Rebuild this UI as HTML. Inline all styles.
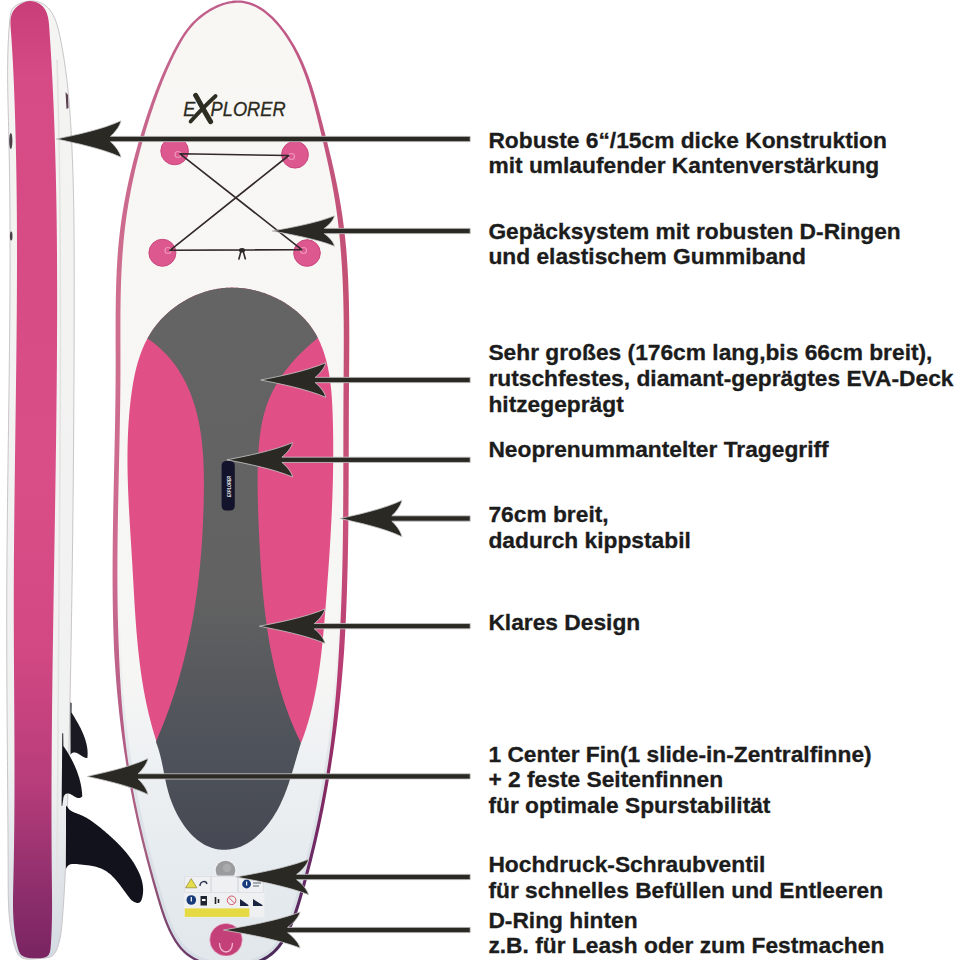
<!DOCTYPE html>
<html><head><meta charset="utf-8"><style>
html,body{margin:0;padding:0;background:#fff;}
svg{display:block;}
text{font-family:"Liberation Sans",sans-serif;}
</style></head><body>
<svg width="960" height="960" viewBox="0 0 960 960">
<defs>
 <linearGradient id="sidePink" x1="0" y1="0" x2="0" y2="1">
  <stop offset="0" stop-color="#c83e78"/>
  <stop offset="0.08" stop-color="#d64a85"/>
  <stop offset="0.5" stop-color="#da4e87"/>
  <stop offset="0.68" stop-color="#d24883"/>
  <stop offset="0.82" stop-color="#b63c7a"/>
  <stop offset="0.93" stop-color="#8e2e6c"/>
  <stop offset="1" stop-color="#7a2462"/>
 </linearGradient>
 <linearGradient id="sideBody" gradientUnits="userSpaceOnUse" x1="0" y1="0" x2="0" y2="960">
  <stop offset="0" stop-color="#f4f4f2"/>
  <stop offset="0.8" stop-color="#f0f1f1"/>
  <stop offset="0.9" stop-color="#e2e6ea"/>
  <stop offset="1" stop-color="#d4dae2"/>
 </linearGradient>
 <linearGradient id="greyG" gradientUnits="userSpaceOnUse" x1="0" y1="288" x2="0" y2="851">
  <stop offset="0" stop-color="#646464"/>
  <stop offset="0.55" stop-color="#626262"/>
  <stop offset="0.66" stop-color="#595b5e"/>
  <stop offset="0.82" stop-color="#4e525a"/>
  <stop offset="1" stop-color="#464953"/>
 </linearGradient>
 <linearGradient id="rimL" gradientUnits="userSpaceOnUse" x1="0" y1="0" x2="0" y2="960">
  <stop offset="0" stop-color="#c0608a"/>
  <stop offset="0.3" stop-color="#d06e8f"/>
  <stop offset="0.6" stop-color="#cc6a90"/>
  <stop offset="0.76" stop-color="#b45c86"/>
  <stop offset="0.88" stop-color="#a65e80"/>
  <stop offset="1" stop-color="#6a3a68"/>
 </linearGradient>
 <linearGradient id="rimR" gradientUnits="userSpaceOnUse" x1="0" y1="0" x2="0" y2="960">
  <stop offset="0" stop-color="#c05a88"/>
  <stop offset="0.3" stop-color="#c45074"/>
  <stop offset="0.55" stop-color="#c8507a"/>
  <stop offset="0.72" stop-color="#b63a72"/>
  <stop offset="0.8" stop-color="#8a2a62"/>
  <stop offset="0.9" stop-color="#6a2a66"/>
  <stop offset="1" stop-color="#4a2a58"/>
 </linearGradient>
 <linearGradient id="railG" gradientUnits="userSpaceOnUse" x1="0" y1="0" x2="0" y2="960">
  <stop offset="0" stop-color="#f8f7f4" stop-opacity="0"/>
  <stop offset="0.6" stop-color="#eef0f0" stop-opacity="0"/>
  <stop offset="0.8" stop-color="#dde3e8" stop-opacity="0.9"/>
  <stop offset="1" stop-color="#d6dde4" stop-opacity="1"/>
 </linearGradient>
 <clipPath id="clipL"><rect x="0" y="0" width="232" height="960"/></clipPath>
 <clipPath id="clipR"><rect x="232" y="0" width="300" height="960"/></clipPath>
 <clipPath id="clipBoard"><path d="M238.71,1.61 L236.49,1.62 L234.25,1.77 L232.00,2.03 L229.73,2.41 L227.45,2.91 L225.17,3.51 L222.90,4.21 L220.63,5.02 L218.38,5.91 L216.14,6.90 L213.93,7.98 L211.75,9.13 L209.59,10.36 L207.48,11.67 L205.41,13.04 L203.39,14.47 L201.42,15.97 L199.51,17.51 L197.66,19.11 L195.88,20.75 L194.17,22.44 L192.53,24.16 L190.96,25.92 L189.45,27.71 L188.00,29.53 L186.60,31.39 L185.26,33.27 L183.96,35.18 L182.71,37.11 L181.49,39.07 L180.31,41.04 L179.16,43.03 L178.04,45.04 L176.95,47.07 L175.87,49.10 L174.81,51.14 L173.77,53.19 L172.73,55.25 L171.72,57.32 L170.71,59.40 L169.72,61.48 L168.75,63.57 L167.78,65.67 L166.83,67.77 L165.89,69.88 L164.96,72.00 L164.05,74.13 L163.14,76.26 L162.25,78.40 L161.37,80.54 L160.50,82.70 L159.64,84.85 L158.79,87.01 L157.96,89.18 L157.13,91.35 L156.31,93.53 L155.50,95.72 L154.70,97.90 L153.91,100.10 L153.13,102.29 L152.36,104.49 L151.60,106.70 L150.84,108.91 L150.10,111.12 L149.36,113.34 L148.62,115.56 L147.90,117.78 L147.18,120.01 L146.47,122.24 L145.77,124.47 L145.07,126.70 L144.38,128.94 L143.70,131.18 L143.02,133.43 L142.36,135.67 L141.70,137.92 L141.04,140.17 L140.40,142.42 L139.76,144.68 L139.13,146.93 L138.51,149.19 L137.89,151.46 L137.29,153.72 L136.69,155.99 L136.10,158.25 L135.52,160.52 L134.94,162.80 L134.38,165.07 L133.82,167.35 L133.28,169.62 L132.74,171.90 L132.21,174.18 L131.69,176.47 L131.18,178.75 L130.68,181.04 L130.19,183.33 L129.71,185.61 L129.23,187.90 L128.77,190.20 L128.32,192.49 L127.88,194.78 L127.44,197.08 L127.02,199.37 L126.61,201.67 L126.21,203.97 L125.81,206.27 L125.43,208.57 L125.06,210.87 L124.70,213.18 L124.36,215.48 L124.02,217.78 L123.69,220.09 L123.38,222.39 L123.07,224.70 L122.78,227.00 L122.50,229.31 L122.23,231.62 L121.97,233.93 L121.72,236.24 L121.48,238.54 L121.25,240.85 L121.03,243.16 L120.83,245.47 L120.63,247.78 L120.44,250.10 L120.26,252.41 L120.09,254.72 L119.92,257.03 L119.77,259.35 L119.62,261.66 L119.49,263.97 L119.36,266.29 L119.23,268.60 L119.12,270.92 L119.01,273.24 L118.91,275.55 L118.82,277.87 L118.73,280.19 L118.65,282.51 L118.57,284.82 L118.50,287.14 L118.44,289.46 L118.38,291.78 L118.33,294.10 L118.28,296.42 L118.23,298.74 L118.20,301.07 L118.16,303.39 L118.13,305.71 L118.10,308.03 L118.08,310.35 L118.06,312.68 L118.04,315.00 L118.03,317.33 L118.02,319.65 L118.01,321.98 L118.01,324.30 L118.00,326.63 L118.00,328.95 L118.00,331.28 L118.00,333.61 L118.00,335.93 L118.01,338.26 L118.01,340.59 L118.02,342.92 L118.02,345.25 L118.03,347.58 L118.03,349.91 L118.04,352.24 L118.04,354.57 L118.05,356.90 L118.05,359.23 L118.05,361.56 L118.05,363.89 L118.05,366.22 L118.05,368.56 L118.04,370.89 L118.03,373.22 L118.02,375.55 L118.01,377.89 L118.00,380.22 L117.98,382.56 L117.97,384.89 L117.95,387.22 L117.92,389.56 L117.90,391.90 L117.88,394.23 L117.85,396.57 L117.82,398.90 L117.79,401.24 L117.76,403.58 L117.73,405.91 L117.70,408.25 L117.66,410.59 L117.63,412.92 L117.59,415.26 L117.55,417.60 L117.51,419.94 L117.47,422.28 L117.43,424.61 L117.39,426.95 L117.34,429.29 L117.30,431.63 L117.25,433.97 L117.21,436.31 L117.16,438.65 L117.11,440.99 L117.07,443.33 L117.02,445.67 L116.97,448.01 L116.92,450.35 L116.87,452.69 L116.82,455.03 L116.77,457.37 L116.72,459.71 L116.67,462.05 L116.62,464.39 L116.56,466.73 L116.51,469.07 L116.46,471.41 L116.41,473.75 L116.36,476.09 L116.31,478.43 L116.26,480.77 L116.21,483.11 L116.16,485.45 L116.11,487.80 L116.06,490.14 L116.01,492.48 L115.96,494.82 L115.91,497.16 L115.87,499.50 L115.82,501.84 L115.77,504.18 L115.73,506.52 L115.68,508.86 L115.64,511.20 L115.60,513.54 L115.56,515.88 L115.52,518.22 L115.48,520.56 L115.44,522.91 L115.40,525.25 L115.36,527.59 L115.33,529.93 L115.30,532.26 L115.26,534.60 L115.23,536.94 L115.21,539.28 L115.18,541.62 L115.15,543.96 L115.13,546.30 L115.11,548.64 L115.08,550.98 L115.07,553.32 L115.05,555.65 L115.03,557.99 L115.02,560.33 L115.01,562.67 L115.00,565.01 L114.99,567.34 L114.99,569.68 L114.98,572.02 L114.98,574.35 L114.98,576.69 L114.99,579.03 L115.00,581.36 L115.00,583.70 L115.02,586.03 L115.03,588.37 L115.05,590.70 L115.07,593.04 L115.09,595.37 L115.11,597.71 L115.14,600.04 L115.17,602.37 L115.20,604.70 L115.24,607.04 L115.28,609.37 L115.32,611.70 L115.37,614.03 L115.41,616.36 L115.47,618.70 L115.52,621.03 L115.58,623.36 L115.64,625.69 L115.71,628.02 L115.78,630.34 L115.85,632.67 L115.92,635.00 L116.00,637.33 L116.09,639.66 L116.17,641.98 L116.26,644.31 L116.36,646.64 L116.46,648.96 L116.56,651.29 L116.66,653.61 L116.77,655.94 L116.89,658.26 L117.01,660.58 L117.13,662.91 L117.26,665.23 L117.39,667.55 L117.52,669.87 L117.66,672.20 L117.81,674.52 L117.96,676.84 L118.11,679.16 L118.27,681.47 L118.43,683.79 L118.60,686.11 L118.77,688.43 L118.95,690.74 L119.13,693.06 L119.31,695.38 L119.51,697.69 L119.70,700.01 L119.90,702.32 L120.11,704.63 L120.32,706.95 L120.54,709.26 L120.76,711.57 L120.99,713.88 L121.22,716.19 L121.46,718.50 L121.71,720.81 L121.96,723.12 L122.21,725.42 L122.47,727.73 L122.74,730.04 L123.01,732.34 L123.29,734.65 L123.57,736.95 L123.86,739.26 L124.16,741.56 L124.46,743.86 L124.76,746.16 L125.08,748.46 L125.40,750.76 L125.72,753.06 L126.05,755.36 L126.39,757.66 L126.74,759.96 L127.09,762.25 L127.45,764.55 L127.81,766.84 L128.18,769.14 L128.56,771.43 L128.94,773.72 L129.33,776.02 L129.73,778.31 L130.13,780.60 L130.54,782.89 L130.96,785.18 L131.38,787.46 L131.81,789.75 L132.24,792.04 L132.68,794.32 L133.13,796.61 L133.58,798.89 L134.04,801.18 L134.50,803.46 L134.97,805.75 L135.45,808.03 L135.93,810.31 L136.41,812.59 L136.91,814.87 L137.41,817.15 L137.91,819.43 L138.42,821.71 L138.93,823.99 L139.45,826.27 L139.98,828.54 L140.51,830.82 L141.04,833.10 L141.59,835.37 L142.13,837.65 L142.68,839.93 L143.24,842.20 L143.80,844.47 L144.37,846.75 L144.94,849.02 L145.51,851.30 L146.09,853.57 L146.68,855.84 L147.27,858.11 L147.86,860.39 L148.46,862.66 L149.06,864.93 L149.67,867.20 L150.28,869.47 L150.90,871.74 L151.52,874.01 L152.14,876.28 L152.77,878.55 L153.40,880.82 L154.04,883.09 L154.68,885.36 L155.33,887.63 L155.97,889.90 L156.63,892.17 L157.28,894.43 L157.94,896.70 L158.61,898.97 L159.28,901.24 L159.96,903.50 L160.65,905.75 L161.35,908.00 L162.07,910.24 L162.81,912.46 L163.56,914.68 L164.34,916.88 L165.14,919.06 L165.96,921.23 L166.81,923.38 L167.69,925.50 L168.60,927.61 L169.54,929.69 L170.52,931.74 L171.54,933.77 L172.60,935.76 L173.69,937.73 L174.83,939.66 L176.02,941.56 L177.26,943.42 L178.56,945.23 L179.92,946.98 L181.35,948.67 L182.86,950.30 L184.45,951.85 L186.13,953.33 L187.89,954.73 L189.72,956.05 L191.63,957.30 L193.62,958.47 L195.67,959.57 L197.79,960.60 L199.97,961.55 L202.21,962.43 L204.50,963.23 L206.83,963.95 L209.21,964.61 L211.63,965.18 L214.08,965.68 L216.55,966.10 L219.06,966.45 L221.58,966.72 L224.11,966.92 L226.66,967.04 L229.21,967.08 L231.76,967.04 L234.31,966.93 L236.85,966.74 L239.38,966.48 L241.89,966.13 L244.37,965.71 L246.83,965.21 L249.26,964.63 L251.65,963.97 L254.01,963.24 L256.31,962.42 L258.57,961.53 L260.77,960.55 L262.91,959.50 L264.99,958.37 L267.00,957.16 L268.94,955.87 L270.80,954.49 L272.58,953.04 L274.27,951.51 L275.87,949.90 L277.38,948.21 L278.82,946.46 L280.18,944.65 L281.48,942.79 L282.73,940.89 L283.92,938.95 L285.06,936.98 L286.16,934.99 L287.22,932.96 L288.24,930.91 L289.22,928.84 L290.16,926.74 L291.07,924.62 L291.95,922.49 L292.80,920.33 L293.62,918.16 L294.41,915.97 L295.18,913.76 L295.93,911.55 L296.66,909.32 L297.37,907.08 L298.07,904.84 L298.75,902.59 L299.42,900.33 L300.08,898.07 L300.73,895.81 L301.38,893.54 L302.02,891.28 L302.66,889.01 L303.29,886.75 L303.92,884.48 L304.54,882.21 L305.16,879.94 L305.77,877.68 L306.38,875.41 L306.98,873.14 L307.57,870.87 L308.16,868.59 L308.75,866.32 L309.33,864.05 L309.91,861.78 L310.48,859.50 L311.04,857.23 L311.60,854.95 L312.16,852.68 L312.71,850.40 L313.25,848.12 L313.79,845.85 L314.32,843.57 L314.85,841.29 L315.38,839.01 L315.90,836.73 L316.41,834.45 L316.92,832.16 L317.42,829.88 L317.92,827.60 L318.41,825.32 L318.90,823.03 L319.38,820.75 L319.86,818.46 L320.33,816.18 L320.80,813.89 L321.26,811.60 L321.72,809.31 L322.17,807.02 L322.61,804.74 L323.05,802.45 L323.49,800.15 L323.92,797.86 L324.35,795.57 L324.77,793.28 L325.18,790.99 L325.59,788.69 L326.00,786.40 L326.40,784.10 L326.79,781.81 L327.18,779.51 L327.56,777.22 L327.94,774.92 L328.32,772.62 L328.68,770.32 L329.05,768.02 L329.40,765.72 L329.76,763.42 L330.11,761.12 L330.45,758.82 L330.79,756.52 L331.12,754.22 L331.45,751.91 L331.77,749.61 L332.09,747.31 L332.40,745.00 L332.71,742.70 L333.01,740.39 L333.31,738.08 L333.61,735.78 L333.90,733.47 L334.18,731.16 L334.46,728.85 L334.74,726.54 L335.01,724.23 L335.28,721.92 L335.54,719.61 L335.80,717.30 L336.05,714.99 L336.30,712.68 L336.55,710.36 L336.79,708.05 L337.03,705.74 L337.26,703.42 L337.49,701.11 L337.71,698.79 L337.93,696.48 L338.15,694.16 L338.36,691.85 L338.57,689.53 L338.78,687.21 L338.98,684.89 L339.18,682.58 L339.37,680.26 L339.56,677.94 L339.74,675.62 L339.93,673.30 L340.11,670.98 L340.28,668.66 L340.45,666.34 L340.62,664.02 L340.79,661.69 L340.95,659.37 L341.10,657.05 L341.26,654.73 L341.41,652.40 L341.56,650.08 L341.70,647.75 L341.84,645.43 L341.98,643.11 L342.12,640.78 L342.25,638.45 L342.38,636.13 L342.50,633.80 L342.63,631.48 L342.75,629.15 L342.86,626.82 L342.98,624.49 L343.09,622.17 L343.20,619.84 L343.30,617.51 L343.41,615.18 L343.51,612.85 L343.60,610.52 L343.70,608.19 L343.79,605.86 L343.88,603.53 L343.97,601.20 L344.05,598.87 L344.13,596.54 L344.21,594.21 L344.29,591.88 L344.37,589.55 L344.44,587.22 L344.51,584.88 L344.58,582.55 L344.65,580.22 L344.71,577.89 L344.77,575.55 L344.83,573.22 L344.89,570.89 L344.95,568.55 L345.00,566.22 L345.05,563.88 L345.10,561.55 L345.15,559.22 L345.20,556.88 L345.24,554.55 L345.29,552.21 L345.33,549.88 L345.37,547.54 L345.41,545.21 L345.44,542.87 L345.48,540.53 L345.51,538.20 L345.55,535.86 L345.58,533.53 L345.61,531.19 L345.63,528.85 L345.66,526.52 L345.69,524.18 L345.71,521.84 L345.73,519.51 L345.76,517.17 L345.78,514.83 L345.80,512.50 L345.81,510.16 L345.83,507.82 L345.85,505.48 L345.86,503.15 L345.88,500.81 L345.89,498.47 L345.91,496.13 L345.92,493.80 L345.93,491.46 L345.94,489.12 L345.95,486.78 L345.96,484.45 L345.97,482.11 L345.98,479.77 L345.99,477.43 L345.99,475.09 L346.00,472.76 L346.01,470.42 L346.01,468.08 L346.02,465.74 L346.02,463.40 L346.03,461.07 L346.03,458.73 L346.04,456.39 L346.04,454.05 L346.05,451.71 L346.05,449.38 L346.06,447.04 L346.06,444.70 L346.07,442.36 L346.07,440.02 L346.08,437.69 L346.08,435.35 L346.08,433.01 L346.09,430.67 L346.10,428.34 L346.10,426.00 L346.11,423.66 L346.11,421.33 L346.12,418.99 L346.13,416.65 L346.13,414.32 L346.14,411.98 L346.15,409.64 L346.16,407.31 L346.17,404.97 L346.18,402.63 L346.19,400.30 L346.21,397.96 L346.22,395.62 L346.23,393.29 L346.25,390.95 L346.26,388.62 L346.28,386.28 L346.29,383.95 L346.31,381.61 L346.33,379.28 L346.35,376.94 L346.36,374.61 L346.38,372.28 L346.40,369.94 L346.41,367.61 L346.43,365.28 L346.45,362.94 L346.46,360.61 L346.47,358.28 L346.49,355.94 L346.50,353.61 L346.51,351.28 L346.51,348.95 L346.52,346.62 L346.53,344.29 L346.53,341.95 L346.53,339.62 L346.53,337.29 L346.52,334.96 L346.52,332.63 L346.51,330.30 L346.49,327.98 L346.48,325.65 L346.46,323.32 L346.44,320.99 L346.42,318.66 L346.39,316.34 L346.36,314.01 L346.32,311.68 L346.28,309.36 L346.24,307.03 L346.19,304.70 L346.14,302.38 L346.08,300.05 L346.02,297.73 L345.95,295.41 L345.88,293.08 L345.81,290.76 L345.73,288.44 L345.64,286.12 L345.55,283.79 L345.45,281.47 L345.35,279.15 L345.24,276.83 L345.13,274.51 L345.00,272.19 L344.88,269.87 L344.74,267.55 L344.60,265.24 L344.46,262.92 L344.30,260.60 L344.14,258.29 L343.97,255.97 L343.80,253.66 L343.62,251.34 L343.43,249.03 L343.23,246.71 L343.02,244.40 L342.81,242.09 L342.59,239.77 L342.36,237.46 L342.12,235.15 L341.87,232.84 L341.62,230.53 L341.35,228.22 L341.08,225.91 L340.80,223.61 L340.51,221.30 L340.21,218.99 L339.90,216.69 L339.58,214.38 L339.25,212.08 L338.91,209.77 L338.56,207.47 L338.20,205.17 L337.83,202.86 L337.45,200.56 L337.06,198.26 L336.66,195.96 L336.25,193.66 L335.83,191.36 L335.41,189.07 L334.97,186.77 L334.53,184.47 L334.08,182.18 L333.62,179.89 L333.15,177.59 L332.68,175.30 L332.20,173.01 L331.71,170.72 L331.21,168.43 L330.71,166.14 L330.21,163.85 L329.70,161.57 L329.18,159.28 L328.66,157.00 L328.13,154.72 L327.59,152.44 L327.06,150.16 L326.52,147.88 L325.97,145.60 L325.42,143.32 L324.87,141.05 L324.32,138.77 L323.76,136.50 L323.20,134.23 L322.63,131.96 L322.07,129.69 L321.50,127.43 L320.93,125.16 L320.36,122.90 L319.79,120.64 L319.22,118.38 L318.64,116.12 L318.06,113.86 L317.48,111.61 L316.89,109.36 L316.30,107.11 L315.70,104.86 L315.09,102.62 L314.47,100.38 L313.84,98.15 L313.20,95.92 L312.55,93.69 L311.89,91.47 L311.21,89.26 L310.52,87.05 L309.82,84.84 L309.09,82.65 L308.35,80.45 L307.60,78.27 L306.82,76.09 L306.02,73.91 L305.20,71.75 L304.36,69.59 L303.50,67.44 L302.61,65.30 L301.70,63.16 L300.76,61.04 L299.80,58.92 L298.80,56.81 L297.78,54.71 L296.73,52.62 L295.65,50.54 L294.54,48.47 L293.40,46.41 L292.22,44.36 L291.01,42.32 L289.76,40.29 L288.48,38.28 L287.16,36.27 L285.80,34.28 L284.41,32.31 L282.98,30.36 L281.51,28.44 L280.01,26.55 L278.47,24.69 L276.90,22.88 L275.29,21.11 L273.65,19.39 L271.98,17.72 L270.27,16.11 L268.53,14.56 L266.76,13.07 L264.95,11.66 L263.11,10.32 L261.24,9.06 L259.34,7.88 L257.41,6.79 L255.45,5.79 L253.46,4.88 L251.44,4.08 L249.39,3.38 L247.31,2.79 L245.20,2.32 L243.06,1.96 L240.90,1.72 L238.71,1.61 Z"/></clipPath>
 <linearGradient id="boardG" gradientUnits="userSpaceOnUse" x1="0" y1="0" x2="0" y2="960">
  <stop offset="0" stop-color="#f8f7f4"/>
  <stop offset="0.7" stop-color="#f6f6f4"/>
  <stop offset="0.79" stop-color="#eef1f3"/>
  <stop offset="0.9" stop-color="#e6ebef"/>
  <stop offset="1" stop-color="#e2e7ec"/>
 </linearGradient>
</defs>
<rect width="960" height="960" fill="#fff"/>

<!-- side board -->
<path d="M24.26,1.88 L20.58,3.09 L17.12,4.77 L14.20,6.90 L12.14,9.46 L10.93,12.36 L10.30,15.50 L9.94,18.74 L9.63,22.00 L9.35,25.26 L9.10,28.53 L8.87,31.79 L8.66,35.06 L8.47,38.33 L8.31,41.61 L8.16,44.88 L8.04,48.16 L7.93,51.44 L7.84,54.72 L7.77,58.01 L7.71,61.29 L7.67,64.58 L7.65,67.87 L7.63,71.16 L7.63,74.45 L7.64,77.75 L7.66,81.04 L7.70,84.34 L7.74,87.64 L7.79,90.94 L7.84,94.24 L7.91,97.54 L7.97,100.84 L8.05,104.14 L8.13,107.44 L8.21,110.74 L8.29,114.05 L8.37,117.35 L8.46,120.65 L8.54,123.96 L8.63,127.26 L8.71,130.57 L8.79,133.87 L8.86,137.17 L8.94,140.48 L9.01,143.78 L9.07,147.08 L9.14,150.38 L9.20,153.69 L9.26,156.99 L9.32,160.29 L9.38,163.59 L9.43,166.90 L9.48,170.20 L9.53,173.50 L9.58,176.80 L9.62,180.10 L9.66,183.40 L9.70,186.70 L9.74,190.01 L9.77,193.31 L9.81,196.61 L9.84,199.91 L9.87,203.21 L9.89,206.51 L9.92,209.81 L9.94,213.11 L9.96,216.41 L9.98,219.71 L10.00,223.01 L10.01,226.31 L10.02,229.61 L10.04,232.91 L10.05,236.21 L10.05,239.51 L10.06,242.81 L10.06,246.10 L10.07,249.40 L10.07,252.70 L10.07,256.00 L10.06,259.30 L10.06,262.60 L10.05,265.90 L10.05,269.20 L10.04,272.49 L10.03,275.79 L10.02,279.09 L10.00,282.39 L9.99,285.69 L9.97,288.98 L9.96,292.28 L9.94,295.58 L9.92,298.88 L9.90,302.18 L9.88,305.47 L9.86,308.77 L9.83,312.07 L9.81,315.37 L9.78,318.66 L9.75,321.96 L9.72,325.26 L9.70,328.56 L9.67,331.85 L9.63,335.15 L9.60,338.45 L9.57,341.74 L9.54,345.04 L9.50,348.34 L9.47,351.63 L9.43,354.93 L9.39,358.23 L9.36,361.53 L9.32,364.82 L9.28,368.12 L9.24,371.42 L9.20,374.71 L9.16,378.01 L9.12,381.31 L9.08,384.60 L9.04,387.90 L8.99,391.20 L8.95,394.49 L8.91,397.79 L8.86,401.09 L8.82,404.38 L8.78,407.68 L8.73,410.97 L8.69,414.27 L8.64,417.57 L8.60,420.86 L8.55,424.16 L8.51,427.46 L8.46,430.75 L8.42,434.05 L8.37,437.35 L8.33,440.64 L8.28,443.94 L8.24,447.24 L8.19,450.53 L8.15,453.83 L8.10,457.13 L8.06,460.42 L8.01,463.72 L7.97,467.02 L7.93,470.31 L7.88,473.61 L7.84,476.91 L7.80,480.20 L7.75,483.50 L7.71,486.80 L7.67,490.10 L7.63,493.39 L7.59,496.69 L7.55,499.99 L7.51,503.28 L7.47,506.58 L7.43,509.88 L7.39,513.18 L7.36,516.47 L7.32,519.77 L7.29,523.07 L7.25,526.37 L7.22,529.66 L7.18,532.96 L7.15,536.26 L7.12,539.56 L7.09,542.85 L7.06,546.15 L7.03,549.45 L7.01,552.75 L6.98,556.05 L6.95,559.34 L6.93,562.64 L6.91,565.94 L6.88,569.24 L6.86,572.54 L6.84,575.84 L6.82,579.14 L6.81,582.44 L6.79,585.73 L6.78,589.03 L6.76,592.33 L6.75,595.63 L6.74,598.93 L6.73,602.23 L6.72,605.53 L6.72,608.83 L6.71,612.13 L6.71,615.43 L6.71,618.73 L6.71,622.03 L6.71,625.33 L6.71,628.63 L6.71,631.93 L6.72,635.23 L6.72,638.53 L6.73,641.83 L6.74,645.13 L6.74,648.43 L6.75,651.73 L6.76,655.03 L6.77,658.33 L6.79,661.63 L6.80,664.94 L6.81,668.24 L6.83,671.54 L6.84,674.84 L6.86,678.14 L6.88,681.44 L6.90,684.74 L6.91,688.04 L6.93,691.34 L6.95,694.64 L6.97,697.94 L7.00,701.24 L7.02,704.54 L7.04,707.84 L7.06,711.14 L7.09,714.44 L7.11,717.74 L7.13,721.04 L7.16,724.34 L7.18,727.64 L7.21,730.94 L7.23,734.24 L7.26,737.54 L7.28,740.84 L7.31,744.14 L7.34,747.44 L7.36,750.74 L7.39,754.04 L7.42,757.34 L7.44,760.64 L7.47,763.94 L7.49,767.24 L7.52,770.53 L7.55,773.83 L7.57,777.13 L7.60,780.43 L7.63,783.73 L7.65,787.03 L7.68,790.32 L7.70,793.62 L7.73,796.92 L7.75,800.22 L7.78,803.51 L7.80,806.81 L7.83,810.11 L7.85,813.40 L7.87,816.70 L7.90,820.00 L7.92,823.29 L7.94,826.59 L7.96,829.88 L7.98,833.18 L8.00,836.47 L8.02,839.77 L8.04,843.06 L8.05,846.36 L8.07,849.65 L8.09,852.94 L8.10,856.24 L8.12,859.53 L8.13,862.82 L8.14,866.12 L8.15,869.41 L8.17,872.70 L8.18,875.99 L8.18,879.28 L8.19,882.57 L8.20,885.87 L8.22,889.16 L8.25,892.45 L8.30,895.74 L8.37,899.03 L8.47,902.32 L8.60,905.61 L8.76,908.91 L8.97,912.20 L9.22,915.49 L9.53,918.79 L9.88,922.09 L10.30,925.38 L10.79,928.68 L11.34,931.98 L11.97,935.29 L12.68,938.59 L13.48,941.89 L14.36,945.20 L15.35,948.48 L16.54,951.59 L18.05,954.33 L19.96,956.53 L22.39,958.03 L25.31,958.83 L28.61,959.12 L32.17,959.04 L35.87,958.75 L39.61,958.43 L43.26,958.19 L46.70,957.85 L49.80,957.12 L52.42,955.73 L54.51,953.55 L56.16,950.77 L57.46,947.63 L58.51,944.38 L59.39,941.11 L60.11,937.85 L60.70,934.58 L61.18,931.31 L61.57,928.03 L61.89,924.76 L62.18,921.48 L62.44,918.20 L62.69,914.92 L62.94,911.64 L63.18,908.36 L63.40,905.07 L63.62,901.78 L63.84,898.50 L64.04,895.21 L64.24,891.92 L64.43,888.63 L64.61,885.33 L64.79,882.04 L64.96,878.75 L65.13,875.45 L65.28,872.16 L65.44,868.86 L65.58,865.56 L65.73,862.26 L65.86,858.97 L65.99,855.67 L66.12,852.37 L66.25,849.07 L66.36,845.77 L66.48,842.46 L66.59,839.16 L66.70,835.86 L66.80,832.56 L66.91,829.26 L67.00,825.95 L67.10,822.65 L67.20,819.35 L67.29,816.05 L67.38,812.74 L67.47,809.44 L67.56,806.14 L67.64,802.84 L67.73,799.53 L67.81,796.23 L67.90,792.93 L67.98,789.63 L68.07,786.33 L68.15,783.03 L68.23,779.73 L68.31,776.43 L68.39,773.13 L68.47,769.83 L68.55,766.53 L68.63,763.23 L68.71,759.93 L68.79,756.63 L68.87,753.34 L68.94,750.04 L69.02,746.74 L69.09,743.44 L69.17,740.15 L69.24,736.85 L69.32,733.55 L69.39,730.25 L69.46,726.96 L69.53,723.66 L69.61,720.36 L69.68,717.07 L69.75,713.77 L69.82,710.48 L69.89,707.18 L69.95,703.89 L70.02,700.59 L70.09,697.30 L70.15,694.00 L70.22,690.71 L70.29,687.41 L70.35,684.12 L70.41,680.82 L70.48,677.53 L70.54,674.23 L70.60,670.94 L70.67,667.65 L70.73,664.35 L70.79,661.06 L70.85,657.76 L70.91,654.47 L70.97,651.18 L71.02,647.88 L71.08,644.59 L71.14,641.30 L71.20,638.00 L71.25,634.71 L71.31,631.42 L71.36,628.13 L71.42,624.83 L71.47,621.54 L71.52,618.25 L71.58,614.95 L71.63,611.66 L71.68,608.37 L71.73,605.07 L71.78,601.78 L71.83,598.49 L71.88,595.20 L71.93,591.90 L71.98,588.61 L72.03,585.32 L72.07,582.02 L72.12,578.73 L72.17,575.44 L72.21,572.14 L72.26,568.85 L72.30,565.56 L72.35,562.27 L72.39,558.97 L72.43,555.68 L72.47,552.39 L72.52,549.09 L72.56,545.80 L72.60,542.50 L72.64,539.21 L72.68,535.92 L72.72,532.62 L72.76,529.33 L72.79,526.04 L72.83,522.74 L72.87,519.45 L72.90,516.15 L72.94,512.86 L72.98,509.56 L73.01,506.27 L73.05,502.97 L73.08,499.68 L73.11,496.38 L73.15,493.09 L73.18,489.79 L73.21,486.50 L73.24,483.20 L73.27,479.90 L73.30,476.61 L73.33,473.31 L73.36,470.02 L73.39,466.72 L73.42,463.42 L73.45,460.12 L73.47,456.83 L73.50,453.53 L73.53,450.23 L73.55,446.93 L73.58,443.63 L73.60,440.34 L73.63,437.04 L73.65,433.74 L73.67,430.44 L73.70,427.14 L73.72,423.84 L73.74,420.54 L73.76,417.24 L73.78,413.94 L73.80,410.64 L73.82,407.34 L73.84,404.04 L73.86,400.73 L73.88,397.43 L73.90,394.13 L73.92,390.83 L73.93,387.52 L73.95,384.22 L73.97,380.92 L73.98,377.61 L74.00,374.31 L74.01,371.00 L74.03,367.70 L74.04,364.39 L74.05,361.09 L74.07,357.78 L74.08,354.48 L74.09,351.17 L74.10,347.86 L74.11,344.56 L74.12,341.25 L74.13,337.94 L74.14,334.63 L74.15,331.32 L74.16,328.01 L74.17,324.70 L74.18,321.39 L74.18,318.08 L74.19,314.77 L74.20,311.46 L74.20,308.15 L74.21,304.84 L74.22,301.52 L74.22,298.21 L74.22,294.90 L74.23,291.58 L74.23,288.27 L74.23,284.96 L74.23,281.64 L74.23,278.33 L74.23,275.01 L74.23,271.70 L74.22,268.38 L74.22,265.07 L74.21,261.76 L74.20,258.44 L74.19,255.13 L74.18,251.82 L74.16,248.50 L74.14,245.19 L74.12,241.88 L74.10,238.57 L74.07,235.26 L74.04,231.96 L74.01,228.65 L73.98,225.34 L73.94,222.04 L73.90,218.74 L73.85,215.43 L73.80,212.13 L73.75,208.83 L73.69,205.53 L73.63,202.24 L73.57,198.94 L73.50,195.65 L73.43,192.36 L73.35,189.07 L73.27,185.78 L73.18,182.50 L73.09,179.21 L72.99,175.93 L72.89,172.65 L72.79,169.37 L72.67,166.10 L72.56,162.83 L72.43,159.56 L72.30,156.29 L72.17,153.02 L72.03,149.76 L71.88,146.50 L71.73,143.24 L71.57,139.99 L71.40,136.74 L71.23,133.49 L71.05,130.25 L70.87,127.01 L70.67,123.77 L70.47,120.53 L70.26,117.29 L70.04,114.06 L69.81,110.82 L69.56,107.58 L69.31,104.34 L69.04,101.10 L68.75,97.85 L68.45,94.60 L68.14,91.34 L67.80,88.08 L67.45,84.81 L67.09,81.54 L66.70,78.25 L66.29,74.96 L65.86,71.66 L65.41,68.34 L64.94,65.02 L64.44,61.69 L63.92,58.34 L63.38,54.98 L62.80,51.60 L62.21,48.21 L61.58,44.81 L60.93,41.38 L60.24,37.95 L59.52,34.50 L58.74,31.08 L57.88,27.71 L56.93,24.42 L55.86,21.23 L54.65,18.17 L53.29,15.27 L51.76,12.56 L50.03,10.07 L48.09,7.81 L45.91,5.83 L43.48,4.14 L40.79,2.78 L37.86,1.77 L34.72,1.15 L31.38,0.94 L27.89,1.18 L24.26,1.88 Z" fill="url(#sideBody)" stroke="#c8c4c8" stroke-width="1"/>
<path d="M27.07,1.35 L23.73,2.38 L20.59,4.01 L17.75,6.06 L15.33,8.33 L13.39,10.81 L11.94,13.50 L11.02,16.39 L10.55,19.45 L10.43,22.65 L10.54,25.94 L10.77,29.27 L11.01,32.61 L11.25,35.94 L11.48,39.26 L11.70,42.57 L11.92,45.88 L12.12,49.18 L12.32,52.48 L12.51,55.77 L12.69,59.06 L12.87,62.34 L13.03,65.62 L13.20,68.90 L13.36,72.17 L13.51,75.44 L13.65,78.71 L13.79,81.97 L13.93,85.24 L14.06,88.50 L14.19,91.76 L14.31,95.02 L14.43,98.28 L14.55,101.54 L14.66,104.80 L14.77,108.07 L14.88,111.33 L14.99,114.59 L15.09,117.85 L15.18,121.11 L15.28,124.38 L15.37,127.64 L15.46,130.90 L15.55,134.17 L15.63,137.43 L15.71,140.70 L15.79,143.96 L15.86,147.22 L15.94,150.49 L16.01,153.75 L16.07,157.02 L16.14,160.29 L16.20,163.55 L16.26,166.82 L16.31,170.09 L16.37,173.35 L16.42,176.62 L16.47,179.89 L16.51,183.15 L16.56,186.42 L16.60,189.69 L16.64,192.96 L16.68,196.23 L16.71,199.50 L16.74,202.77 L16.77,206.04 L16.80,209.30 L16.83,212.57 L16.85,215.84 L16.88,219.11 L16.90,222.38 L16.91,225.65 L16.93,228.93 L16.94,232.20 L16.96,235.47 L16.97,238.74 L16.97,242.01 L16.98,245.28 L16.98,248.55 L16.99,251.82 L16.99,255.10 L16.99,258.37 L16.99,261.64 L16.98,264.91 L16.98,268.19 L16.97,271.46 L16.96,274.73 L16.95,278.01 L16.94,281.28 L16.93,284.55 L16.91,287.83 L16.90,291.10 L16.88,294.37 L16.86,297.65 L16.84,300.92 L16.82,304.19 L16.80,307.47 L16.78,310.74 L16.75,314.02 L16.73,317.29 L16.70,320.57 L16.67,323.84 L16.64,327.12 L16.61,330.39 L16.58,333.67 L16.55,336.94 L16.52,340.21 L16.48,343.49 L16.45,346.77 L16.42,350.04 L16.38,353.32 L16.34,356.59 L16.31,359.87 L16.27,363.14 L16.23,366.42 L16.19,369.69 L16.15,372.97 L16.11,376.24 L16.07,379.52 L16.03,382.79 L15.98,386.07 L15.94,389.35 L15.90,392.62 L15.86,395.90 L15.81,399.17 L15.77,402.45 L15.73,405.72 L15.68,409.00 L15.64,412.28 L15.59,415.55 L15.55,418.83 L15.50,422.10 L15.46,425.38 L15.41,428.65 L15.37,431.93 L15.32,435.20 L15.28,438.48 L15.23,441.75 L15.19,445.03 L15.14,448.31 L15.10,451.58 L15.05,454.86 L15.01,458.13 L14.97,461.41 L14.92,464.68 L14.88,467.96 L14.84,471.23 L14.79,474.51 L14.75,477.78 L14.71,481.06 L14.67,484.33 L14.63,487.60 L14.59,490.88 L14.55,494.15 L14.51,497.43 L14.47,500.70 L14.44,503.97 L14.40,507.25 L14.36,510.52 L14.33,513.80 L14.29,517.07 L14.26,520.34 L14.23,523.62 L14.19,526.89 L14.16,530.16 L14.13,533.43 L14.11,536.71 L14.08,539.98 L14.05,543.25 L14.02,546.52 L14.00,549.80 L13.98,553.07 L13.95,556.34 L13.93,559.61 L13.91,562.88 L13.89,566.15 L13.88,569.43 L13.86,572.70 L13.85,575.97 L13.83,579.24 L13.82,582.51 L13.81,585.78 L13.80,589.05 L13.80,592.32 L13.79,595.59 L13.79,598.86 L13.78,602.13 L13.78,605.39 L13.78,608.66 L13.79,611.93 L13.79,615.20 L13.80,618.47 L13.80,621.74 L13.81,625.00 L13.82,628.27 L13.83,631.54 L13.84,634.81 L13.85,638.07 L13.86,641.34 L13.88,644.61 L13.89,647.88 L13.91,651.14 L13.92,654.41 L13.94,657.68 L13.96,660.94 L13.98,664.21 L13.99,667.48 L14.01,670.74 L14.03,674.01 L14.05,677.28 L14.07,680.55 L14.09,683.81 L14.11,687.08 L14.13,690.35 L14.15,693.62 L14.17,696.88 L14.19,700.15 L14.21,703.42 L14.23,706.69 L14.25,709.95 L14.27,713.22 L14.29,716.49 L14.31,719.76 L14.32,723.03 L14.34,726.30 L14.36,729.57 L14.37,732.84 L14.39,736.11 L14.40,739.38 L14.41,742.65 L14.42,745.92 L14.44,749.19 L14.45,752.46 L14.45,755.73 L14.46,759.00 L14.47,762.27 L14.47,765.54 L14.48,768.82 L14.48,772.09 L14.48,775.36 L14.48,778.64 L14.48,781.91 L14.47,785.19 L14.47,788.46 L14.46,791.74 L14.45,795.01 L14.44,798.29 L14.43,801.57 L14.41,804.84 L14.39,808.12 L14.38,811.40 L14.35,814.68 L14.33,817.96 L14.30,821.24 L14.28,824.52 L14.24,827.80 L14.21,831.08 L14.17,834.36 L14.14,837.64 L14.09,840.93 L14.05,844.21 L14.00,847.50 L13.95,850.78 L13.90,854.07 L13.85,857.35 L13.79,860.64 L13.73,863.93 L13.66,867.21 L13.59,870.50 L13.52,873.79 L13.45,877.08 L13.37,880.38 L13.29,883.67 L13.21,886.96 L13.14,890.25 L13.08,893.54 L13.03,896.83 L13.00,900.11 L12.99,903.39 L13.02,906.66 L13.07,909.93 L13.17,913.20 L13.30,916.45 L13.49,919.70 L13.72,922.94 L14.01,926.17 L14.35,929.39 L14.77,932.60 L15.25,935.80 L15.80,938.99 L16.44,942.16 L17.15,945.32 L17.95,948.47 L18.94,951.50 L20.37,954.13 L22.54,956.08 L25.47,957.27 L28.87,957.93 L32.52,958.22 L36.31,958.26 L40.11,958.16 L43.69,957.80 L46.63,956.86 L48.62,955.07 L49.80,952.54 L50.41,949.53 L50.73,946.27 L50.97,942.97 L51.18,939.67 L51.36,936.37 L51.52,933.08 L51.65,929.79 L51.76,926.51 L51.85,923.22 L51.92,919.94 L51.98,916.67 L52.02,913.39 L52.04,910.11 L52.05,906.84 L52.05,903.57 L52.04,900.30 L52.02,897.03 L52.00,893.76 L51.97,890.49 L51.93,887.23 L51.90,883.96 L51.87,880.69 L51.83,877.43 L51.80,874.16 L51.77,870.89 L51.74,867.62 L51.72,864.35 L51.69,861.09 L51.67,857.82 L51.65,854.55 L51.63,851.28 L51.61,848.01 L51.59,844.74 L51.58,841.47 L51.56,838.21 L51.55,834.94 L51.54,831.67 L51.53,828.40 L51.52,825.13 L51.52,821.86 L51.51,818.59 L51.51,815.32 L51.51,812.05 L51.51,808.77 L51.51,805.50 L51.51,802.23 L51.51,798.96 L51.52,795.69 L51.53,792.42 L51.53,789.15 L51.54,785.88 L51.55,782.61 L51.56,779.33 L51.58,776.06 L51.59,772.79 L51.61,769.52 L51.62,766.25 L51.64,762.97 L51.66,759.70 L51.68,756.43 L51.70,753.16 L51.72,749.88 L51.74,746.61 L51.77,743.34 L51.79,740.06 L51.82,736.79 L51.84,733.52 L51.87,730.24 L51.90,726.97 L51.93,723.70 L51.96,720.42 L51.99,717.15 L52.03,713.88 L52.06,710.60 L52.09,707.33 L52.13,704.05 L52.16,700.78 L52.20,697.51 L52.24,694.23 L52.28,690.96 L52.32,687.68 L52.35,684.41 L52.40,681.13 L52.44,677.86 L52.48,674.59 L52.52,671.31 L52.56,668.04 L52.61,664.76 L52.65,661.49 L52.70,658.21 L52.74,654.94 L52.79,651.66 L52.83,648.39 L52.88,645.11 L52.93,641.84 L52.98,638.56 L53.02,635.29 L53.07,632.01 L53.12,628.74 L53.17,625.46 L53.22,622.19 L53.27,618.91 L53.32,615.64 L53.37,612.36 L53.43,609.09 L53.48,605.81 L53.53,602.54 L53.58,599.26 L53.63,595.99 L53.69,592.71 L53.74,589.44 L53.79,586.16 L53.85,582.89 L53.90,579.61 L53.95,576.34 L54.01,573.06 L54.06,569.79 L54.11,566.51 L54.17,563.24 L54.22,559.96 L54.28,556.69 L54.33,553.41 L54.38,550.14 L54.44,546.86 L54.49,543.59 L54.55,540.31 L54.60,537.04 L54.65,533.77 L54.71,530.49 L54.76,527.22 L54.81,523.94 L54.87,520.67 L54.92,517.39 L54.97,514.12 L55.03,510.84 L55.08,507.57 L55.13,504.30 L55.18,501.02 L55.23,497.75 L55.28,494.47 L55.34,491.20 L55.39,487.93 L55.44,484.65 L55.49,481.38 L55.54,478.10 L55.58,474.83 L55.63,471.56 L55.68,468.28 L55.73,465.01 L55.78,461.74 L55.82,458.47 L55.87,455.19 L55.91,451.92 L55.96,448.65 L56.00,445.37 L56.05,442.10 L56.09,438.83 L56.13,435.56 L56.18,432.28 L56.22,429.01 L56.26,425.74 L56.30,422.47 L56.34,419.20 L56.38,415.92 L56.41,412.65 L56.45,409.38 L56.49,406.11 L56.52,402.84 L56.56,399.57 L56.59,396.30 L56.63,393.03 L56.66,389.76 L56.69,386.49 L56.72,383.22 L56.75,379.95 L56.78,376.68 L56.80,373.41 L56.83,370.14 L56.86,366.87 L56.88,363.60 L56.90,360.33 L56.93,357.06 L56.95,353.79 L56.97,350.52 L56.99,347.25 L57.01,343.98 L57.02,340.72 L57.04,337.45 L57.05,334.18 L57.07,330.91 L57.08,327.64 L57.09,324.38 L57.10,321.11 L57.11,317.84 L57.11,314.58 L57.12,311.31 L57.13,308.04 L57.13,304.78 L57.13,301.51 L57.13,298.24 L57.13,294.98 L57.13,291.71 L57.12,288.45 L57.12,285.18 L57.11,281.92 L57.10,278.65 L57.09,275.39 L57.08,272.12 L57.07,268.86 L57.05,265.59 L57.04,262.33 L57.02,259.06 L57.00,255.80 L56.98,252.53 L56.95,249.27 L56.93,246.00 L56.90,242.74 L56.87,239.47 L56.84,236.21 L56.80,232.94 L56.77,229.68 L56.73,226.41 L56.69,223.14 L56.65,219.88 L56.60,216.61 L56.56,213.34 L56.51,210.08 L56.46,206.81 L56.40,203.54 L56.35,200.27 L56.29,197.00 L56.23,193.73 L56.17,190.46 L56.10,187.19 L56.03,183.92 L55.96,180.65 L55.89,177.38 L55.81,174.11 L55.73,170.83 L55.65,167.56 L55.57,164.29 L55.48,161.01 L55.39,157.74 L55.30,154.46 L55.21,151.19 L55.11,147.91 L55.01,144.63 L54.90,141.35 L54.80,138.07 L54.69,134.79 L54.57,131.51 L54.46,128.23 L54.34,124.95 L54.22,121.67 L54.09,118.38 L53.96,115.10 L53.83,111.81 L53.70,108.53 L53.56,105.24 L53.42,101.95 L53.27,98.66 L53.12,95.37 L52.97,92.08 L52.81,88.79 L52.65,85.49 L52.49,82.20 L52.33,78.90 L52.16,75.61 L51.98,72.31 L51.81,69.01 L51.62,65.71 L51.44,62.41 L51.25,59.11 L51.06,55.80 L50.86,52.50 L50.66,49.19 L50.46,45.89 L50.25,42.58 L50.04,39.27 L49.82,35.96 L49.60,32.64 L49.38,29.33 L49.14,26.02 L48.84,22.75 L48.42,19.55 L47.81,16.46 L46.95,13.53 L45.78,10.79 L44.25,8.27 L42.28,6.03 L39.84,4.10 L36.97,2.56 L33.81,1.52 L30.47,1.08 L27.07,1.35 Z" fill="url(#sidePink)"/>
<path d="M57,60 C60,150 61,300 60,450 C59.5,600 58,750 57,880" stroke="#e2e2e0" stroke-width="1.5" fill="none"/>
<ellipse cx="10.8" cy="141" rx="1.6" ry="8" fill="#4a4048"/>
<ellipse cx="11.2" cy="236" rx="1.3" ry="4.5" fill="#4a4048"/>
<path d="M65.5,92 L68,95 L68.5,108 L66.5,109 Z" fill="#5a4050"/>
<path d="M70.4,702.5 L71.6,703 L71.51,712.53 L71.82,713.03 L72.14,713.54 L72.45,714.04 L72.76,714.55 L73.08,715.06 L73.39,715.57 L73.70,716.07 L74.01,716.58 L74.32,717.10 L74.63,717.61 L74.94,718.12 L75.25,718.63 L75.55,719.15 L75.86,719.66 L76.16,720.18 L76.46,720.70 L76.76,721.22 L77.06,721.74 L77.36,722.26 L77.66,722.78 L77.95,723.31 L78.24,723.83 L78.53,724.36 L78.82,724.89 L79.10,725.42 L79.38,725.95 L79.66,726.48 L79.94,727.01 L80.21,727.55 L80.48,728.08 L80.75,728.62 L81.01,729.16 L81.28,729.70 L81.53,730.25 L81.79,730.79 L82.04,731.34 L82.29,731.89 L82.53,732.44 L82.77,732.99 L83.01,733.54 L83.24,734.10 L83.47,734.66 L83.69,735.22 L83.91,735.78 L84.13,736.34 L84.34,736.91 L84.55,737.47 L84.75,738.04 L84.94,738.61 L85.13,739.18 L85.31,739.75 L85.49,740.33 L85.66,740.90 L85.83,741.48 L85.99,742.06 L86.14,742.64 L86.29,743.22 L86.43,743.80 L86.56,744.38 L86.69,744.97 L86.81,745.55 L86.92,746.14 L87.03,746.73 L87.12,747.32 L87.21,747.90 L87.29,748.49 L87.36,749.09 L87.43,749.68 L87.48,750.27 L87.53,750.86 L87.57,751.46 L87.59,752.05 L87.61,752.65 L87.62,753.24 L87.62,753.84 L87.61,754.44 L87.60,755.03 L87.57,755.63 L87.53,756.23 L87.48,756.83 L87.42,757.42 L87.35,758.02 L86.86,757.99 L86.55,757.97 L86.24,757.94 L85.94,757.89 L85.63,757.82 L85.33,757.74 L85.03,757.65 L84.73,757.54 L84.44,757.43 L84.14,757.30 L83.85,757.17 L83.56,757.02 L83.27,756.87 L82.98,756.71 L82.69,756.54 L82.40,756.37 L82.12,756.19 L81.83,756.01 L81.55,755.82 L81.26,755.64 L80.98,755.45 L80.69,755.26 L80.41,755.07 L80.12,754.88 L79.84,754.69 L79.55,754.50 L79.27,754.32 L78.98,754.14 L78.69,753.96 L78.41,753.79 L78.12,753.63 L77.83,753.47 L77.54,753.32 L77.25,753.18 L76.95,753.05 L76.66,752.92 L76.36,752.81 L76.06,752.71 L75.76,752.63 L75.46,752.55 L75.16,752.50 L74.86,752.45 L74.56,752.42 L74.26,752.41 L73.97,752.42 L73.68,752.45 L73.39,752.50 L73.11,752.57 L72.83,752.66 L72.56,752.77 L72.30,752.91 L72.04,753.07 L71.79,753.26 L71.55,753.47 L71.32,753.72 L71.10,753.99 L70.89,754.29 L70.69,754.62 L70.51,754.98 Z" fill="#1a1a22"/>
<path d="M62.3,733 L63.2,733.4 L63.4,746 L63.85,746.63 L64.28,747.26 L64.71,747.89 L65.13,748.53 L65.55,749.17 L65.97,749.81 L66.38,750.46 L66.79,751.10 L67.20,751.75 L67.60,752.41 L68.00,753.07 L68.40,753.73 L68.79,754.39 L69.18,755.05 L69.56,755.72 L69.94,756.39 L70.32,757.06 L70.69,757.74 L71.06,758.42 L71.42,759.10 L71.78,759.78 L72.14,760.47 L72.49,761.16 L72.83,761.85 L73.17,762.54 L73.51,763.24 L73.84,763.93 L74.16,764.63 L74.49,765.34 L74.80,766.04 L75.11,766.75 L75.42,767.46 L75.71,768.17 L76.01,768.88 L76.30,769.60 L76.58,770.31 L76.86,771.03 L77.13,771.76 L77.39,772.48 L77.65,773.20 L77.90,773.93 L78.15,774.66 L78.39,775.39 L78.62,776.13 L78.85,776.86 L79.07,777.60 L79.29,778.34 L79.50,779.08 L79.70,779.82 L79.89,780.56 L80.08,781.30 L80.26,782.05 L80.43,782.80 L80.60,783.55 L80.76,784.30 L80.91,785.05 L81.06,785.81 L81.19,786.56 L81.32,787.32 L81.44,788.08 L81.56,788.84 L81.66,789.60 L81.76,790.36 L81.85,791.12 L81.94,791.89 L82.01,792.65 L82.08,793.42 L82.13,794.19 L82.18,794.96 L82.22,795.73 L82.26,796.50 L81.83,796.82 L81.49,797.10 L81.16,797.34 L80.83,797.54 L80.49,797.71 L80.16,797.84 L79.83,797.95 L79.50,798.02 L79.16,798.07 L78.83,798.08 L78.50,798.08 L78.17,798.05 L77.84,797.99 L77.50,797.92 L77.17,797.82 L76.84,797.71 L76.51,797.58 L76.17,797.44 L75.84,797.28 L75.51,797.12 L75.18,796.94 L74.84,796.75 L74.51,796.56 L74.18,796.35 L73.85,796.15 L73.51,795.94 L73.18,795.73 L72.84,795.52 L72.51,795.32 L72.18,795.11 L71.84,794.91 L71.51,794.72 L71.17,794.53 L70.84,794.36 L70.50,794.19 L70.17,794.04 L69.84,793.90 L69.51,793.77 L69.18,793.66 L68.85,793.57 L68.52,793.49 L68.20,793.44 L67.88,793.41 L67.57,793.40 L67.26,793.42 L66.95,793.46 L66.65,793.53 L66.36,793.63 L66.07,793.76 L65.78,793.92 L65.50,794.11 L65.23,794.34 L64.97,794.60 L64.71,794.90 L64.46,795.24 L64.22,795.62 L63.99,796.04 L63.76,796.50 L63.55,797.01 L62.2,806 L61.6,806 Z" fill="#16161f"/>
<path d="M66,805.8 L67.35,806.67 L67.75,807.46 L68.21,808.18 L68.72,808.84 L69.27,809.44 L69.87,809.99 L70.51,810.49 L71.18,810.95 L71.88,811.36 L72.60,811.75 L73.35,812.11 L74.12,812.44 L74.90,812.76 L75.70,813.06 L76.50,813.35 L77.31,813.65 L78.11,813.94 L78.92,814.24 L79.71,814.55 L80.50,814.88 L81.28,815.21 L82.05,815.56 L82.81,815.92 L83.57,816.29 L84.32,816.67 L85.06,817.06 L85.79,817.46 L86.52,817.86 L87.25,818.28 L87.97,818.71 L88.68,819.14 L89.39,819.59 L90.09,820.04 L90.78,820.50 L91.48,820.96 L92.16,821.44 L92.85,821.92 L93.53,822.40 L94.20,822.89 L94.87,823.39 L95.54,823.89 L96.20,824.40 L96.86,824.91 L97.52,825.43 L98.18,825.95 L98.83,826.48 L99.48,827.00 L100.13,827.54 L100.78,828.07 L101.43,828.61 L102.07,829.14 L102.71,829.68 L103.36,830.22 L104.00,830.77 L104.64,831.31 L105.28,831.86 L105.91,832.41 L106.55,832.95 L107.18,833.51 L107.82,834.06 L108.45,834.61 L109.08,835.17 L109.71,835.73 L110.33,836.29 L110.96,836.85 L111.58,837.42 L112.20,837.99 L112.82,838.56 L113.43,839.13 L114.04,839.70 L114.65,840.28 L115.26,840.86 L115.86,841.44 L116.46,842.03 L117.06,842.62 L117.66,843.21 L118.25,843.80 L118.83,844.40 L119.42,845.00 L120.00,845.60 L120.58,846.21 L121.15,846.81 L121.72,847.43 L122.29,848.04 L122.85,848.66 L123.40,849.28 L123.96,849.91 L124.51,850.54 L125.05,851.17 L125.59,851.81 L126.13,852.45 L126.66,853.10 L127.18,853.75 L127.70,854.40 L128.22,855.06 L128.73,855.72 L129.23,856.38 L129.73,857.05 L130.23,857.72 L130.72,858.40 L131.20,859.08 L131.68,859.77 L132.15,860.46 L132.61,861.16 L133.07,861.86 L133.53,862.56 L133.97,863.27 L134.41,863.99 L134.85,864.71 L135.28,865.43 L135.70,866.16 L136.11,866.90 L136.52,867.64 L136.92,868.38 L137.31,869.13 L137.70,869.89 L138.07,870.65 L138.44,871.41 L138.79,872.18 L139.14,872.95 L139.48,873.73 L139.80,874.51 L140.11,875.29 L140.41,876.08 L140.70,876.88 L140.97,877.67 L141.23,878.47 L141.48,879.27 L141.71,880.08 L141.92,880.89 L142.12,881.70 L142.30,882.52 L142.47,883.34 L142.62,884.16 L142.75,884.98 L142.86,885.80 L142.96,886.63 L143.03,887.46 L143.09,888.29 L143.12,889.13 L143.13,889.96 L143.12,890.80 L143.09,891.64 L143.04,892.47 L142.97,893.32 L142.87,894.16 L142.75,895.00 L142.60,895.84 L142.43,896.69 L142.23,897.53 L142.01,898.38 L141.75,899.21 L141.45,900.02 L141.10,900.77 L140.69,901.45 L140.19,902.02 L139.61,902.48 L138.93,902.80 L138.13,902.96 L137.21,902.93 L136.16,902.70 L134.98,902.25 L133.78,901.67 L132.70,901.08 L131.88,900.59 L131.46,900.32 L131.59,900.39 L131.10,899.78 L130.62,899.22 L130.14,898.64 L129.67,898.06 L129.20,897.47 L128.73,896.88 L128.27,896.28 L127.80,895.67 L127.34,895.06 L126.88,894.45 L126.42,893.83 L125.96,893.20 L125.50,892.58 L125.04,891.95 L124.58,891.32 L124.12,890.68 L123.66,890.05 L123.19,889.42 L122.73,888.78 L122.27,888.14 L121.80,887.51 L121.33,886.88 L120.86,886.24 L120.39,885.61 L119.91,884.98 L119.43,884.36 L118.95,883.74 L118.47,883.12 L117.98,882.50 L117.49,881.89 L116.99,881.29 L116.49,880.69 L115.98,880.10 L115.47,879.51 L114.95,878.93 L114.43,878.36 L113.90,877.79 L113.37,877.24 L112.83,876.69 L112.28,876.15 L111.73,875.62 L111.17,875.10 L110.60,874.59 L110.02,874.09 L109.44,873.61 L108.85,873.13 L108.25,872.67 L107.64,872.22 L107.02,871.78 L106.40,871.36 L105.76,870.95 L105.12,870.56 L104.46,870.18 L103.80,869.81 L103.12,869.46 L102.44,869.13 L101.74,868.82 L101.04,868.52 L100.32,868.23 L99.60,867.96 L98.87,867.71 L98.13,867.47 L97.39,867.24 L96.64,867.02 L95.89,866.82 L95.13,866.62 L94.37,866.44 L93.61,866.27 L92.84,866.12 L92.07,865.97 L91.31,865.83 L90.54,865.69 L89.77,865.57 L89.00,865.46 L88.23,865.35 L87.46,865.25 L86.69,865.15 L85.91,865.06 L85.14,864.97 L84.36,864.88 L83.58,864.80 L82.80,864.71 L82.01,864.63 L81.22,864.55 L80.43,864.47 L79.63,864.38 L78.83,864.30 L78.02,864.21 L77.22,864.12 L76.42,864.04 L75.62,863.98 L74.82,863.93 L74.04,863.91 L73.28,863.92 L72.53,863.96 L71.80,864.04 L71.09,864.17 L70.41,864.36 L69.76,864.60 L69.14,864.90 L68.55,865.27 L68.01,865.71 L67.50,866.23 L67.04,866.84 L66.63,867.53 L66.26,868.33 L65.95,869.22 Z" fill="#12121c"/>

<!-- main board -->
<path d="M238.71,1.61 L236.49,1.62 L234.25,1.77 L232.00,2.03 L229.73,2.41 L227.45,2.91 L225.17,3.51 L222.90,4.21 L220.63,5.02 L218.38,5.91 L216.14,6.90 L213.93,7.98 L211.75,9.13 L209.59,10.36 L207.48,11.67 L205.41,13.04 L203.39,14.47 L201.42,15.97 L199.51,17.51 L197.66,19.11 L195.88,20.75 L194.17,22.44 L192.53,24.16 L190.96,25.92 L189.45,27.71 L188.00,29.53 L186.60,31.39 L185.26,33.27 L183.96,35.18 L182.71,37.11 L181.49,39.07 L180.31,41.04 L179.16,43.03 L178.04,45.04 L176.95,47.07 L175.87,49.10 L174.81,51.14 L173.77,53.19 L172.73,55.25 L171.72,57.32 L170.71,59.40 L169.72,61.48 L168.75,63.57 L167.78,65.67 L166.83,67.77 L165.89,69.88 L164.96,72.00 L164.05,74.13 L163.14,76.26 L162.25,78.40 L161.37,80.54 L160.50,82.70 L159.64,84.85 L158.79,87.01 L157.96,89.18 L157.13,91.35 L156.31,93.53 L155.50,95.72 L154.70,97.90 L153.91,100.10 L153.13,102.29 L152.36,104.49 L151.60,106.70 L150.84,108.91 L150.10,111.12 L149.36,113.34 L148.62,115.56 L147.90,117.78 L147.18,120.01 L146.47,122.24 L145.77,124.47 L145.07,126.70 L144.38,128.94 L143.70,131.18 L143.02,133.43 L142.36,135.67 L141.70,137.92 L141.04,140.17 L140.40,142.42 L139.76,144.68 L139.13,146.93 L138.51,149.19 L137.89,151.46 L137.29,153.72 L136.69,155.99 L136.10,158.25 L135.52,160.52 L134.94,162.80 L134.38,165.07 L133.82,167.35 L133.28,169.62 L132.74,171.90 L132.21,174.18 L131.69,176.47 L131.18,178.75 L130.68,181.04 L130.19,183.33 L129.71,185.61 L129.23,187.90 L128.77,190.20 L128.32,192.49 L127.88,194.78 L127.44,197.08 L127.02,199.37 L126.61,201.67 L126.21,203.97 L125.81,206.27 L125.43,208.57 L125.06,210.87 L124.70,213.18 L124.36,215.48 L124.02,217.78 L123.69,220.09 L123.38,222.39 L123.07,224.70 L122.78,227.00 L122.50,229.31 L122.23,231.62 L121.97,233.93 L121.72,236.24 L121.48,238.54 L121.25,240.85 L121.03,243.16 L120.83,245.47 L120.63,247.78 L120.44,250.10 L120.26,252.41 L120.09,254.72 L119.92,257.03 L119.77,259.35 L119.62,261.66 L119.49,263.97 L119.36,266.29 L119.23,268.60 L119.12,270.92 L119.01,273.24 L118.91,275.55 L118.82,277.87 L118.73,280.19 L118.65,282.51 L118.57,284.82 L118.50,287.14 L118.44,289.46 L118.38,291.78 L118.33,294.10 L118.28,296.42 L118.23,298.74 L118.20,301.07 L118.16,303.39 L118.13,305.71 L118.10,308.03 L118.08,310.35 L118.06,312.68 L118.04,315.00 L118.03,317.33 L118.02,319.65 L118.01,321.98 L118.01,324.30 L118.00,326.63 L118.00,328.95 L118.00,331.28 L118.00,333.61 L118.00,335.93 L118.01,338.26 L118.01,340.59 L118.02,342.92 L118.02,345.25 L118.03,347.58 L118.03,349.91 L118.04,352.24 L118.04,354.57 L118.05,356.90 L118.05,359.23 L118.05,361.56 L118.05,363.89 L118.05,366.22 L118.05,368.56 L118.04,370.89 L118.03,373.22 L118.02,375.55 L118.01,377.89 L118.00,380.22 L117.98,382.56 L117.97,384.89 L117.95,387.22 L117.92,389.56 L117.90,391.90 L117.88,394.23 L117.85,396.57 L117.82,398.90 L117.79,401.24 L117.76,403.58 L117.73,405.91 L117.70,408.25 L117.66,410.59 L117.63,412.92 L117.59,415.26 L117.55,417.60 L117.51,419.94 L117.47,422.28 L117.43,424.61 L117.39,426.95 L117.34,429.29 L117.30,431.63 L117.25,433.97 L117.21,436.31 L117.16,438.65 L117.11,440.99 L117.07,443.33 L117.02,445.67 L116.97,448.01 L116.92,450.35 L116.87,452.69 L116.82,455.03 L116.77,457.37 L116.72,459.71 L116.67,462.05 L116.62,464.39 L116.56,466.73 L116.51,469.07 L116.46,471.41 L116.41,473.75 L116.36,476.09 L116.31,478.43 L116.26,480.77 L116.21,483.11 L116.16,485.45 L116.11,487.80 L116.06,490.14 L116.01,492.48 L115.96,494.82 L115.91,497.16 L115.87,499.50 L115.82,501.84 L115.77,504.18 L115.73,506.52 L115.68,508.86 L115.64,511.20 L115.60,513.54 L115.56,515.88 L115.52,518.22 L115.48,520.56 L115.44,522.91 L115.40,525.25 L115.36,527.59 L115.33,529.93 L115.30,532.26 L115.26,534.60 L115.23,536.94 L115.21,539.28 L115.18,541.62 L115.15,543.96 L115.13,546.30 L115.11,548.64 L115.08,550.98 L115.07,553.32 L115.05,555.65 L115.03,557.99 L115.02,560.33 L115.01,562.67 L115.00,565.01 L114.99,567.34 L114.99,569.68 L114.98,572.02 L114.98,574.35 L114.98,576.69 L114.99,579.03 L115.00,581.36 L115.00,583.70 L115.02,586.03 L115.03,588.37 L115.05,590.70 L115.07,593.04 L115.09,595.37 L115.11,597.71 L115.14,600.04 L115.17,602.37 L115.20,604.70 L115.24,607.04 L115.28,609.37 L115.32,611.70 L115.37,614.03 L115.41,616.36 L115.47,618.70 L115.52,621.03 L115.58,623.36 L115.64,625.69 L115.71,628.02 L115.78,630.34 L115.85,632.67 L115.92,635.00 L116.00,637.33 L116.09,639.66 L116.17,641.98 L116.26,644.31 L116.36,646.64 L116.46,648.96 L116.56,651.29 L116.66,653.61 L116.77,655.94 L116.89,658.26 L117.01,660.58 L117.13,662.91 L117.26,665.23 L117.39,667.55 L117.52,669.87 L117.66,672.20 L117.81,674.52 L117.96,676.84 L118.11,679.16 L118.27,681.47 L118.43,683.79 L118.60,686.11 L118.77,688.43 L118.95,690.74 L119.13,693.06 L119.31,695.38 L119.51,697.69 L119.70,700.01 L119.90,702.32 L120.11,704.63 L120.32,706.95 L120.54,709.26 L120.76,711.57 L120.99,713.88 L121.22,716.19 L121.46,718.50 L121.71,720.81 L121.96,723.12 L122.21,725.42 L122.47,727.73 L122.74,730.04 L123.01,732.34 L123.29,734.65 L123.57,736.95 L123.86,739.26 L124.16,741.56 L124.46,743.86 L124.76,746.16 L125.08,748.46 L125.40,750.76 L125.72,753.06 L126.05,755.36 L126.39,757.66 L126.74,759.96 L127.09,762.25 L127.45,764.55 L127.81,766.84 L128.18,769.14 L128.56,771.43 L128.94,773.72 L129.33,776.02 L129.73,778.31 L130.13,780.60 L130.54,782.89 L130.96,785.18 L131.38,787.46 L131.81,789.75 L132.24,792.04 L132.68,794.32 L133.13,796.61 L133.58,798.89 L134.04,801.18 L134.50,803.46 L134.97,805.75 L135.45,808.03 L135.93,810.31 L136.41,812.59 L136.91,814.87 L137.41,817.15 L137.91,819.43 L138.42,821.71 L138.93,823.99 L139.45,826.27 L139.98,828.54 L140.51,830.82 L141.04,833.10 L141.59,835.37 L142.13,837.65 L142.68,839.93 L143.24,842.20 L143.80,844.47 L144.37,846.75 L144.94,849.02 L145.51,851.30 L146.09,853.57 L146.68,855.84 L147.27,858.11 L147.86,860.39 L148.46,862.66 L149.06,864.93 L149.67,867.20 L150.28,869.47 L150.90,871.74 L151.52,874.01 L152.14,876.28 L152.77,878.55 L153.40,880.82 L154.04,883.09 L154.68,885.36 L155.33,887.63 L155.97,889.90 L156.63,892.17 L157.28,894.43 L157.94,896.70 L158.61,898.97 L159.28,901.24 L159.96,903.50 L160.65,905.75 L161.35,908.00 L162.07,910.24 L162.81,912.46 L163.56,914.68 L164.34,916.88 L165.14,919.06 L165.96,921.23 L166.81,923.38 L167.69,925.50 L168.60,927.61 L169.54,929.69 L170.52,931.74 L171.54,933.77 L172.60,935.76 L173.69,937.73 L174.83,939.66 L176.02,941.56 L177.26,943.42 L178.56,945.23 L179.92,946.98 L181.35,948.67 L182.86,950.30 L184.45,951.85 L186.13,953.33 L187.89,954.73 L189.72,956.05 L191.63,957.30 L193.62,958.47 L195.67,959.57 L197.79,960.60 L199.97,961.55 L202.21,962.43 L204.50,963.23 L206.83,963.95 L209.21,964.61 L211.63,965.18 L214.08,965.68 L216.55,966.10 L219.06,966.45 L221.58,966.72 L224.11,966.92 L226.66,967.04 L229.21,967.08 L231.76,967.04 L234.31,966.93 L236.85,966.74 L239.38,966.48 L241.89,966.13 L244.37,965.71 L246.83,965.21 L249.26,964.63 L251.65,963.97 L254.01,963.24 L256.31,962.42 L258.57,961.53 L260.77,960.55 L262.91,959.50 L264.99,958.37 L267.00,957.16 L268.94,955.87 L270.80,954.49 L272.58,953.04 L274.27,951.51 L275.87,949.90 L277.38,948.21 L278.82,946.46 L280.18,944.65 L281.48,942.79 L282.73,940.89 L283.92,938.95 L285.06,936.98 L286.16,934.99 L287.22,932.96 L288.24,930.91 L289.22,928.84 L290.16,926.74 L291.07,924.62 L291.95,922.49 L292.80,920.33 L293.62,918.16 L294.41,915.97 L295.18,913.76 L295.93,911.55 L296.66,909.32 L297.37,907.08 L298.07,904.84 L298.75,902.59 L299.42,900.33 L300.08,898.07 L300.73,895.81 L301.38,893.54 L302.02,891.28 L302.66,889.01 L303.29,886.75 L303.92,884.48 L304.54,882.21 L305.16,879.94 L305.77,877.68 L306.38,875.41 L306.98,873.14 L307.57,870.87 L308.16,868.59 L308.75,866.32 L309.33,864.05 L309.91,861.78 L310.48,859.50 L311.04,857.23 L311.60,854.95 L312.16,852.68 L312.71,850.40 L313.25,848.12 L313.79,845.85 L314.32,843.57 L314.85,841.29 L315.38,839.01 L315.90,836.73 L316.41,834.45 L316.92,832.16 L317.42,829.88 L317.92,827.60 L318.41,825.32 L318.90,823.03 L319.38,820.75 L319.86,818.46 L320.33,816.18 L320.80,813.89 L321.26,811.60 L321.72,809.31 L322.17,807.02 L322.61,804.74 L323.05,802.45 L323.49,800.15 L323.92,797.86 L324.35,795.57 L324.77,793.28 L325.18,790.99 L325.59,788.69 L326.00,786.40 L326.40,784.10 L326.79,781.81 L327.18,779.51 L327.56,777.22 L327.94,774.92 L328.32,772.62 L328.68,770.32 L329.05,768.02 L329.40,765.72 L329.76,763.42 L330.11,761.12 L330.45,758.82 L330.79,756.52 L331.12,754.22 L331.45,751.91 L331.77,749.61 L332.09,747.31 L332.40,745.00 L332.71,742.70 L333.01,740.39 L333.31,738.08 L333.61,735.78 L333.90,733.47 L334.18,731.16 L334.46,728.85 L334.74,726.54 L335.01,724.23 L335.28,721.92 L335.54,719.61 L335.80,717.30 L336.05,714.99 L336.30,712.68 L336.55,710.36 L336.79,708.05 L337.03,705.74 L337.26,703.42 L337.49,701.11 L337.71,698.79 L337.93,696.48 L338.15,694.16 L338.36,691.85 L338.57,689.53 L338.78,687.21 L338.98,684.89 L339.18,682.58 L339.37,680.26 L339.56,677.94 L339.74,675.62 L339.93,673.30 L340.11,670.98 L340.28,668.66 L340.45,666.34 L340.62,664.02 L340.79,661.69 L340.95,659.37 L341.10,657.05 L341.26,654.73 L341.41,652.40 L341.56,650.08 L341.70,647.75 L341.84,645.43 L341.98,643.11 L342.12,640.78 L342.25,638.45 L342.38,636.13 L342.50,633.80 L342.63,631.48 L342.75,629.15 L342.86,626.82 L342.98,624.49 L343.09,622.17 L343.20,619.84 L343.30,617.51 L343.41,615.18 L343.51,612.85 L343.60,610.52 L343.70,608.19 L343.79,605.86 L343.88,603.53 L343.97,601.20 L344.05,598.87 L344.13,596.54 L344.21,594.21 L344.29,591.88 L344.37,589.55 L344.44,587.22 L344.51,584.88 L344.58,582.55 L344.65,580.22 L344.71,577.89 L344.77,575.55 L344.83,573.22 L344.89,570.89 L344.95,568.55 L345.00,566.22 L345.05,563.88 L345.10,561.55 L345.15,559.22 L345.20,556.88 L345.24,554.55 L345.29,552.21 L345.33,549.88 L345.37,547.54 L345.41,545.21 L345.44,542.87 L345.48,540.53 L345.51,538.20 L345.55,535.86 L345.58,533.53 L345.61,531.19 L345.63,528.85 L345.66,526.52 L345.69,524.18 L345.71,521.84 L345.73,519.51 L345.76,517.17 L345.78,514.83 L345.80,512.50 L345.81,510.16 L345.83,507.82 L345.85,505.48 L345.86,503.15 L345.88,500.81 L345.89,498.47 L345.91,496.13 L345.92,493.80 L345.93,491.46 L345.94,489.12 L345.95,486.78 L345.96,484.45 L345.97,482.11 L345.98,479.77 L345.99,477.43 L345.99,475.09 L346.00,472.76 L346.01,470.42 L346.01,468.08 L346.02,465.74 L346.02,463.40 L346.03,461.07 L346.03,458.73 L346.04,456.39 L346.04,454.05 L346.05,451.71 L346.05,449.38 L346.06,447.04 L346.06,444.70 L346.07,442.36 L346.07,440.02 L346.08,437.69 L346.08,435.35 L346.08,433.01 L346.09,430.67 L346.10,428.34 L346.10,426.00 L346.11,423.66 L346.11,421.33 L346.12,418.99 L346.13,416.65 L346.13,414.32 L346.14,411.98 L346.15,409.64 L346.16,407.31 L346.17,404.97 L346.18,402.63 L346.19,400.30 L346.21,397.96 L346.22,395.62 L346.23,393.29 L346.25,390.95 L346.26,388.62 L346.28,386.28 L346.29,383.95 L346.31,381.61 L346.33,379.28 L346.35,376.94 L346.36,374.61 L346.38,372.28 L346.40,369.94 L346.41,367.61 L346.43,365.28 L346.45,362.94 L346.46,360.61 L346.47,358.28 L346.49,355.94 L346.50,353.61 L346.51,351.28 L346.51,348.95 L346.52,346.62 L346.53,344.29 L346.53,341.95 L346.53,339.62 L346.53,337.29 L346.52,334.96 L346.52,332.63 L346.51,330.30 L346.49,327.98 L346.48,325.65 L346.46,323.32 L346.44,320.99 L346.42,318.66 L346.39,316.34 L346.36,314.01 L346.32,311.68 L346.28,309.36 L346.24,307.03 L346.19,304.70 L346.14,302.38 L346.08,300.05 L346.02,297.73 L345.95,295.41 L345.88,293.08 L345.81,290.76 L345.73,288.44 L345.64,286.12 L345.55,283.79 L345.45,281.47 L345.35,279.15 L345.24,276.83 L345.13,274.51 L345.00,272.19 L344.88,269.87 L344.74,267.55 L344.60,265.24 L344.46,262.92 L344.30,260.60 L344.14,258.29 L343.97,255.97 L343.80,253.66 L343.62,251.34 L343.43,249.03 L343.23,246.71 L343.02,244.40 L342.81,242.09 L342.59,239.77 L342.36,237.46 L342.12,235.15 L341.87,232.84 L341.62,230.53 L341.35,228.22 L341.08,225.91 L340.80,223.61 L340.51,221.30 L340.21,218.99 L339.90,216.69 L339.58,214.38 L339.25,212.08 L338.91,209.77 L338.56,207.47 L338.20,205.17 L337.83,202.86 L337.45,200.56 L337.06,198.26 L336.66,195.96 L336.25,193.66 L335.83,191.36 L335.41,189.07 L334.97,186.77 L334.53,184.47 L334.08,182.18 L333.62,179.89 L333.15,177.59 L332.68,175.30 L332.20,173.01 L331.71,170.72 L331.21,168.43 L330.71,166.14 L330.21,163.85 L329.70,161.57 L329.18,159.28 L328.66,157.00 L328.13,154.72 L327.59,152.44 L327.06,150.16 L326.52,147.88 L325.97,145.60 L325.42,143.32 L324.87,141.05 L324.32,138.77 L323.76,136.50 L323.20,134.23 L322.63,131.96 L322.07,129.69 L321.50,127.43 L320.93,125.16 L320.36,122.90 L319.79,120.64 L319.22,118.38 L318.64,116.12 L318.06,113.86 L317.48,111.61 L316.89,109.36 L316.30,107.11 L315.70,104.86 L315.09,102.62 L314.47,100.38 L313.84,98.15 L313.20,95.92 L312.55,93.69 L311.89,91.47 L311.21,89.26 L310.52,87.05 L309.82,84.84 L309.09,82.65 L308.35,80.45 L307.60,78.27 L306.82,76.09 L306.02,73.91 L305.20,71.75 L304.36,69.59 L303.50,67.44 L302.61,65.30 L301.70,63.16 L300.76,61.04 L299.80,58.92 L298.80,56.81 L297.78,54.71 L296.73,52.62 L295.65,50.54 L294.54,48.47 L293.40,46.41 L292.22,44.36 L291.01,42.32 L289.76,40.29 L288.48,38.28 L287.16,36.27 L285.80,34.28 L284.41,32.31 L282.98,30.36 L281.51,28.44 L280.01,26.55 L278.47,24.69 L276.90,22.88 L275.29,21.11 L273.65,19.39 L271.98,17.72 L270.27,16.11 L268.53,14.56 L266.76,13.07 L264.95,11.66 L263.11,10.32 L261.24,9.06 L259.34,7.88 L257.41,6.79 L255.45,5.79 L253.46,4.88 L251.44,4.08 L249.39,3.38 L247.31,2.79 L245.20,2.32 L243.06,1.96 L240.90,1.72 L238.71,1.61 Z" fill="url(#boardG)"/>
<g clip-path="url(#clipBoard)"><path d="M238.71,1.61 L236.49,1.62 L234.25,1.77 L232.00,2.03 L229.73,2.41 L227.45,2.91 L225.17,3.51 L222.90,4.21 L220.63,5.02 L218.38,5.91 L216.14,6.90 L213.93,7.98 L211.75,9.13 L209.59,10.36 L207.48,11.67 L205.41,13.04 L203.39,14.47 L201.42,15.97 L199.51,17.51 L197.66,19.11 L195.88,20.75 L194.17,22.44 L192.53,24.16 L190.96,25.92 L189.45,27.71 L188.00,29.53 L186.60,31.39 L185.26,33.27 L183.96,35.18 L182.71,37.11 L181.49,39.07 L180.31,41.04 L179.16,43.03 L178.04,45.04 L176.95,47.07 L175.87,49.10 L174.81,51.14 L173.77,53.19 L172.73,55.25 L171.72,57.32 L170.71,59.40 L169.72,61.48 L168.75,63.57 L167.78,65.67 L166.83,67.77 L165.89,69.88 L164.96,72.00 L164.05,74.13 L163.14,76.26 L162.25,78.40 L161.37,80.54 L160.50,82.70 L159.64,84.85 L158.79,87.01 L157.96,89.18 L157.13,91.35 L156.31,93.53 L155.50,95.72 L154.70,97.90 L153.91,100.10 L153.13,102.29 L152.36,104.49 L151.60,106.70 L150.84,108.91 L150.10,111.12 L149.36,113.34 L148.62,115.56 L147.90,117.78 L147.18,120.01 L146.47,122.24 L145.77,124.47 L145.07,126.70 L144.38,128.94 L143.70,131.18 L143.02,133.43 L142.36,135.67 L141.70,137.92 L141.04,140.17 L140.40,142.42 L139.76,144.68 L139.13,146.93 L138.51,149.19 L137.89,151.46 L137.29,153.72 L136.69,155.99 L136.10,158.25 L135.52,160.52 L134.94,162.80 L134.38,165.07 L133.82,167.35 L133.28,169.62 L132.74,171.90 L132.21,174.18 L131.69,176.47 L131.18,178.75 L130.68,181.04 L130.19,183.33 L129.71,185.61 L129.23,187.90 L128.77,190.20 L128.32,192.49 L127.88,194.78 L127.44,197.08 L127.02,199.37 L126.61,201.67 L126.21,203.97 L125.81,206.27 L125.43,208.57 L125.06,210.87 L124.70,213.18 L124.36,215.48 L124.02,217.78 L123.69,220.09 L123.38,222.39 L123.07,224.70 L122.78,227.00 L122.50,229.31 L122.23,231.62 L121.97,233.93 L121.72,236.24 L121.48,238.54 L121.25,240.85 L121.03,243.16 L120.83,245.47 L120.63,247.78 L120.44,250.10 L120.26,252.41 L120.09,254.72 L119.92,257.03 L119.77,259.35 L119.62,261.66 L119.49,263.97 L119.36,266.29 L119.23,268.60 L119.12,270.92 L119.01,273.24 L118.91,275.55 L118.82,277.87 L118.73,280.19 L118.65,282.51 L118.57,284.82 L118.50,287.14 L118.44,289.46 L118.38,291.78 L118.33,294.10 L118.28,296.42 L118.23,298.74 L118.20,301.07 L118.16,303.39 L118.13,305.71 L118.10,308.03 L118.08,310.35 L118.06,312.68 L118.04,315.00 L118.03,317.33 L118.02,319.65 L118.01,321.98 L118.01,324.30 L118.00,326.63 L118.00,328.95 L118.00,331.28 L118.00,333.61 L118.00,335.93 L118.01,338.26 L118.01,340.59 L118.02,342.92 L118.02,345.25 L118.03,347.58 L118.03,349.91 L118.04,352.24 L118.04,354.57 L118.05,356.90 L118.05,359.23 L118.05,361.56 L118.05,363.89 L118.05,366.22 L118.05,368.56 L118.04,370.89 L118.03,373.22 L118.02,375.55 L118.01,377.89 L118.00,380.22 L117.98,382.56 L117.97,384.89 L117.95,387.22 L117.92,389.56 L117.90,391.90 L117.88,394.23 L117.85,396.57 L117.82,398.90 L117.79,401.24 L117.76,403.58 L117.73,405.91 L117.70,408.25 L117.66,410.59 L117.63,412.92 L117.59,415.26 L117.55,417.60 L117.51,419.94 L117.47,422.28 L117.43,424.61 L117.39,426.95 L117.34,429.29 L117.30,431.63 L117.25,433.97 L117.21,436.31 L117.16,438.65 L117.11,440.99 L117.07,443.33 L117.02,445.67 L116.97,448.01 L116.92,450.35 L116.87,452.69 L116.82,455.03 L116.77,457.37 L116.72,459.71 L116.67,462.05 L116.62,464.39 L116.56,466.73 L116.51,469.07 L116.46,471.41 L116.41,473.75 L116.36,476.09 L116.31,478.43 L116.26,480.77 L116.21,483.11 L116.16,485.45 L116.11,487.80 L116.06,490.14 L116.01,492.48 L115.96,494.82 L115.91,497.16 L115.87,499.50 L115.82,501.84 L115.77,504.18 L115.73,506.52 L115.68,508.86 L115.64,511.20 L115.60,513.54 L115.56,515.88 L115.52,518.22 L115.48,520.56 L115.44,522.91 L115.40,525.25 L115.36,527.59 L115.33,529.93 L115.30,532.26 L115.26,534.60 L115.23,536.94 L115.21,539.28 L115.18,541.62 L115.15,543.96 L115.13,546.30 L115.11,548.64 L115.08,550.98 L115.07,553.32 L115.05,555.65 L115.03,557.99 L115.02,560.33 L115.01,562.67 L115.00,565.01 L114.99,567.34 L114.99,569.68 L114.98,572.02 L114.98,574.35 L114.98,576.69 L114.99,579.03 L115.00,581.36 L115.00,583.70 L115.02,586.03 L115.03,588.37 L115.05,590.70 L115.07,593.04 L115.09,595.37 L115.11,597.71 L115.14,600.04 L115.17,602.37 L115.20,604.70 L115.24,607.04 L115.28,609.37 L115.32,611.70 L115.37,614.03 L115.41,616.36 L115.47,618.70 L115.52,621.03 L115.58,623.36 L115.64,625.69 L115.71,628.02 L115.78,630.34 L115.85,632.67 L115.92,635.00 L116.00,637.33 L116.09,639.66 L116.17,641.98 L116.26,644.31 L116.36,646.64 L116.46,648.96 L116.56,651.29 L116.66,653.61 L116.77,655.94 L116.89,658.26 L117.01,660.58 L117.13,662.91 L117.26,665.23 L117.39,667.55 L117.52,669.87 L117.66,672.20 L117.81,674.52 L117.96,676.84 L118.11,679.16 L118.27,681.47 L118.43,683.79 L118.60,686.11 L118.77,688.43 L118.95,690.74 L119.13,693.06 L119.31,695.38 L119.51,697.69 L119.70,700.01 L119.90,702.32 L120.11,704.63 L120.32,706.95 L120.54,709.26 L120.76,711.57 L120.99,713.88 L121.22,716.19 L121.46,718.50 L121.71,720.81 L121.96,723.12 L122.21,725.42 L122.47,727.73 L122.74,730.04 L123.01,732.34 L123.29,734.65 L123.57,736.95 L123.86,739.26 L124.16,741.56 L124.46,743.86 L124.76,746.16 L125.08,748.46 L125.40,750.76 L125.72,753.06 L126.05,755.36 L126.39,757.66 L126.74,759.96 L127.09,762.25 L127.45,764.55 L127.81,766.84 L128.18,769.14 L128.56,771.43 L128.94,773.72 L129.33,776.02 L129.73,778.31 L130.13,780.60 L130.54,782.89 L130.96,785.18 L131.38,787.46 L131.81,789.75 L132.24,792.04 L132.68,794.32 L133.13,796.61 L133.58,798.89 L134.04,801.18 L134.50,803.46 L134.97,805.75 L135.45,808.03 L135.93,810.31 L136.41,812.59 L136.91,814.87 L137.41,817.15 L137.91,819.43 L138.42,821.71 L138.93,823.99 L139.45,826.27 L139.98,828.54 L140.51,830.82 L141.04,833.10 L141.59,835.37 L142.13,837.65 L142.68,839.93 L143.24,842.20 L143.80,844.47 L144.37,846.75 L144.94,849.02 L145.51,851.30 L146.09,853.57 L146.68,855.84 L147.27,858.11 L147.86,860.39 L148.46,862.66 L149.06,864.93 L149.67,867.20 L150.28,869.47 L150.90,871.74 L151.52,874.01 L152.14,876.28 L152.77,878.55 L153.40,880.82 L154.04,883.09 L154.68,885.36 L155.33,887.63 L155.97,889.90 L156.63,892.17 L157.28,894.43 L157.94,896.70 L158.61,898.97 L159.28,901.24 L159.96,903.50 L160.65,905.75 L161.35,908.00 L162.07,910.24 L162.81,912.46 L163.56,914.68 L164.34,916.88 L165.14,919.06 L165.96,921.23 L166.81,923.38 L167.69,925.50 L168.60,927.61 L169.54,929.69 L170.52,931.74 L171.54,933.77 L172.60,935.76 L173.69,937.73 L174.83,939.66 L176.02,941.56 L177.26,943.42 L178.56,945.23 L179.92,946.98 L181.35,948.67 L182.86,950.30 L184.45,951.85 L186.13,953.33 L187.89,954.73 L189.72,956.05 L191.63,957.30 L193.62,958.47 L195.67,959.57 L197.79,960.60 L199.97,961.55 L202.21,962.43 L204.50,963.23 L206.83,963.95 L209.21,964.61 L211.63,965.18 L214.08,965.68 L216.55,966.10 L219.06,966.45 L221.58,966.72 L224.11,966.92 L226.66,967.04 L229.21,967.08 L231.76,967.04 L234.31,966.93 L236.85,966.74 L239.38,966.48 L241.89,966.13 L244.37,965.71 L246.83,965.21 L249.26,964.63 L251.65,963.97 L254.01,963.24 L256.31,962.42 L258.57,961.53 L260.77,960.55 L262.91,959.50 L264.99,958.37 L267.00,957.16 L268.94,955.87 L270.80,954.49 L272.58,953.04 L274.27,951.51 L275.87,949.90 L277.38,948.21 L278.82,946.46 L280.18,944.65 L281.48,942.79 L282.73,940.89 L283.92,938.95 L285.06,936.98 L286.16,934.99 L287.22,932.96 L288.24,930.91 L289.22,928.84 L290.16,926.74 L291.07,924.62 L291.95,922.49 L292.80,920.33 L293.62,918.16 L294.41,915.97 L295.18,913.76 L295.93,911.55 L296.66,909.32 L297.37,907.08 L298.07,904.84 L298.75,902.59 L299.42,900.33 L300.08,898.07 L300.73,895.81 L301.38,893.54 L302.02,891.28 L302.66,889.01 L303.29,886.75 L303.92,884.48 L304.54,882.21 L305.16,879.94 L305.77,877.68 L306.38,875.41 L306.98,873.14 L307.57,870.87 L308.16,868.59 L308.75,866.32 L309.33,864.05 L309.91,861.78 L310.48,859.50 L311.04,857.23 L311.60,854.95 L312.16,852.68 L312.71,850.40 L313.25,848.12 L313.79,845.85 L314.32,843.57 L314.85,841.29 L315.38,839.01 L315.90,836.73 L316.41,834.45 L316.92,832.16 L317.42,829.88 L317.92,827.60 L318.41,825.32 L318.90,823.03 L319.38,820.75 L319.86,818.46 L320.33,816.18 L320.80,813.89 L321.26,811.60 L321.72,809.31 L322.17,807.02 L322.61,804.74 L323.05,802.45 L323.49,800.15 L323.92,797.86 L324.35,795.57 L324.77,793.28 L325.18,790.99 L325.59,788.69 L326.00,786.40 L326.40,784.10 L326.79,781.81 L327.18,779.51 L327.56,777.22 L327.94,774.92 L328.32,772.62 L328.68,770.32 L329.05,768.02 L329.40,765.72 L329.76,763.42 L330.11,761.12 L330.45,758.82 L330.79,756.52 L331.12,754.22 L331.45,751.91 L331.77,749.61 L332.09,747.31 L332.40,745.00 L332.71,742.70 L333.01,740.39 L333.31,738.08 L333.61,735.78 L333.90,733.47 L334.18,731.16 L334.46,728.85 L334.74,726.54 L335.01,724.23 L335.28,721.92 L335.54,719.61 L335.80,717.30 L336.05,714.99 L336.30,712.68 L336.55,710.36 L336.79,708.05 L337.03,705.74 L337.26,703.42 L337.49,701.11 L337.71,698.79 L337.93,696.48 L338.15,694.16 L338.36,691.85 L338.57,689.53 L338.78,687.21 L338.98,684.89 L339.18,682.58 L339.37,680.26 L339.56,677.94 L339.74,675.62 L339.93,673.30 L340.11,670.98 L340.28,668.66 L340.45,666.34 L340.62,664.02 L340.79,661.69 L340.95,659.37 L341.10,657.05 L341.26,654.73 L341.41,652.40 L341.56,650.08 L341.70,647.75 L341.84,645.43 L341.98,643.11 L342.12,640.78 L342.25,638.45 L342.38,636.13 L342.50,633.80 L342.63,631.48 L342.75,629.15 L342.86,626.82 L342.98,624.49 L343.09,622.17 L343.20,619.84 L343.30,617.51 L343.41,615.18 L343.51,612.85 L343.60,610.52 L343.70,608.19 L343.79,605.86 L343.88,603.53 L343.97,601.20 L344.05,598.87 L344.13,596.54 L344.21,594.21 L344.29,591.88 L344.37,589.55 L344.44,587.22 L344.51,584.88 L344.58,582.55 L344.65,580.22 L344.71,577.89 L344.77,575.55 L344.83,573.22 L344.89,570.89 L344.95,568.55 L345.00,566.22 L345.05,563.88 L345.10,561.55 L345.15,559.22 L345.20,556.88 L345.24,554.55 L345.29,552.21 L345.33,549.88 L345.37,547.54 L345.41,545.21 L345.44,542.87 L345.48,540.53 L345.51,538.20 L345.55,535.86 L345.58,533.53 L345.61,531.19 L345.63,528.85 L345.66,526.52 L345.69,524.18 L345.71,521.84 L345.73,519.51 L345.76,517.17 L345.78,514.83 L345.80,512.50 L345.81,510.16 L345.83,507.82 L345.85,505.48 L345.86,503.15 L345.88,500.81 L345.89,498.47 L345.91,496.13 L345.92,493.80 L345.93,491.46 L345.94,489.12 L345.95,486.78 L345.96,484.45 L345.97,482.11 L345.98,479.77 L345.99,477.43 L345.99,475.09 L346.00,472.76 L346.01,470.42 L346.01,468.08 L346.02,465.74 L346.02,463.40 L346.03,461.07 L346.03,458.73 L346.04,456.39 L346.04,454.05 L346.05,451.71 L346.05,449.38 L346.06,447.04 L346.06,444.70 L346.07,442.36 L346.07,440.02 L346.08,437.69 L346.08,435.35 L346.08,433.01 L346.09,430.67 L346.10,428.34 L346.10,426.00 L346.11,423.66 L346.11,421.33 L346.12,418.99 L346.13,416.65 L346.13,414.32 L346.14,411.98 L346.15,409.64 L346.16,407.31 L346.17,404.97 L346.18,402.63 L346.19,400.30 L346.21,397.96 L346.22,395.62 L346.23,393.29 L346.25,390.95 L346.26,388.62 L346.28,386.28 L346.29,383.95 L346.31,381.61 L346.33,379.28 L346.35,376.94 L346.36,374.61 L346.38,372.28 L346.40,369.94 L346.41,367.61 L346.43,365.28 L346.45,362.94 L346.46,360.61 L346.47,358.28 L346.49,355.94 L346.50,353.61 L346.51,351.28 L346.51,348.95 L346.52,346.62 L346.53,344.29 L346.53,341.95 L346.53,339.62 L346.53,337.29 L346.52,334.96 L346.52,332.63 L346.51,330.30 L346.49,327.98 L346.48,325.65 L346.46,323.32 L346.44,320.99 L346.42,318.66 L346.39,316.34 L346.36,314.01 L346.32,311.68 L346.28,309.36 L346.24,307.03 L346.19,304.70 L346.14,302.38 L346.08,300.05 L346.02,297.73 L345.95,295.41 L345.88,293.08 L345.81,290.76 L345.73,288.44 L345.64,286.12 L345.55,283.79 L345.45,281.47 L345.35,279.15 L345.24,276.83 L345.13,274.51 L345.00,272.19 L344.88,269.87 L344.74,267.55 L344.60,265.24 L344.46,262.92 L344.30,260.60 L344.14,258.29 L343.97,255.97 L343.80,253.66 L343.62,251.34 L343.43,249.03 L343.23,246.71 L343.02,244.40 L342.81,242.09 L342.59,239.77 L342.36,237.46 L342.12,235.15 L341.87,232.84 L341.62,230.53 L341.35,228.22 L341.08,225.91 L340.80,223.61 L340.51,221.30 L340.21,218.99 L339.90,216.69 L339.58,214.38 L339.25,212.08 L338.91,209.77 L338.56,207.47 L338.20,205.17 L337.83,202.86 L337.45,200.56 L337.06,198.26 L336.66,195.96 L336.25,193.66 L335.83,191.36 L335.41,189.07 L334.97,186.77 L334.53,184.47 L334.08,182.18 L333.62,179.89 L333.15,177.59 L332.68,175.30 L332.20,173.01 L331.71,170.72 L331.21,168.43 L330.71,166.14 L330.21,163.85 L329.70,161.57 L329.18,159.28 L328.66,157.00 L328.13,154.72 L327.59,152.44 L327.06,150.16 L326.52,147.88 L325.97,145.60 L325.42,143.32 L324.87,141.05 L324.32,138.77 L323.76,136.50 L323.20,134.23 L322.63,131.96 L322.07,129.69 L321.50,127.43 L320.93,125.16 L320.36,122.90 L319.79,120.64 L319.22,118.38 L318.64,116.12 L318.06,113.86 L317.48,111.61 L316.89,109.36 L316.30,107.11 L315.70,104.86 L315.09,102.62 L314.47,100.38 L313.84,98.15 L313.20,95.92 L312.55,93.69 L311.89,91.47 L311.21,89.26 L310.52,87.05 L309.82,84.84 L309.09,82.65 L308.35,80.45 L307.60,78.27 L306.82,76.09 L306.02,73.91 L305.20,71.75 L304.36,69.59 L303.50,67.44 L302.61,65.30 L301.70,63.16 L300.76,61.04 L299.80,58.92 L298.80,56.81 L297.78,54.71 L296.73,52.62 L295.65,50.54 L294.54,48.47 L293.40,46.41 L292.22,44.36 L291.01,42.32 L289.76,40.29 L288.48,38.28 L287.16,36.27 L285.80,34.28 L284.41,32.31 L282.98,30.36 L281.51,28.44 L280.01,26.55 L278.47,24.69 L276.90,22.88 L275.29,21.11 L273.65,19.39 L271.98,17.72 L270.27,16.11 L268.53,14.56 L266.76,13.07 L264.95,11.66 L263.11,10.32 L261.24,9.06 L259.34,7.88 L257.41,6.79 L255.45,5.79 L253.46,4.88 L251.44,4.08 L249.39,3.38 L247.31,2.79 L245.20,2.32 L243.06,1.96 L240.90,1.72 L238.71,1.61 Z" fill="none" stroke="url(#railG)" stroke-width="9"/></g>
<path d="M238.70,0.45 L236.45,0.47 L234.15,0.62 L231.83,0.89 L229.51,1.28 L227.18,1.78 L224.85,2.39 L222.53,3.11 L220.22,3.93 L217.93,4.84 L215.65,5.84 L213.40,6.93 L211.18,8.10 L208.99,9.35 L206.85,10.67 L204.74,12.06 L202.69,13.52 L200.68,15.03 L198.74,16.60 L196.86,18.22 L195.05,19.88 L193.31,21.59 L191.64,23.34 L190.04,25.12 L188.51,26.94 L187.03,28.78 L185.61,30.66 L184.25,32.57 L182.93,34.49 L181.66,36.45 L180.42,38.42 L179.23,40.41 L178.06,42.41 L176.92,44.43 L175.81,46.46 L174.72,48.50 L173.64,50.54 L172.58,52.60 L171.54,54.66 L170.51,56.73 L169.49,58.81 L168.49,60.90 L167.49,62.99 L166.52,65.09 L165.55,67.20 L164.60,69.31 L163.65,71.44 L162.73,73.56 L161.81,75.70 L160.90,77.84 L160.01,79.99 L159.12,82.14 L158.25,84.30 L157.39,86.47 L156.54,88.64 L155.70,90.81 L154.86,92.99 L154.04,95.18 L153.23,97.37 L152.43,99.56 L151.63,101.76 L150.85,103.97 L150.07,106.17 L149.30,108.38 L148.54,110.60 L147.79,112.82 L147.04,115.04 L146.31,117.26 L145.58,119.49 L144.85,121.72 L144.13,123.96 L143.42,126.19 L142.72,128.43 L142.03,130.68 L141.34,132.92 L140.66,135.17 L139.98,137.42 L139.31,139.67 L138.66,141.93 L138.00,144.18 L137.36,146.44 L136.72,148.71 L136.10,150.97 L135.48,153.24 L134.86,155.51 L134.26,157.78 L133.67,160.05 L133.08,162.33 L132.50,164.61 L131.93,166.89 L131.37,169.17 L130.82,171.45 L130.28,173.74 L129.74,176.03 L129.22,178.32 L128.70,180.61 L128.20,182.90 L127.70,185.20 L127.22,187.49 L126.74,189.79 L126.27,192.09 L125.82,194.39 L125.37,196.69 L124.93,199.00 L124.51,201.30 L124.09,203.61 L123.68,205.91 L123.29,208.22 L122.90,210.53 L122.53,212.84 L122.17,215.15 L121.82,217.47 L121.48,219.78 L121.15,222.09 L120.83,224.41 L120.52,226.72 L120.23,229.04 L119.94,231.36 L119.67,233.67 L119.41,235.99 L119.15,238.31 L118.91,240.63 L118.68,242.95 L118.46,245.27 L118.25,247.59 L118.04,249.90 L117.86,252.23 L117.69,254.55 L117.53,256.87 L117.37,259.19 L117.23,261.51 L117.09,263.84 L116.96,266.16 L116.84,268.48 L116.72,270.81 L116.61,273.13 L116.51,275.45 L116.42,277.78 L116.33,280.10 L116.25,282.42 L116.17,284.75 L116.10,287.07 L116.04,289.40 L115.98,291.72 L115.93,294.05 L115.88,296.38 L115.83,298.70 L115.80,301.03 L115.76,303.35 L115.73,305.68 L115.70,308.01 L115.68,310.33 L115.66,312.66 L115.64,314.99 L115.63,317.31 L115.62,319.64 L115.61,321.97 L115.61,324.30 L115.60,326.62 L115.60,328.95 L115.60,331.28 L115.60,333.61 L115.60,335.94 L115.61,338.27 L115.61,340.60 L115.62,342.92 L115.62,345.25 L115.63,347.58 L115.63,349.91 L115.64,352.24 L115.64,354.57 L115.65,356.90 L115.65,359.23 L115.65,361.56 L115.65,363.89 L115.65,366.22 L115.65,368.55 L115.64,370.88 L115.63,373.21 L115.62,375.54 L115.61,377.87 L115.60,380.21 L115.58,382.54 L115.57,384.87 L115.55,387.20 L115.53,389.54 L115.50,391.87 L115.48,394.20 L115.45,396.54 L115.42,398.87 L115.39,401.21 L115.36,403.54 L115.33,405.88 L115.30,408.21 L115.26,410.55 L115.23,412.89 L115.19,415.22 L115.15,417.56 L115.11,419.90 L115.07,422.23 L115.03,424.57 L114.99,426.91 L114.94,429.25 L114.90,431.58 L114.85,433.92 L114.81,436.26 L114.76,438.60 L114.71,440.94 L114.67,443.28 L114.62,445.62 L114.57,447.96 L114.52,450.30 L114.47,452.64 L114.42,454.98 L114.37,457.32 L114.32,459.66 L114.27,462.00 L114.22,464.34 L114.16,466.68 L114.11,469.02 L114.06,471.36 L114.01,473.70 L113.96,476.04 L113.91,478.38 L113.86,480.72 L113.81,483.06 L113.76,485.40 L113.71,487.74 L113.66,490.09 L113.61,492.43 L113.56,494.77 L113.51,497.11 L113.47,499.45 L113.42,501.79 L113.37,504.13 L113.33,506.48 L113.28,508.82 L113.24,511.16 L113.20,513.50 L113.16,515.84 L113.12,518.18 L113.08,520.53 L113.04,522.87 L113.00,525.21 L112.96,527.55 L112.93,529.89 L112.90,532.23 L112.86,534.57 L112.83,536.91 L112.81,539.25 L112.78,541.60 L112.75,543.94 L112.73,546.28 L112.71,548.62 L112.68,550.96 L112.67,553.30 L112.65,555.64 L112.63,557.98 L112.62,560.32 L112.61,562.66 L112.60,565.00 L112.59,567.34 L112.59,569.68 L112.58,572.02 L112.58,574.35 L112.58,576.69 L112.59,579.03 L112.60,581.37 L112.60,583.71 L112.62,586.05 L112.63,588.38 L112.65,590.72 L112.67,593.06 L112.69,595.40 L112.71,597.73 L112.74,600.07 L112.77,602.40 L112.80,604.74 L112.84,607.08 L112.88,609.41 L112.92,611.75 L112.97,614.08 L113.01,616.42 L113.07,618.75 L113.12,621.08 L113.18,623.42 L113.24,625.75 L113.31,628.08 L113.38,630.42 L113.45,632.75 L113.52,635.08 L113.60,637.41 L113.69,639.74 L113.77,642.08 L113.86,644.41 L113.96,646.74 L114.06,649.07 L114.17,651.40 L114.31,653.72 L114.44,656.05 L114.59,658.38 L114.73,660.70 L114.88,663.03 L115.03,665.35 L115.19,667.68 L115.35,670.00 L115.52,672.33 L115.69,674.65 L115.87,676.97 L116.05,679.29 L116.23,681.61 L116.42,683.94 L116.61,686.26 L116.81,688.57 L117.02,690.89 L117.22,693.21 L117.44,695.53 L117.65,697.85 L117.88,700.16 L118.11,702.48 L118.34,704.79 L118.58,707.11 L118.82,709.42 L119.07,711.73 L119.32,714.05 L119.58,716.36 L119.85,718.67 L120.12,720.98 L120.40,723.29 L120.68,725.60 L120.96,727.90 L121.26,730.21 L121.56,732.52 L121.86,734.82 L122.17,737.13 L122.49,739.43 L122.81,741.73 L123.13,744.04 L123.47,746.34 L123.81,748.64 L124.15,750.94 L124.51,753.24 L124.86,755.54 L125.23,757.83 L125.60,760.13 L125.95,762.43 L126.31,764.73 L126.67,767.03 L127.05,769.32 L127.42,771.62 L127.81,773.92 L128.20,776.21 L128.59,778.50 L129.00,780.80 L129.41,783.09 L129.82,785.38 L130.25,787.67 L130.68,789.96 L131.11,792.25 L131.55,794.54 L132.00,796.83 L132.45,799.12 L132.91,801.41 L133.37,803.69 L133.84,805.98 L134.32,808.26 L134.80,810.55 L135.29,812.83 L135.78,815.12 L136.28,817.40 L136.79,819.68 L137.30,821.96 L137.81,824.24 L138.33,826.52 L138.86,828.80 L139.39,831.08 L139.93,833.36 L140.47,835.64 L141.01,837.92 L141.57,840.20 L142.12,842.47 L142.68,844.75 L143.25,847.03 L143.82,849.30 L144.40,851.58 L144.98,853.85 L145.56,856.13 L146.15,858.40 L146.75,860.68 L147.35,862.95 L147.95,865.22 L148.56,867.50 L149.17,869.77 L149.79,872.04 L150.41,874.32 L151.03,876.59 L151.66,878.86 L152.30,881.13 L152.93,883.40 L153.57,885.67 L154.22,887.94 L154.87,890.21 L155.52,892.48 L156.18,894.75 L156.84,897.03 L157.51,899.30 L158.18,901.56 L158.86,903.83 L159.55,906.09 L160.26,908.35 L160.98,910.59 L161.72,912.83 L162.48,915.05 L163.26,917.27 L164.06,919.46 L164.89,921.64 L165.74,923.81 L166.63,925.95 L167.55,928.07 L168.50,930.17 L169.49,932.25 L170.52,934.29 L171.59,936.31 L172.70,938.30 L173.85,940.26 L175.06,942.18 L176.31,944.07 L177.64,945.91 L179.03,947.70 L180.49,949.44 L182.04,951.10 L183.67,952.70 L185.39,954.21 L187.19,955.64 L189.07,957.00 L191.03,958.28 L193.05,959.48 L195.15,960.60 L197.31,961.64 L199.53,962.61 L201.81,963.51 L204.14,964.32 L206.51,965.06 L208.93,965.72 L211.38,966.30 L213.86,966.81 L216.38,967.24 L218.91,967.59 L221.47,967.87 L224.04,968.07 L226.62,968.19 L229.21,968.23 L231.79,968.19 L234.40,968.43 L236.98,968.24 L239.56,967.97 L242.11,967.61 L244.65,967.18 L247.16,966.67 L249.63,966.08 L252.08,965.41 L254.48,964.66 L256.84,963.83 L259.15,962.91 L261.40,961.91 L263.60,960.83 L265.74,959.67 L267.81,958.43 L269.80,957.10 L271.72,955.68 L273.56,954.18 L275.31,952.60 L276.96,950.93 L278.53,949.20 L280.00,947.40 L281.41,945.54 L282.74,943.64 L284.00,941.70 L285.22,939.73 L286.38,937.73 L287.50,935.71 L288.57,933.65 L289.61,931.58 L290.60,929.48 L291.56,927.36 L292.48,925.22 L293.37,923.06 L294.23,920.88 L295.05,918.69 L295.86,916.48 L296.63,914.26 L297.39,912.03 L298.12,909.79 L298.84,907.54 L299.54,905.29 L300.23,903.03 L300.90,900.77 L301.56,898.50 L302.22,896.23 L302.87,893.97 L303.52,891.70 L304.16,889.43 L304.79,887.16 L305.42,884.89 L306.05,882.62 L306.66,880.35 L307.28,878.08 L307.89,875.81 L308.49,873.54 L309.09,871.26 L309.68,868.99 L310.27,866.71 L310.85,864.44 L311.43,862.16 L312.01,859.88 L312.57,857.61 L313.14,855.33 L313.69,853.05 L314.24,850.77 L314.79,848.49 L315.33,846.21 L315.87,843.93 L316.40,841.65 L316.93,839.36 L317.45,837.08 L317.96,834.79 L318.48,832.51 L318.98,830.22 L319.48,827.94 L319.98,825.65 L320.47,823.36 L320.95,821.08 L321.43,818.79 L321.91,816.50 L322.37,814.21 L322.84,811.92 L323.30,809.63 L323.75,807.34 L324.20,805.04 L324.64,802.75 L325.08,800.46 L325.51,798.16 L325.94,795.87 L326.36,793.57 L326.78,791.27 L327.19,788.98 L327.60,786.68 L328.00,784.38 L328.40,782.08 L328.79,779.78 L329.18,777.48 L329.56,775.18 L329.93,772.88 L330.31,770.58 L330.67,768.28 L331.03,765.98 L331.39,763.67 L331.74,761.37 L332.09,759.06 L332.45,756.76 L332.80,754.46 L333.15,752.15 L333.49,749.85 L333.83,747.54 L334.17,745.24 L334.49,742.93 L334.82,740.63 L335.14,738.32 L335.45,736.01 L335.76,733.70 L336.07,731.39 L336.37,729.08 L336.66,726.77 L336.96,724.46 L337.24,722.15 L337.53,719.84 L337.81,717.52 L338.08,715.21 L338.35,712.90 L338.62,710.58 L338.88,708.27 L339.13,705.95 L339.39,703.64 L339.64,701.32 L339.88,699.00 L340.12,696.68 L340.36,694.37 L340.59,692.05 L340.82,689.73 L341.05,687.41 L341.27,685.09 L341.49,682.77 L341.70,680.45 L341.91,678.13 L342.12,675.81 L342.32,673.48 L342.52,671.16 L342.71,668.84 L342.91,666.52 L343.09,664.19 L343.28,661.87 L343.46,659.54 L343.64,657.22 L343.81,654.89 L343.98,652.57 L344.15,650.24 L344.30,647.91 L344.44,645.59 L344.58,643.26 L344.72,640.93 L344.85,638.60 L344.98,636.27 L345.11,633.94 L345.23,631.61 L345.35,629.28 L345.47,626.95 L345.59,624.62 L345.70,622.29 L345.81,619.96 L345.92,617.63 L346.02,615.30 L346.12,612.96 L346.22,610.63 L346.32,608.30 L346.41,605.97 L346.50,603.63 L346.59,601.30 L346.68,598.97 L346.76,596.63 L346.84,594.30 L346.92,591.97 L347.00,589.63 L347.07,587.30 L347.14,584.96 L347.21,582.63 L347.28,580.29 L347.35,577.96 L347.41,575.62 L347.47,573.29 L347.53,570.95 L347.59,568.62 L347.64,566.28 L347.70,563.94 L347.75,561.61 L347.80,559.27 L347.85,556.93 L347.89,554.60 L347.94,552.26 L347.98,549.92 L348.02,547.59 L348.06,545.25 L348.10,542.91 L348.13,540.57 L348.17,538.24 L348.20,535.90 L348.23,533.56 L348.27,531.22 L348.29,528.89 L348.32,526.55 L348.35,524.21 L348.37,521.87 L348.40,519.53 L348.42,517.19 L348.44,514.86 L348.46,512.52 L348.48,510.18 L348.50,507.84 L348.52,505.50 L348.54,503.16 L348.55,500.83 L348.57,498.49 L348.58,496.15 L348.60,493.81 L348.61,491.47 L348.62,489.13 L348.63,486.79 L348.64,484.46 L348.65,482.12 L348.66,479.78 L348.67,477.44 L348.68,475.10 L348.69,472.76 L348.70,470.42 L348.70,468.09 L348.71,465.75 L348.72,463.41 L348.72,461.07 L348.73,458.73 L348.74,456.39 L348.74,454.06 L348.75,451.72 L348.75,449.38 L348.76,447.04 L348.76,444.71 L348.77,442.37 L348.78,440.03 L348.78,437.69 L348.79,435.36 L348.79,433.02 L348.80,430.68 L348.81,428.34 L348.81,426.01 L348.82,423.67 L348.83,421.33 L348.84,419.00 L348.84,416.66 L348.85,414.32 L348.86,411.99 L348.87,409.65 L348.88,407.32 L348.89,404.98 L348.91,402.65 L348.92,400.31 L348.93,397.98 L348.95,395.64 L348.96,393.31 L348.98,390.97 L348.99,388.64 L349.01,386.30 L349.03,383.97 L349.05,381.63 L349.06,379.30 L349.08,376.96 L349.10,374.63 L349.12,372.30 L349.14,369.96 L349.16,367.63 L349.17,365.29 L349.19,362.96 L349.20,360.63 L349.22,358.29 L349.23,355.96 L349.24,353.62 L349.26,351.29 L349.26,348.96 L349.27,346.62 L349.28,344.29 L349.28,341.96 L349.28,339.62 L349.28,337.29 L349.28,334.96 L349.27,332.62 L349.27,330.29 L349.26,327.96 L349.24,325.63 L349.22,323.30 L349.20,320.96 L349.18,318.63 L349.15,316.30 L349.12,313.97 L349.09,311.64 L349.05,309.31 L349.01,306.98 L348.96,304.64 L348.91,302.31 L348.86,299.98 L348.80,297.65 L348.73,295.32 L348.66,293.00 L348.59,290.67 L348.51,288.34 L348.42,286.01 L348.33,283.68 L348.23,281.35 L348.13,279.02 L348.02,276.70 L347.91,274.37 L347.79,272.04 L347.66,269.72 L347.53,267.39 L347.39,265.06 L347.24,262.74 L347.09,260.41 L346.93,258.09 L346.76,255.76 L346.59,253.44 L346.41,251.12 L346.21,248.79 L345.99,246.47 L345.77,244.15 L345.54,241.83 L345.30,239.51 L345.05,237.19 L344.80,234.87 L344.53,232.55 L344.26,230.24 L343.98,227.92 L343.68,225.60 L343.38,223.29 L343.08,220.97 L342.76,218.66 L342.43,216.34 L342.09,214.03 L341.74,211.71 L341.38,209.40 L341.02,207.09 L340.64,204.78 L340.25,202.47 L339.85,200.16 L339.44,197.85 L339.03,195.55 L338.60,193.24 L338.16,190.94 L337.72,188.63 L337.26,186.33 L336.80,184.03 L336.33,181.73 L335.86,179.43 L335.37,177.14 L334.88,174.84 L334.38,172.55 L333.87,170.25 L333.36,167.96 L332.84,165.67 L332.32,163.38 L331.79,161.10 L331.26,158.81 L330.71,156.53 L330.17,154.24 L329.62,151.96 L329.07,149.68 L328.51,147.40 L327.94,145.13 L327.38,142.85 L326.81,140.58 L326.24,138.30 L325.66,136.03 L325.08,133.76 L324.50,131.50 L323.92,129.23 L323.34,126.97 L322.75,124.70 L322.16,122.44 L321.58,120.18 L320.99,117.93 L320.40,115.67 L319.80,113.41 L319.20,111.16 L318.59,108.91 L317.98,106.66 L317.36,104.41 L316.74,102.17 L316.10,99.93 L315.46,97.69 L314.80,95.46 L314.13,93.23 L313.45,91.00 L312.76,88.78 L312.05,86.57 L311.32,84.36 L310.58,82.15 L309.82,79.95 L309.04,77.76 L308.24,75.57 L307.43,73.39 L306.59,71.22 L305.73,69.05 L304.84,66.89 L303.94,64.74 L303.00,62.60 L302.04,60.46 L301.06,58.34 L300.04,56.22 L299.00,54.11 L297.93,52.01 L296.83,49.92 L295.69,47.84 L294.53,45.77 L293.33,43.71 L292.09,41.67 L290.82,39.63 L289.52,37.60 L288.19,35.58 L286.82,33.58 L285.41,31.59 L283.96,29.63 L282.47,27.69 L280.95,25.78 L279.40,23.91 L277.80,22.08 L276.17,20.29 L274.51,18.55 L272.81,16.86 L271.07,15.23 L269.30,13.66 L267.50,12.15 L265.66,10.72 L263.79,9.35 L261.88,8.07 L259.94,6.87 L257.96,5.76 L255.96,4.74 L253.91,3.81 L251.84,2.99 L249.73,2.28 L247.59,1.67 L245.42,1.18 L243.22,0.81 L240.99,0.57 L238.77,0.45 Z M238.65,2.76 L240.81,2.87 L242.90,3.10 L244.98,3.45 L247.02,3.91 L249.04,4.49 L251.04,5.17 L253.00,5.95 L254.94,6.84 L256.86,7.81 L258.75,8.88 L260.61,10.04 L262.44,11.28 L264.24,12.60 L266.01,13.99 L267.75,15.45 L269.47,16.98 L271.15,18.57 L272.79,20.22 L274.41,21.93 L276.00,23.68 L277.55,25.48 L279.06,27.32 L280.55,29.19 L281.99,31.10 L283.41,33.03 L284.79,34.99 L286.13,36.96 L287.43,38.95 L288.70,40.96 L289.92,42.98 L291.11,45.01 L292.27,47.05 L293.39,49.10 L294.48,51.16 L295.54,53.23 L296.57,55.31 L297.56,57.40 L298.54,59.50 L299.48,61.61 L300.40,63.73 L301.29,65.85 L302.15,67.99 L303.00,70.13 L303.82,72.28 L304.62,74.44 L305.39,76.60 L306.15,78.78 L306.89,80.95 L307.61,83.14 L308.31,85.33 L309.00,87.53 L309.67,89.74 L310.33,91.95 L310.97,94.16 L311.61,96.38 L312.23,98.61 L312.84,100.84 L313.44,103.07 L314.03,105.31 L314.61,107.56 L315.19,109.80 L315.76,112.05 L316.32,114.31 L316.88,116.57 L317.44,118.83 L318.00,121.09 L318.55,123.35 L319.11,125.62 L319.66,127.89 L320.21,130.16 L320.76,132.43 L321.31,134.70 L321.85,136.97 L322.39,139.25 L322.93,141.52 L323.47,143.80 L324.00,146.07 L324.53,148.35 L325.05,150.63 L325.57,152.91 L326.08,155.19 L326.60,157.47 L327.10,159.76 L327.60,162.04 L328.10,164.33 L328.58,166.61 L329.07,168.90 L329.54,171.18 L330.01,173.47 L330.48,175.76 L330.93,178.05 L331.38,180.34 L331.82,182.63 L332.26,184.92 L332.68,187.21 L333.10,189.50 L333.51,191.79 L333.91,194.09 L334.30,196.38 L334.68,198.67 L335.05,200.96 L335.41,203.26 L335.76,205.55 L336.10,207.85 L336.43,210.14 L336.75,212.44 L337.07,214.74 L337.37,217.03 L337.66,219.33 L337.94,221.63 L338.21,223.93 L338.48,226.23 L338.73,228.53 L338.98,230.83 L339.22,233.13 L339.44,235.43 L339.67,237.74 L339.88,240.04 L340.08,242.34 L340.28,244.65 L340.46,246.95 L340.64,249.26 L340.83,251.56 L341.01,253.87 L341.18,256.18 L341.35,258.48 L341.51,260.79 L341.67,263.10 L341.82,265.41 L341.96,267.72 L342.09,270.03 L342.22,272.34 L342.34,274.65 L342.46,276.97 L342.57,279.28 L342.67,281.59 L342.77,283.91 L342.86,286.22 L342.95,288.54 L343.03,290.85 L343.11,293.17 L343.18,295.49 L343.25,297.81 L343.31,300.12 L343.36,302.44 L343.42,304.76 L343.47,307.08 L343.51,309.40 L343.55,311.73 L343.59,314.05 L343.62,316.37 L343.65,318.69 L343.68,321.02 L343.70,323.34 L343.72,325.67 L343.73,327.99 L343.75,330.32 L343.76,332.64 L343.77,334.97 L343.77,337.30 L343.77,339.62 L343.77,341.95 L343.77,344.28 L343.77,346.61 L343.76,348.94 L343.76,351.27 L343.75,353.60 L343.74,355.93 L343.73,358.26 L343.71,360.59 L343.70,362.92 L343.69,365.26 L343.67,367.59 L343.66,369.92 L343.64,372.26 L343.63,374.59 L343.61,376.92 L343.59,379.26 L343.58,381.59 L343.56,383.93 L343.55,386.26 L343.53,388.60 L343.52,390.94 L343.50,393.27 L343.49,395.61 L343.48,397.95 L343.47,400.28 L343.46,402.62 L343.45,404.96 L343.44,407.29 L343.43,409.63 L343.42,411.97 L343.42,414.31 L343.41,416.64 L343.40,418.98 L343.40,421.32 L343.39,423.66 L343.39,425.99 L343.38,428.33 L343.38,430.67 L343.38,433.01 L343.37,435.34 L343.37,437.68 L343.37,440.02 L343.36,442.36 L343.36,444.70 L343.36,447.03 L343.35,449.37 L343.35,451.71 L343.35,454.05 L343.34,456.38 L343.34,458.72 L343.34,461.06 L343.33,463.40 L343.33,465.73 L343.32,468.07 L343.32,470.41 L343.31,472.75 L343.31,475.09 L343.30,477.42 L343.29,479.76 L343.29,482.10 L343.28,484.43 L343.27,486.77 L343.26,489.11 L343.25,491.45 L343.24,493.78 L343.23,496.12 L343.22,498.46 L343.21,500.79 L343.19,503.13 L343.18,505.47 L343.16,507.80 L343.15,510.14 L343.13,512.47 L343.11,514.81 L343.09,517.15 L343.07,519.48 L343.05,521.82 L343.02,524.15 L343.00,526.49 L342.97,528.82 L342.95,531.16 L342.92,533.49 L342.89,535.83 L342.86,538.16 L342.83,540.50 L342.79,542.83 L342.76,545.16 L342.72,547.50 L342.68,549.83 L342.64,552.16 L342.60,554.50 L342.55,556.83 L342.51,559.16 L342.46,561.49 L342.41,563.83 L342.36,566.16 L342.31,568.49 L342.25,570.82 L342.20,573.15 L342.14,575.48 L342.08,577.81 L342.01,580.15 L341.95,582.48 L341.88,584.81 L341.81,587.13 L341.74,589.46 L341.66,591.79 L341.59,594.12 L341.51,596.45 L341.43,598.78 L341.34,601.11 L341.26,603.43 L341.17,605.76 L341.08,608.09 L340.99,610.42 L340.89,612.74 L340.79,615.07 L340.69,617.39 L340.58,619.72 L340.48,622.04 L340.37,624.37 L340.25,626.69 L340.14,629.02 L340.02,631.34 L339.90,633.66 L339.77,635.99 L339.65,638.31 L339.52,640.63 L339.38,642.95 L339.25,645.27 L339.11,647.59 L338.96,649.92 L338.84,652.24 L338.71,654.56 L338.57,656.88 L338.43,659.20 L338.29,661.52 L338.15,663.84 L338.00,666.16 L337.85,668.48 L337.69,670.79 L337.54,673.11 L337.37,675.43 L337.21,677.75 L337.04,680.06 L336.87,682.38 L336.69,684.70 L336.51,687.01 L336.32,689.33 L336.13,691.64 L335.94,693.96 L335.75,696.27 L335.54,698.58 L335.34,700.90 L335.13,703.21 L334.92,705.52 L334.70,707.84 L334.48,710.15 L334.26,712.46 L334.03,714.77 L333.79,717.08 L333.55,719.39 L333.31,721.70 L333.07,724.01 L332.81,726.31 L332.56,728.62 L332.30,730.93 L332.03,733.24 L331.76,735.54 L331.49,737.85 L331.21,740.15 L330.93,742.46 L330.64,744.76 L330.34,747.07 L330.05,749.37 L329.74,751.67 L329.44,753.98 L329.12,756.28 L328.81,758.58 L328.47,760.88 L328.13,763.18 L327.78,765.47 L327.42,767.77 L327.06,770.06 L326.70,772.36 L326.32,774.65 L325.95,776.95 L325.57,779.24 L325.18,781.53 L324.79,783.83 L324.39,786.12 L323.99,788.41 L323.58,790.70 L323.17,792.99 L322.75,795.28 L322.33,797.57 L321.90,799.85 L321.46,802.14 L321.03,804.43 L320.58,806.71 L320.13,809.00 L319.68,811.28 L319.22,813.57 L318.76,815.85 L318.29,818.13 L317.81,820.42 L317.33,822.70 L316.85,824.98 L316.36,827.26 L315.86,829.54 L315.36,831.82 L314.85,834.10 L314.34,836.38 L313.83,838.65 L313.30,840.93 L312.78,843.21 L312.25,845.48 L311.71,847.76 L311.17,850.03 L310.62,852.30 L310.07,854.58 L309.51,856.85 L308.95,859.12 L308.38,861.39 L307.81,863.66 L307.23,865.93 L306.65,868.20 L306.06,870.47 L305.46,872.74 L304.87,875.00 L304.26,877.27 L303.65,879.54 L303.04,881.80 L302.42,884.07 L301.79,886.33 L301.16,888.59 L300.53,890.86 L299.89,893.12 L299.25,895.38 L298.59,897.64 L297.94,899.89 L297.27,902.14 L296.59,904.39 L295.90,906.62 L295.20,908.85 L294.47,911.06 L293.73,913.26 L292.97,915.45 L292.18,917.62 L291.37,919.78 L290.53,921.92 L289.66,924.03 L288.77,926.13 L287.84,928.20 L286.87,930.25 L285.87,932.27 L284.82,934.27 L283.74,936.24 L282.62,938.17 L281.45,940.08 L280.23,941.95 L278.96,943.76 L277.63,945.53 L276.24,947.23 L274.77,948.86 L273.22,950.42 L271.59,951.90 L269.88,953.31 L268.08,954.64 L266.20,955.89 L264.25,957.07 L262.22,958.17 L260.14,959.19 L257.99,960.14 L255.79,961.02 L253.53,961.81 L251.23,962.53 L248.89,963.18 L246.51,963.74 L244.10,964.23 L241.66,964.65 L239.20,964.99 L236.71,965.25 L234.22,965.44 L231.73,965.90 L229.21,965.93 L226.69,965.89 L224.18,965.77 L221.68,965.58 L219.20,965.31 L216.73,964.97 L214.29,964.55 L211.88,964.06 L209.50,963.49 L207.16,962.85 L204.86,962.14 L202.61,961.35 L200.41,960.49 L198.27,959.55 L196.19,958.55 L194.18,957.47 L192.24,956.32 L190.37,955.10 L188.58,953.81 L186.87,952.45 L185.24,951.01 L183.68,949.50 L182.21,947.91 L180.81,946.26 L179.48,944.54 L178.21,942.76 L176.99,940.94 L175.82,939.07 L174.69,937.16 L173.61,935.21 L172.56,933.24 L171.56,931.24 L170.59,929.20 L169.65,927.14 L168.75,925.05 L167.88,922.95 L167.03,920.81 L166.21,918.66 L165.42,916.49 L164.65,914.30 L163.90,912.10 L163.17,909.88 L162.45,907.65 L161.75,905.41 L161.06,903.16 L160.38,900.91 L159.71,898.65 L159.05,896.38 L158.39,894.11 L157.73,891.85 L157.08,889.58 L156.43,887.31 L155.79,885.05 L155.15,882.78 L154.51,880.51 L153.88,878.24 L153.25,875.98 L152.63,873.71 L152.01,871.44 L151.39,869.17 L150.78,866.90 L150.17,864.63 L149.57,862.36 L148.97,860.09 L148.38,857.82 L147.79,855.55 L147.21,853.28 L146.63,851.01 L146.05,848.74 L145.48,846.47 L144.92,844.20 L144.36,841.93 L143.80,839.65 L143.25,837.38 L142.70,835.11 L142.16,832.83 L141.63,830.56 L141.10,828.28 L140.57,826.01 L140.05,823.73 L139.54,821.46 L139.03,819.18 L138.53,816.90 L138.03,814.63 L137.54,812.35 L137.05,810.07 L136.57,807.79 L136.10,805.51 L135.63,803.23 L135.16,800.95 L134.71,798.67 L134.25,796.39 L133.81,794.11 L133.37,791.82 L132.94,789.54 L132.51,787.25 L132.09,784.97 L131.67,782.68 L131.26,780.40 L130.86,778.11 L130.46,775.82 L130.08,773.53 L129.69,771.24 L129.32,768.95 L128.95,766.66 L128.58,764.37 L128.23,762.08 L127.88,759.79 L127.56,757.49 L127.25,755.19 L126.94,752.89 L126.64,750.59 L126.35,748.29 L126.06,745.99 L125.78,743.69 L125.50,741.39 L125.23,739.08 L124.97,736.78 L124.71,734.48 L124.46,732.17 L124.22,729.87 L123.98,727.56 L123.74,725.25 L123.52,722.95 L123.29,720.64 L123.07,718.33 L122.86,716.02 L122.66,713.71 L122.46,711.40 L122.26,709.09 L122.07,706.78 L121.88,704.47 L121.70,702.16 L121.53,699.85 L121.36,697.54 L121.19,695.22 L121.03,692.91 L120.88,690.59 L120.73,688.28 L120.58,685.96 L120.44,683.65 L120.31,681.33 L120.17,679.02 L120.05,676.70 L119.92,674.38 L119.81,672.06 L119.69,669.75 L119.58,667.43 L119.48,665.11 L119.38,662.79 L119.28,660.47 L119.19,658.15 L119.10,655.83 L119.02,653.50 L118.94,651.18 L118.85,648.86 L118.76,646.54 L118.66,644.22 L118.57,641.89 L118.48,639.57 L118.40,637.25 L118.32,634.92 L118.25,632.60 L118.17,630.27 L118.11,627.95 L118.04,625.62 L117.98,623.29 L117.92,620.97 L117.87,618.64 L117.81,616.31 L117.77,613.99 L117.72,611.66 L117.68,609.33 L117.64,607.00 L117.60,604.67 L117.57,602.34 L117.54,600.01 L117.51,597.68 L117.49,595.35 L117.46,593.02 L117.45,590.68 L117.43,588.35 L117.42,586.02 L117.40,583.69 L117.40,581.35 L117.39,579.02 L117.38,576.69 L117.38,574.35 L117.38,572.02 L117.39,569.68 L117.39,567.35 L117.40,565.01 L117.41,562.68 L117.42,560.34 L117.43,558.01 L117.45,555.67 L117.47,553.33 L117.48,551.00 L117.50,548.66 L117.53,546.32 L117.55,543.99 L117.58,541.65 L117.61,539.31 L117.63,536.97 L117.66,534.64 L117.70,532.30 L117.73,529.96 L117.76,527.62 L117.80,525.28 L117.84,522.94 L117.88,520.60 L117.91,518.27 L117.96,515.93 L118.00,513.59 L118.04,511.25 L118.08,508.91 L118.13,506.57 L118.17,504.23 L118.22,501.89 L118.26,499.55 L118.31,497.21 L118.36,494.87 L118.41,492.53 L118.46,490.19 L118.51,487.85 L118.56,485.51 L118.61,483.17 L118.66,480.83 L118.71,478.48 L118.76,476.14 L118.81,473.80 L118.86,471.46 L118.91,469.12 L118.96,466.78 L119.02,464.44 L119.07,462.10 L119.12,459.76 L119.17,457.42 L119.22,455.08 L119.27,452.74 L119.32,450.40 L119.37,448.06 L119.42,445.72 L119.47,443.38 L119.51,441.04 L119.56,438.70 L119.61,436.36 L119.65,434.02 L119.70,431.68 L119.74,429.34 L119.79,427.00 L119.83,424.66 L119.87,422.32 L119.91,419.98 L119.95,417.64 L119.99,415.30 L120.03,412.96 L120.06,410.62 L120.10,408.28 L120.13,405.95 L120.16,403.61 L120.19,401.27 L120.22,398.93 L120.25,396.59 L120.28,394.26 L120.30,391.92 L120.32,389.58 L120.35,387.25 L120.37,384.91 L120.38,382.57 L120.40,380.24 L120.41,377.90 L120.42,375.57 L120.43,373.23 L120.44,370.89 L120.45,368.56 L120.45,366.23 L120.45,363.89 L120.45,361.56 L120.45,359.23 L120.45,356.89 L120.44,354.56 L120.44,352.23 L120.43,349.90 L120.43,347.57 L120.42,345.24 L120.42,342.91 L120.41,340.59 L120.41,338.26 L120.40,335.93 L120.40,333.61 L120.40,331.28 L120.40,328.95 L120.40,326.63 L120.41,324.31 L120.41,321.98 L120.42,319.66 L120.43,317.34 L120.44,315.02 L120.46,312.70 L120.48,310.38 L120.50,308.06 L120.53,305.74 L120.56,303.42 L120.59,301.10 L120.63,298.79 L120.68,296.47 L120.73,294.15 L120.78,291.84 L120.84,289.53 L120.90,287.21 L120.97,284.90 L121.04,282.59 L121.13,280.28 L121.21,277.96 L121.31,275.65 L121.41,273.34 L121.52,271.04 L121.63,268.73 L121.75,266.42 L121.88,264.11 L122.02,261.81 L122.16,259.50 L122.32,257.20 L122.48,254.89 L122.65,252.59 L122.83,250.29 L123.01,247.98 L123.19,245.68 L123.39,243.38 L123.59,241.08 L123.81,238.78 L124.03,236.48 L124.27,234.18 L124.51,231.88 L124.77,229.58 L125.04,227.29 L125.31,224.99 L125.60,222.69 L125.91,220.40 L126.22,218.10 L126.54,215.80 L126.88,213.51 L127.22,211.22 L127.58,208.92 L127.95,206.63 L128.32,204.34 L128.71,202.05 L129.11,199.75 L129.52,197.46 L129.94,195.18 L130.37,192.89 L130.80,190.60 L131.25,188.32 L131.71,186.03 L132.18,183.75 L132.66,181.47 L133.14,179.19 L133.64,176.91 L134.15,174.63 L134.66,172.35 L135.18,170.08 L135.72,167.80 L136.26,165.53 L136.81,163.26 L137.37,160.99 L137.94,158.73 L138.51,156.46 L139.10,154.20 L139.69,151.94 L140.29,149.68 L140.90,147.42 L141.51,145.17 L142.14,142.92 L142.77,140.67 L143.41,138.42 L144.06,136.17 L144.71,133.93 L145.37,131.69 L146.04,129.45 L146.72,127.22 L147.40,124.98 L148.09,122.75 L148.79,120.52 L149.49,118.30 L150.21,116.08 L150.92,113.86 L151.65,111.64 L152.38,109.43 L153.13,107.22 L153.88,105.02 L154.63,102.82 L155.40,100.63 L156.18,98.44 L156.96,96.25 L157.76,94.07 L158.56,91.90 L159.37,89.73 L160.20,87.56 L161.03,85.40 L161.88,83.25 L162.73,81.10 L163.60,78.96 L164.48,76.82 L165.37,74.69 L166.27,72.57 L167.18,70.46 L168.11,68.35 L169.05,66.24 L170.00,64.15 L170.96,62.06 L171.94,59.98 L172.93,57.91 L173.93,55.85 L174.95,53.79 L175.98,51.74 L177.02,49.70 L178.08,47.67 L179.16,45.66 L180.26,43.66 L181.39,41.68 L182.56,39.72 L183.75,37.78 L184.99,35.86 L186.27,33.98 L187.59,32.11 L188.97,30.28 L190.39,28.48 L191.88,26.71 L193.42,24.98 L195.03,23.28 L196.71,21.62 L198.46,20.00 L200.27,18.43 L202.15,16.90 L204.09,15.43 L206.08,14.01 L208.12,12.66 L210.20,11.37 L212.31,10.16 L214.46,9.02 L216.63,7.96 L218.83,6.99 L221.04,6.10 L223.26,5.31 L225.49,4.62 L227.72,4.03 L229.95,3.55 L232.16,3.17 L234.36,2.92 L236.53,2.78 L238.72,2.76 Z" fill="url(#rimL)" fill-rule="evenodd" clip-path="url(#clipL)"/>
<path d="M238.70,0.45 L236.45,0.47 L234.15,0.62 L231.83,0.89 L229.51,1.28 L227.18,1.78 L224.85,2.39 L222.53,3.11 L220.22,3.93 L217.93,4.84 L215.65,5.84 L213.40,6.93 L211.18,8.10 L208.99,9.35 L206.85,10.67 L204.74,12.06 L202.69,13.52 L200.68,15.03 L198.74,16.60 L196.86,18.22 L195.05,19.88 L193.31,21.59 L191.64,23.34 L190.04,25.12 L188.51,26.94 L187.03,28.78 L185.61,30.66 L184.25,32.57 L182.93,34.49 L181.66,36.45 L180.42,38.42 L179.23,40.41 L178.06,42.41 L176.92,44.43 L175.81,46.46 L174.72,48.50 L173.64,50.54 L172.58,52.60 L171.54,54.66 L170.51,56.73 L169.49,58.81 L168.49,60.90 L167.49,62.99 L166.52,65.09 L165.55,67.20 L164.60,69.31 L163.65,71.44 L162.73,73.56 L161.81,75.70 L160.90,77.84 L160.01,79.99 L159.12,82.14 L158.25,84.30 L157.39,86.47 L156.54,88.64 L155.70,90.81 L154.86,92.99 L154.04,95.18 L153.23,97.37 L152.43,99.56 L151.63,101.76 L150.85,103.97 L150.07,106.17 L149.30,108.38 L148.54,110.60 L147.79,112.82 L147.04,115.04 L146.31,117.26 L145.58,119.49 L144.85,121.72 L144.13,123.96 L143.42,126.19 L142.72,128.43 L142.03,130.68 L141.34,132.92 L140.66,135.17 L139.98,137.42 L139.31,139.67 L138.66,141.93 L138.00,144.18 L137.36,146.44 L136.72,148.71 L136.10,150.97 L135.48,153.24 L134.86,155.51 L134.26,157.78 L133.67,160.05 L133.08,162.33 L132.50,164.61 L131.93,166.89 L131.37,169.17 L130.82,171.45 L130.28,173.74 L129.74,176.03 L129.22,178.32 L128.70,180.61 L128.20,182.90 L127.70,185.20 L127.22,187.49 L126.74,189.79 L126.27,192.09 L125.82,194.39 L125.37,196.69 L124.93,199.00 L124.51,201.30 L124.09,203.61 L123.68,205.91 L123.29,208.22 L122.90,210.53 L122.53,212.84 L122.17,215.15 L121.82,217.47 L121.48,219.78 L121.15,222.09 L120.83,224.41 L120.52,226.72 L120.23,229.04 L119.94,231.36 L119.67,233.67 L119.41,235.99 L119.15,238.31 L118.91,240.63 L118.68,242.95 L118.46,245.27 L118.25,247.59 L118.04,249.90 L117.86,252.23 L117.69,254.55 L117.53,256.87 L117.37,259.19 L117.23,261.51 L117.09,263.84 L116.96,266.16 L116.84,268.48 L116.72,270.81 L116.61,273.13 L116.51,275.45 L116.42,277.78 L116.33,280.10 L116.25,282.42 L116.17,284.75 L116.10,287.07 L116.04,289.40 L115.98,291.72 L115.93,294.05 L115.88,296.38 L115.83,298.70 L115.80,301.03 L115.76,303.35 L115.73,305.68 L115.70,308.01 L115.68,310.33 L115.66,312.66 L115.64,314.99 L115.63,317.31 L115.62,319.64 L115.61,321.97 L115.61,324.30 L115.60,326.62 L115.60,328.95 L115.60,331.28 L115.60,333.61 L115.60,335.94 L115.61,338.27 L115.61,340.60 L115.62,342.92 L115.62,345.25 L115.63,347.58 L115.63,349.91 L115.64,352.24 L115.64,354.57 L115.65,356.90 L115.65,359.23 L115.65,361.56 L115.65,363.89 L115.65,366.22 L115.65,368.55 L115.64,370.88 L115.63,373.21 L115.62,375.54 L115.61,377.87 L115.60,380.21 L115.58,382.54 L115.57,384.87 L115.55,387.20 L115.53,389.54 L115.50,391.87 L115.48,394.20 L115.45,396.54 L115.42,398.87 L115.39,401.21 L115.36,403.54 L115.33,405.88 L115.30,408.21 L115.26,410.55 L115.23,412.89 L115.19,415.22 L115.15,417.56 L115.11,419.90 L115.07,422.23 L115.03,424.57 L114.99,426.91 L114.94,429.25 L114.90,431.58 L114.85,433.92 L114.81,436.26 L114.76,438.60 L114.71,440.94 L114.67,443.28 L114.62,445.62 L114.57,447.96 L114.52,450.30 L114.47,452.64 L114.42,454.98 L114.37,457.32 L114.32,459.66 L114.27,462.00 L114.22,464.34 L114.16,466.68 L114.11,469.02 L114.06,471.36 L114.01,473.70 L113.96,476.04 L113.91,478.38 L113.86,480.72 L113.81,483.06 L113.76,485.40 L113.71,487.74 L113.66,490.09 L113.61,492.43 L113.56,494.77 L113.51,497.11 L113.47,499.45 L113.42,501.79 L113.37,504.13 L113.33,506.48 L113.28,508.82 L113.24,511.16 L113.20,513.50 L113.16,515.84 L113.12,518.18 L113.08,520.53 L113.04,522.87 L113.00,525.21 L112.96,527.55 L112.93,529.89 L112.90,532.23 L112.86,534.57 L112.83,536.91 L112.81,539.25 L112.78,541.60 L112.75,543.94 L112.73,546.28 L112.71,548.62 L112.68,550.96 L112.67,553.30 L112.65,555.64 L112.63,557.98 L112.62,560.32 L112.61,562.66 L112.60,565.00 L112.59,567.34 L112.59,569.68 L112.58,572.02 L112.58,574.35 L112.58,576.69 L112.59,579.03 L112.60,581.37 L112.60,583.71 L112.62,586.05 L112.63,588.38 L112.65,590.72 L112.67,593.06 L112.69,595.40 L112.71,597.73 L112.74,600.07 L112.77,602.40 L112.80,604.74 L112.84,607.08 L112.88,609.41 L112.92,611.75 L112.97,614.08 L113.01,616.42 L113.07,618.75 L113.12,621.08 L113.18,623.42 L113.24,625.75 L113.31,628.08 L113.38,630.42 L113.45,632.75 L113.52,635.08 L113.60,637.41 L113.69,639.74 L113.77,642.08 L113.86,644.41 L113.96,646.74 L114.06,649.07 L114.17,651.40 L114.31,653.72 L114.44,656.05 L114.59,658.38 L114.73,660.70 L114.88,663.03 L115.03,665.35 L115.19,667.68 L115.35,670.00 L115.52,672.33 L115.69,674.65 L115.87,676.97 L116.05,679.29 L116.23,681.61 L116.42,683.94 L116.61,686.26 L116.81,688.57 L117.02,690.89 L117.22,693.21 L117.44,695.53 L117.65,697.85 L117.88,700.16 L118.11,702.48 L118.34,704.79 L118.58,707.11 L118.82,709.42 L119.07,711.73 L119.32,714.05 L119.58,716.36 L119.85,718.67 L120.12,720.98 L120.40,723.29 L120.68,725.60 L120.96,727.90 L121.26,730.21 L121.56,732.52 L121.86,734.82 L122.17,737.13 L122.49,739.43 L122.81,741.73 L123.13,744.04 L123.47,746.34 L123.81,748.64 L124.15,750.94 L124.51,753.24 L124.86,755.54 L125.23,757.83 L125.60,760.13 L125.95,762.43 L126.31,764.73 L126.67,767.03 L127.05,769.32 L127.42,771.62 L127.81,773.92 L128.20,776.21 L128.59,778.50 L129.00,780.80 L129.41,783.09 L129.82,785.38 L130.25,787.67 L130.68,789.96 L131.11,792.25 L131.55,794.54 L132.00,796.83 L132.45,799.12 L132.91,801.41 L133.37,803.69 L133.84,805.98 L134.32,808.26 L134.80,810.55 L135.29,812.83 L135.78,815.12 L136.28,817.40 L136.79,819.68 L137.30,821.96 L137.81,824.24 L138.33,826.52 L138.86,828.80 L139.39,831.08 L139.93,833.36 L140.47,835.64 L141.01,837.92 L141.57,840.20 L142.12,842.47 L142.68,844.75 L143.25,847.03 L143.82,849.30 L144.40,851.58 L144.98,853.85 L145.56,856.13 L146.15,858.40 L146.75,860.68 L147.35,862.95 L147.95,865.22 L148.56,867.50 L149.17,869.77 L149.79,872.04 L150.41,874.32 L151.03,876.59 L151.66,878.86 L152.30,881.13 L152.93,883.40 L153.57,885.67 L154.22,887.94 L154.87,890.21 L155.52,892.48 L156.18,894.75 L156.84,897.03 L157.51,899.30 L158.18,901.56 L158.86,903.83 L159.55,906.09 L160.26,908.35 L160.98,910.59 L161.72,912.83 L162.48,915.05 L163.26,917.27 L164.06,919.46 L164.89,921.64 L165.74,923.81 L166.63,925.95 L167.55,928.07 L168.50,930.17 L169.49,932.25 L170.52,934.29 L171.59,936.31 L172.70,938.30 L173.85,940.26 L175.06,942.18 L176.31,944.07 L177.64,945.91 L179.03,947.70 L180.49,949.44 L182.04,951.10 L183.67,952.70 L185.39,954.21 L187.19,955.64 L189.07,957.00 L191.03,958.28 L193.05,959.48 L195.15,960.60 L197.31,961.64 L199.53,962.61 L201.81,963.51 L204.14,964.32 L206.51,965.06 L208.93,965.72 L211.38,966.30 L213.86,966.81 L216.38,967.24 L218.91,967.59 L221.47,967.87 L224.04,968.07 L226.62,968.19 L229.21,968.23 L231.79,968.19 L234.40,968.43 L236.98,968.24 L239.56,967.97 L242.11,967.61 L244.65,967.18 L247.16,966.67 L249.63,966.08 L252.08,965.41 L254.48,964.66 L256.84,963.83 L259.15,962.91 L261.40,961.91 L263.60,960.83 L265.74,959.67 L267.81,958.43 L269.80,957.10 L271.72,955.68 L273.56,954.18 L275.31,952.60 L276.96,950.93 L278.53,949.20 L280.00,947.40 L281.41,945.54 L282.74,943.64 L284.00,941.70 L285.22,939.73 L286.38,937.73 L287.50,935.71 L288.57,933.65 L289.61,931.58 L290.60,929.48 L291.56,927.36 L292.48,925.22 L293.37,923.06 L294.23,920.88 L295.05,918.69 L295.86,916.48 L296.63,914.26 L297.39,912.03 L298.12,909.79 L298.84,907.54 L299.54,905.29 L300.23,903.03 L300.90,900.77 L301.56,898.50 L302.22,896.23 L302.87,893.97 L303.52,891.70 L304.16,889.43 L304.79,887.16 L305.42,884.89 L306.05,882.62 L306.66,880.35 L307.28,878.08 L307.89,875.81 L308.49,873.54 L309.09,871.26 L309.68,868.99 L310.27,866.71 L310.85,864.44 L311.43,862.16 L312.01,859.88 L312.57,857.61 L313.14,855.33 L313.69,853.05 L314.24,850.77 L314.79,848.49 L315.33,846.21 L315.87,843.93 L316.40,841.65 L316.93,839.36 L317.45,837.08 L317.96,834.79 L318.48,832.51 L318.98,830.22 L319.48,827.94 L319.98,825.65 L320.47,823.36 L320.95,821.08 L321.43,818.79 L321.91,816.50 L322.37,814.21 L322.84,811.92 L323.30,809.63 L323.75,807.34 L324.20,805.04 L324.64,802.75 L325.08,800.46 L325.51,798.16 L325.94,795.87 L326.36,793.57 L326.78,791.27 L327.19,788.98 L327.60,786.68 L328.00,784.38 L328.40,782.08 L328.79,779.78 L329.18,777.48 L329.56,775.18 L329.93,772.88 L330.31,770.58 L330.67,768.28 L331.03,765.98 L331.39,763.67 L331.74,761.37 L332.09,759.06 L332.45,756.76 L332.80,754.46 L333.15,752.15 L333.49,749.85 L333.83,747.54 L334.17,745.24 L334.49,742.93 L334.82,740.63 L335.14,738.32 L335.45,736.01 L335.76,733.70 L336.07,731.39 L336.37,729.08 L336.66,726.77 L336.96,724.46 L337.24,722.15 L337.53,719.84 L337.81,717.52 L338.08,715.21 L338.35,712.90 L338.62,710.58 L338.88,708.27 L339.13,705.95 L339.39,703.64 L339.64,701.32 L339.88,699.00 L340.12,696.68 L340.36,694.37 L340.59,692.05 L340.82,689.73 L341.05,687.41 L341.27,685.09 L341.49,682.77 L341.70,680.45 L341.91,678.13 L342.12,675.81 L342.32,673.48 L342.52,671.16 L342.71,668.84 L342.91,666.52 L343.09,664.19 L343.28,661.87 L343.46,659.54 L343.64,657.22 L343.81,654.89 L343.98,652.57 L344.15,650.24 L344.30,647.91 L344.44,645.59 L344.58,643.26 L344.72,640.93 L344.85,638.60 L344.98,636.27 L345.11,633.94 L345.23,631.61 L345.35,629.28 L345.47,626.95 L345.59,624.62 L345.70,622.29 L345.81,619.96 L345.92,617.63 L346.02,615.30 L346.12,612.96 L346.22,610.63 L346.32,608.30 L346.41,605.97 L346.50,603.63 L346.59,601.30 L346.68,598.97 L346.76,596.63 L346.84,594.30 L346.92,591.97 L347.00,589.63 L347.07,587.30 L347.14,584.96 L347.21,582.63 L347.28,580.29 L347.35,577.96 L347.41,575.62 L347.47,573.29 L347.53,570.95 L347.59,568.62 L347.64,566.28 L347.70,563.94 L347.75,561.61 L347.80,559.27 L347.85,556.93 L347.89,554.60 L347.94,552.26 L347.98,549.92 L348.02,547.59 L348.06,545.25 L348.10,542.91 L348.13,540.57 L348.17,538.24 L348.20,535.90 L348.23,533.56 L348.27,531.22 L348.29,528.89 L348.32,526.55 L348.35,524.21 L348.37,521.87 L348.40,519.53 L348.42,517.19 L348.44,514.86 L348.46,512.52 L348.48,510.18 L348.50,507.84 L348.52,505.50 L348.54,503.16 L348.55,500.83 L348.57,498.49 L348.58,496.15 L348.60,493.81 L348.61,491.47 L348.62,489.13 L348.63,486.79 L348.64,484.46 L348.65,482.12 L348.66,479.78 L348.67,477.44 L348.68,475.10 L348.69,472.76 L348.70,470.42 L348.70,468.09 L348.71,465.75 L348.72,463.41 L348.72,461.07 L348.73,458.73 L348.74,456.39 L348.74,454.06 L348.75,451.72 L348.75,449.38 L348.76,447.04 L348.76,444.71 L348.77,442.37 L348.78,440.03 L348.78,437.69 L348.79,435.36 L348.79,433.02 L348.80,430.68 L348.81,428.34 L348.81,426.01 L348.82,423.67 L348.83,421.33 L348.84,419.00 L348.84,416.66 L348.85,414.32 L348.86,411.99 L348.87,409.65 L348.88,407.32 L348.89,404.98 L348.91,402.65 L348.92,400.31 L348.93,397.98 L348.95,395.64 L348.96,393.31 L348.98,390.97 L348.99,388.64 L349.01,386.30 L349.03,383.97 L349.05,381.63 L349.06,379.30 L349.08,376.96 L349.10,374.63 L349.12,372.30 L349.14,369.96 L349.16,367.63 L349.17,365.29 L349.19,362.96 L349.20,360.63 L349.22,358.29 L349.23,355.96 L349.24,353.62 L349.26,351.29 L349.26,348.96 L349.27,346.62 L349.28,344.29 L349.28,341.96 L349.28,339.62 L349.28,337.29 L349.28,334.96 L349.27,332.62 L349.27,330.29 L349.26,327.96 L349.24,325.63 L349.22,323.30 L349.20,320.96 L349.18,318.63 L349.15,316.30 L349.12,313.97 L349.09,311.64 L349.05,309.31 L349.01,306.98 L348.96,304.64 L348.91,302.31 L348.86,299.98 L348.80,297.65 L348.73,295.32 L348.66,293.00 L348.59,290.67 L348.51,288.34 L348.42,286.01 L348.33,283.68 L348.23,281.35 L348.13,279.02 L348.02,276.70 L347.91,274.37 L347.79,272.04 L347.66,269.72 L347.53,267.39 L347.39,265.06 L347.24,262.74 L347.09,260.41 L346.93,258.09 L346.76,255.76 L346.59,253.44 L346.41,251.12 L346.21,248.79 L345.99,246.47 L345.77,244.15 L345.54,241.83 L345.30,239.51 L345.05,237.19 L344.80,234.87 L344.53,232.55 L344.26,230.24 L343.98,227.92 L343.68,225.60 L343.38,223.29 L343.08,220.97 L342.76,218.66 L342.43,216.34 L342.09,214.03 L341.74,211.71 L341.38,209.40 L341.02,207.09 L340.64,204.78 L340.25,202.47 L339.85,200.16 L339.44,197.85 L339.03,195.55 L338.60,193.24 L338.16,190.94 L337.72,188.63 L337.26,186.33 L336.80,184.03 L336.33,181.73 L335.86,179.43 L335.37,177.14 L334.88,174.84 L334.38,172.55 L333.87,170.25 L333.36,167.96 L332.84,165.67 L332.32,163.38 L331.79,161.10 L331.26,158.81 L330.71,156.53 L330.17,154.24 L329.62,151.96 L329.07,149.68 L328.51,147.40 L327.94,145.13 L327.38,142.85 L326.81,140.58 L326.24,138.30 L325.66,136.03 L325.08,133.76 L324.50,131.50 L323.92,129.23 L323.34,126.97 L322.75,124.70 L322.16,122.44 L321.58,120.18 L320.99,117.93 L320.40,115.67 L319.80,113.41 L319.20,111.16 L318.59,108.91 L317.98,106.66 L317.36,104.41 L316.74,102.17 L316.10,99.93 L315.46,97.69 L314.80,95.46 L314.13,93.23 L313.45,91.00 L312.76,88.78 L312.05,86.57 L311.32,84.36 L310.58,82.15 L309.82,79.95 L309.04,77.76 L308.24,75.57 L307.43,73.39 L306.59,71.22 L305.73,69.05 L304.84,66.89 L303.94,64.74 L303.00,62.60 L302.04,60.46 L301.06,58.34 L300.04,56.22 L299.00,54.11 L297.93,52.01 L296.83,49.92 L295.69,47.84 L294.53,45.77 L293.33,43.71 L292.09,41.67 L290.82,39.63 L289.52,37.60 L288.19,35.58 L286.82,33.58 L285.41,31.59 L283.96,29.63 L282.47,27.69 L280.95,25.78 L279.40,23.91 L277.80,22.08 L276.17,20.29 L274.51,18.55 L272.81,16.86 L271.07,15.23 L269.30,13.66 L267.50,12.15 L265.66,10.72 L263.79,9.35 L261.88,8.07 L259.94,6.87 L257.96,5.76 L255.96,4.74 L253.91,3.81 L251.84,2.99 L249.73,2.28 L247.59,1.67 L245.42,1.18 L243.22,0.81 L240.99,0.57 L238.77,0.45 Z M238.65,2.76 L240.81,2.87 L242.90,3.10 L244.98,3.45 L247.02,3.91 L249.04,4.49 L251.04,5.17 L253.00,5.95 L254.94,6.84 L256.86,7.81 L258.75,8.88 L260.61,10.04 L262.44,11.28 L264.24,12.60 L266.01,13.99 L267.75,15.45 L269.47,16.98 L271.15,18.57 L272.79,20.22 L274.41,21.93 L276.00,23.68 L277.55,25.48 L279.06,27.32 L280.55,29.19 L281.99,31.10 L283.41,33.03 L284.79,34.99 L286.13,36.96 L287.43,38.95 L288.70,40.96 L289.92,42.98 L291.11,45.01 L292.27,47.05 L293.39,49.10 L294.48,51.16 L295.54,53.23 L296.57,55.31 L297.56,57.40 L298.54,59.50 L299.48,61.61 L300.40,63.73 L301.29,65.85 L302.15,67.99 L303.00,70.13 L303.82,72.28 L304.62,74.44 L305.39,76.60 L306.15,78.78 L306.89,80.95 L307.61,83.14 L308.31,85.33 L309.00,87.53 L309.67,89.74 L310.33,91.95 L310.97,94.16 L311.61,96.38 L312.23,98.61 L312.84,100.84 L313.44,103.07 L314.03,105.31 L314.61,107.56 L315.19,109.80 L315.76,112.05 L316.32,114.31 L316.88,116.57 L317.44,118.83 L318.00,121.09 L318.55,123.35 L319.11,125.62 L319.66,127.89 L320.21,130.16 L320.76,132.43 L321.31,134.70 L321.85,136.97 L322.39,139.25 L322.93,141.52 L323.47,143.80 L324.00,146.07 L324.53,148.35 L325.05,150.63 L325.57,152.91 L326.08,155.19 L326.60,157.47 L327.10,159.76 L327.60,162.04 L328.10,164.33 L328.58,166.61 L329.07,168.90 L329.54,171.18 L330.01,173.47 L330.48,175.76 L330.93,178.05 L331.38,180.34 L331.82,182.63 L332.26,184.92 L332.68,187.21 L333.10,189.50 L333.51,191.79 L333.91,194.09 L334.30,196.38 L334.68,198.67 L335.05,200.96 L335.41,203.26 L335.76,205.55 L336.10,207.85 L336.43,210.14 L336.75,212.44 L337.07,214.74 L337.37,217.03 L337.66,219.33 L337.94,221.63 L338.21,223.93 L338.48,226.23 L338.73,228.53 L338.98,230.83 L339.22,233.13 L339.44,235.43 L339.67,237.74 L339.88,240.04 L340.08,242.34 L340.28,244.65 L340.46,246.95 L340.64,249.26 L340.83,251.56 L341.01,253.87 L341.18,256.18 L341.35,258.48 L341.51,260.79 L341.67,263.10 L341.82,265.41 L341.96,267.72 L342.09,270.03 L342.22,272.34 L342.34,274.65 L342.46,276.97 L342.57,279.28 L342.67,281.59 L342.77,283.91 L342.86,286.22 L342.95,288.54 L343.03,290.85 L343.11,293.17 L343.18,295.49 L343.25,297.81 L343.31,300.12 L343.36,302.44 L343.42,304.76 L343.47,307.08 L343.51,309.40 L343.55,311.73 L343.59,314.05 L343.62,316.37 L343.65,318.69 L343.68,321.02 L343.70,323.34 L343.72,325.67 L343.73,327.99 L343.75,330.32 L343.76,332.64 L343.77,334.97 L343.77,337.30 L343.77,339.62 L343.77,341.95 L343.77,344.28 L343.77,346.61 L343.76,348.94 L343.76,351.27 L343.75,353.60 L343.74,355.93 L343.73,358.26 L343.71,360.59 L343.70,362.92 L343.69,365.26 L343.67,367.59 L343.66,369.92 L343.64,372.26 L343.63,374.59 L343.61,376.92 L343.59,379.26 L343.58,381.59 L343.56,383.93 L343.55,386.26 L343.53,388.60 L343.52,390.94 L343.50,393.27 L343.49,395.61 L343.48,397.95 L343.47,400.28 L343.46,402.62 L343.45,404.96 L343.44,407.29 L343.43,409.63 L343.42,411.97 L343.42,414.31 L343.41,416.64 L343.40,418.98 L343.40,421.32 L343.39,423.66 L343.39,425.99 L343.38,428.33 L343.38,430.67 L343.38,433.01 L343.37,435.34 L343.37,437.68 L343.37,440.02 L343.36,442.36 L343.36,444.70 L343.36,447.03 L343.35,449.37 L343.35,451.71 L343.35,454.05 L343.34,456.38 L343.34,458.72 L343.34,461.06 L343.33,463.40 L343.33,465.73 L343.32,468.07 L343.32,470.41 L343.31,472.75 L343.31,475.09 L343.30,477.42 L343.29,479.76 L343.29,482.10 L343.28,484.43 L343.27,486.77 L343.26,489.11 L343.25,491.45 L343.24,493.78 L343.23,496.12 L343.22,498.46 L343.21,500.79 L343.19,503.13 L343.18,505.47 L343.16,507.80 L343.15,510.14 L343.13,512.47 L343.11,514.81 L343.09,517.15 L343.07,519.48 L343.05,521.82 L343.02,524.15 L343.00,526.49 L342.97,528.82 L342.95,531.16 L342.92,533.49 L342.89,535.83 L342.86,538.16 L342.83,540.50 L342.79,542.83 L342.76,545.16 L342.72,547.50 L342.68,549.83 L342.64,552.16 L342.60,554.50 L342.55,556.83 L342.51,559.16 L342.46,561.49 L342.41,563.83 L342.36,566.16 L342.31,568.49 L342.25,570.82 L342.20,573.15 L342.14,575.48 L342.08,577.81 L342.01,580.15 L341.95,582.48 L341.88,584.81 L341.81,587.13 L341.74,589.46 L341.66,591.79 L341.59,594.12 L341.51,596.45 L341.43,598.78 L341.34,601.11 L341.26,603.43 L341.17,605.76 L341.08,608.09 L340.99,610.42 L340.89,612.74 L340.79,615.07 L340.69,617.39 L340.58,619.72 L340.48,622.04 L340.37,624.37 L340.25,626.69 L340.14,629.02 L340.02,631.34 L339.90,633.66 L339.77,635.99 L339.65,638.31 L339.52,640.63 L339.38,642.95 L339.25,645.27 L339.11,647.59 L338.96,649.92 L338.84,652.24 L338.71,654.56 L338.57,656.88 L338.43,659.20 L338.29,661.52 L338.15,663.84 L338.00,666.16 L337.85,668.48 L337.69,670.79 L337.54,673.11 L337.37,675.43 L337.21,677.75 L337.04,680.06 L336.87,682.38 L336.69,684.70 L336.51,687.01 L336.32,689.33 L336.13,691.64 L335.94,693.96 L335.75,696.27 L335.54,698.58 L335.34,700.90 L335.13,703.21 L334.92,705.52 L334.70,707.84 L334.48,710.15 L334.26,712.46 L334.03,714.77 L333.79,717.08 L333.55,719.39 L333.31,721.70 L333.07,724.01 L332.81,726.31 L332.56,728.62 L332.30,730.93 L332.03,733.24 L331.76,735.54 L331.49,737.85 L331.21,740.15 L330.93,742.46 L330.64,744.76 L330.34,747.07 L330.05,749.37 L329.74,751.67 L329.44,753.98 L329.12,756.28 L328.81,758.58 L328.47,760.88 L328.13,763.18 L327.78,765.47 L327.42,767.77 L327.06,770.06 L326.70,772.36 L326.32,774.65 L325.95,776.95 L325.57,779.24 L325.18,781.53 L324.79,783.83 L324.39,786.12 L323.99,788.41 L323.58,790.70 L323.17,792.99 L322.75,795.28 L322.33,797.57 L321.90,799.85 L321.46,802.14 L321.03,804.43 L320.58,806.71 L320.13,809.00 L319.68,811.28 L319.22,813.57 L318.76,815.85 L318.29,818.13 L317.81,820.42 L317.33,822.70 L316.85,824.98 L316.36,827.26 L315.86,829.54 L315.36,831.82 L314.85,834.10 L314.34,836.38 L313.83,838.65 L313.30,840.93 L312.78,843.21 L312.25,845.48 L311.71,847.76 L311.17,850.03 L310.62,852.30 L310.07,854.58 L309.51,856.85 L308.95,859.12 L308.38,861.39 L307.81,863.66 L307.23,865.93 L306.65,868.20 L306.06,870.47 L305.46,872.74 L304.87,875.00 L304.26,877.27 L303.65,879.54 L303.04,881.80 L302.42,884.07 L301.79,886.33 L301.16,888.59 L300.53,890.86 L299.89,893.12 L299.25,895.38 L298.59,897.64 L297.94,899.89 L297.27,902.14 L296.59,904.39 L295.90,906.62 L295.20,908.85 L294.47,911.06 L293.73,913.26 L292.97,915.45 L292.18,917.62 L291.37,919.78 L290.53,921.92 L289.66,924.03 L288.77,926.13 L287.84,928.20 L286.87,930.25 L285.87,932.27 L284.82,934.27 L283.74,936.24 L282.62,938.17 L281.45,940.08 L280.23,941.95 L278.96,943.76 L277.63,945.53 L276.24,947.23 L274.77,948.86 L273.22,950.42 L271.59,951.90 L269.88,953.31 L268.08,954.64 L266.20,955.89 L264.25,957.07 L262.22,958.17 L260.14,959.19 L257.99,960.14 L255.79,961.02 L253.53,961.81 L251.23,962.53 L248.89,963.18 L246.51,963.74 L244.10,964.23 L241.66,964.65 L239.20,964.99 L236.71,965.25 L234.22,965.44 L231.73,965.90 L229.21,965.93 L226.69,965.89 L224.18,965.77 L221.68,965.58 L219.20,965.31 L216.73,964.97 L214.29,964.55 L211.88,964.06 L209.50,963.49 L207.16,962.85 L204.86,962.14 L202.61,961.35 L200.41,960.49 L198.27,959.55 L196.19,958.55 L194.18,957.47 L192.24,956.32 L190.37,955.10 L188.58,953.81 L186.87,952.45 L185.24,951.01 L183.68,949.50 L182.21,947.91 L180.81,946.26 L179.48,944.54 L178.21,942.76 L176.99,940.94 L175.82,939.07 L174.69,937.16 L173.61,935.21 L172.56,933.24 L171.56,931.24 L170.59,929.20 L169.65,927.14 L168.75,925.05 L167.88,922.95 L167.03,920.81 L166.21,918.66 L165.42,916.49 L164.65,914.30 L163.90,912.10 L163.17,909.88 L162.45,907.65 L161.75,905.41 L161.06,903.16 L160.38,900.91 L159.71,898.65 L159.05,896.38 L158.39,894.11 L157.73,891.85 L157.08,889.58 L156.43,887.31 L155.79,885.05 L155.15,882.78 L154.51,880.51 L153.88,878.24 L153.25,875.98 L152.63,873.71 L152.01,871.44 L151.39,869.17 L150.78,866.90 L150.17,864.63 L149.57,862.36 L148.97,860.09 L148.38,857.82 L147.79,855.55 L147.21,853.28 L146.63,851.01 L146.05,848.74 L145.48,846.47 L144.92,844.20 L144.36,841.93 L143.80,839.65 L143.25,837.38 L142.70,835.11 L142.16,832.83 L141.63,830.56 L141.10,828.28 L140.57,826.01 L140.05,823.73 L139.54,821.46 L139.03,819.18 L138.53,816.90 L138.03,814.63 L137.54,812.35 L137.05,810.07 L136.57,807.79 L136.10,805.51 L135.63,803.23 L135.16,800.95 L134.71,798.67 L134.25,796.39 L133.81,794.11 L133.37,791.82 L132.94,789.54 L132.51,787.25 L132.09,784.97 L131.67,782.68 L131.26,780.40 L130.86,778.11 L130.46,775.82 L130.08,773.53 L129.69,771.24 L129.32,768.95 L128.95,766.66 L128.58,764.37 L128.23,762.08 L127.88,759.79 L127.56,757.49 L127.25,755.19 L126.94,752.89 L126.64,750.59 L126.35,748.29 L126.06,745.99 L125.78,743.69 L125.50,741.39 L125.23,739.08 L124.97,736.78 L124.71,734.48 L124.46,732.17 L124.22,729.87 L123.98,727.56 L123.74,725.25 L123.52,722.95 L123.29,720.64 L123.07,718.33 L122.86,716.02 L122.66,713.71 L122.46,711.40 L122.26,709.09 L122.07,706.78 L121.88,704.47 L121.70,702.16 L121.53,699.85 L121.36,697.54 L121.19,695.22 L121.03,692.91 L120.88,690.59 L120.73,688.28 L120.58,685.96 L120.44,683.65 L120.31,681.33 L120.17,679.02 L120.05,676.70 L119.92,674.38 L119.81,672.06 L119.69,669.75 L119.58,667.43 L119.48,665.11 L119.38,662.79 L119.28,660.47 L119.19,658.15 L119.10,655.83 L119.02,653.50 L118.94,651.18 L118.85,648.86 L118.76,646.54 L118.66,644.22 L118.57,641.89 L118.48,639.57 L118.40,637.25 L118.32,634.92 L118.25,632.60 L118.17,630.27 L118.11,627.95 L118.04,625.62 L117.98,623.29 L117.92,620.97 L117.87,618.64 L117.81,616.31 L117.77,613.99 L117.72,611.66 L117.68,609.33 L117.64,607.00 L117.60,604.67 L117.57,602.34 L117.54,600.01 L117.51,597.68 L117.49,595.35 L117.46,593.02 L117.45,590.68 L117.43,588.35 L117.42,586.02 L117.40,583.69 L117.40,581.35 L117.39,579.02 L117.38,576.69 L117.38,574.35 L117.38,572.02 L117.39,569.68 L117.39,567.35 L117.40,565.01 L117.41,562.68 L117.42,560.34 L117.43,558.01 L117.45,555.67 L117.47,553.33 L117.48,551.00 L117.50,548.66 L117.53,546.32 L117.55,543.99 L117.58,541.65 L117.61,539.31 L117.63,536.97 L117.66,534.64 L117.70,532.30 L117.73,529.96 L117.76,527.62 L117.80,525.28 L117.84,522.94 L117.88,520.60 L117.91,518.27 L117.96,515.93 L118.00,513.59 L118.04,511.25 L118.08,508.91 L118.13,506.57 L118.17,504.23 L118.22,501.89 L118.26,499.55 L118.31,497.21 L118.36,494.87 L118.41,492.53 L118.46,490.19 L118.51,487.85 L118.56,485.51 L118.61,483.17 L118.66,480.83 L118.71,478.48 L118.76,476.14 L118.81,473.80 L118.86,471.46 L118.91,469.12 L118.96,466.78 L119.02,464.44 L119.07,462.10 L119.12,459.76 L119.17,457.42 L119.22,455.08 L119.27,452.74 L119.32,450.40 L119.37,448.06 L119.42,445.72 L119.47,443.38 L119.51,441.04 L119.56,438.70 L119.61,436.36 L119.65,434.02 L119.70,431.68 L119.74,429.34 L119.79,427.00 L119.83,424.66 L119.87,422.32 L119.91,419.98 L119.95,417.64 L119.99,415.30 L120.03,412.96 L120.06,410.62 L120.10,408.28 L120.13,405.95 L120.16,403.61 L120.19,401.27 L120.22,398.93 L120.25,396.59 L120.28,394.26 L120.30,391.92 L120.32,389.58 L120.35,387.25 L120.37,384.91 L120.38,382.57 L120.40,380.24 L120.41,377.90 L120.42,375.57 L120.43,373.23 L120.44,370.89 L120.45,368.56 L120.45,366.23 L120.45,363.89 L120.45,361.56 L120.45,359.23 L120.45,356.89 L120.44,354.56 L120.44,352.23 L120.43,349.90 L120.43,347.57 L120.42,345.24 L120.42,342.91 L120.41,340.59 L120.41,338.26 L120.40,335.93 L120.40,333.61 L120.40,331.28 L120.40,328.95 L120.40,326.63 L120.41,324.31 L120.41,321.98 L120.42,319.66 L120.43,317.34 L120.44,315.02 L120.46,312.70 L120.48,310.38 L120.50,308.06 L120.53,305.74 L120.56,303.42 L120.59,301.10 L120.63,298.79 L120.68,296.47 L120.73,294.15 L120.78,291.84 L120.84,289.53 L120.90,287.21 L120.97,284.90 L121.04,282.59 L121.13,280.28 L121.21,277.96 L121.31,275.65 L121.41,273.34 L121.52,271.04 L121.63,268.73 L121.75,266.42 L121.88,264.11 L122.02,261.81 L122.16,259.50 L122.32,257.20 L122.48,254.89 L122.65,252.59 L122.83,250.29 L123.01,247.98 L123.19,245.68 L123.39,243.38 L123.59,241.08 L123.81,238.78 L124.03,236.48 L124.27,234.18 L124.51,231.88 L124.77,229.58 L125.04,227.29 L125.31,224.99 L125.60,222.69 L125.91,220.40 L126.22,218.10 L126.54,215.80 L126.88,213.51 L127.22,211.22 L127.58,208.92 L127.95,206.63 L128.32,204.34 L128.71,202.05 L129.11,199.75 L129.52,197.46 L129.94,195.18 L130.37,192.89 L130.80,190.60 L131.25,188.32 L131.71,186.03 L132.18,183.75 L132.66,181.47 L133.14,179.19 L133.64,176.91 L134.15,174.63 L134.66,172.35 L135.18,170.08 L135.72,167.80 L136.26,165.53 L136.81,163.26 L137.37,160.99 L137.94,158.73 L138.51,156.46 L139.10,154.20 L139.69,151.94 L140.29,149.68 L140.90,147.42 L141.51,145.17 L142.14,142.92 L142.77,140.67 L143.41,138.42 L144.06,136.17 L144.71,133.93 L145.37,131.69 L146.04,129.45 L146.72,127.22 L147.40,124.98 L148.09,122.75 L148.79,120.52 L149.49,118.30 L150.21,116.08 L150.92,113.86 L151.65,111.64 L152.38,109.43 L153.13,107.22 L153.88,105.02 L154.63,102.82 L155.40,100.63 L156.18,98.44 L156.96,96.25 L157.76,94.07 L158.56,91.90 L159.37,89.73 L160.20,87.56 L161.03,85.40 L161.88,83.25 L162.73,81.10 L163.60,78.96 L164.48,76.82 L165.37,74.69 L166.27,72.57 L167.18,70.46 L168.11,68.35 L169.05,66.24 L170.00,64.15 L170.96,62.06 L171.94,59.98 L172.93,57.91 L173.93,55.85 L174.95,53.79 L175.98,51.74 L177.02,49.70 L178.08,47.67 L179.16,45.66 L180.26,43.66 L181.39,41.68 L182.56,39.72 L183.75,37.78 L184.99,35.86 L186.27,33.98 L187.59,32.11 L188.97,30.28 L190.39,28.48 L191.88,26.71 L193.42,24.98 L195.03,23.28 L196.71,21.62 L198.46,20.00 L200.27,18.43 L202.15,16.90 L204.09,15.43 L206.08,14.01 L208.12,12.66 L210.20,11.37 L212.31,10.16 L214.46,9.02 L216.63,7.96 L218.83,6.99 L221.04,6.10 L223.26,5.31 L225.49,4.62 L227.72,4.03 L229.95,3.55 L232.16,3.17 L234.36,2.92 L236.53,2.78 L238.72,2.76 Z" fill="url(#rimR)" fill-rule="evenodd" clip-path="url(#clipR)"/>
<path d="M156.65,741.96 L156.18,740.55 L155.73,739.13 L155.28,737.71 L154.84,736.29 L154.40,734.87 L153.97,733.45 L153.55,732.03 L153.13,730.60 L152.72,729.18 L152.32,727.76 L151.92,726.33 L151.53,724.91 L151.14,723.48 L150.77,722.05 L150.39,720.62 L150.03,719.19 L149.66,717.76 L149.31,716.33 L148.96,714.90 L148.62,713.47 L148.28,712.04 L147.95,710.61 L147.62,709.17 L147.30,707.74 L146.98,706.30 L146.67,704.87 L146.36,703.43 L146.06,701.99 L145.77,700.56 L145.48,699.12 L145.19,697.68 L144.91,696.24 L144.64,694.80 L144.37,693.36 L144.10,691.92 L143.84,690.47 L143.59,689.03 L143.33,687.59 L143.09,686.15 L142.84,684.70 L142.61,683.26 L142.37,681.81 L142.14,680.36 L141.92,678.92 L141.70,677.47 L141.48,676.02 L141.27,674.58 L141.06,673.13 L140.85,671.68 L140.65,670.23 L140.46,668.78 L140.26,667.33 L140.07,665.88 L139.89,664.43 L139.70,662.98 L139.52,661.52 L139.35,660.07 L139.18,658.62 L139.01,657.17 L138.84,655.71 L138.68,654.26 L138.52,652.80 L138.36,651.35 L138.21,649.89 L138.06,648.44 L137.91,646.98 L137.77,645.52 L137.63,644.07 L137.49,642.61 L137.35,641.15 L137.22,639.70 L137.08,638.24 L136.95,636.78 L136.83,635.32 L136.70,633.86 L136.58,632.40 L136.46,630.94 L136.34,629.49 L136.23,628.03 L136.11,626.57 L136.00,625.10 L135.89,623.64 L135.79,622.18 L135.68,620.72 L135.57,619.26 L135.47,617.80 L135.37,616.34 L135.27,614.88 L135.17,613.41 L135.08,611.95 L134.98,610.49 L134.89,609.03 L134.79,607.57 L134.70,606.10 L134.61,604.64 L134.52,603.18 L134.43,601.71 L134.34,600.25 L134.26,598.79 L134.17,597.32 L134.09,595.86 L134.00,594.40 L133.92,592.93 L133.83,591.47 L133.75,590.01 L133.67,588.54 L133.59,587.08 L133.50,585.62 L133.42,584.15 L133.34,582.69 L133.26,581.22 L133.18,579.76 L133.10,578.30 L133.01,576.83 L132.93,575.37 L132.85,573.91 L132.77,572.44 L132.69,570.98 L132.60,569.51 L132.52,568.05 L132.44,566.59 L132.35,565.12 L132.27,563.66 L132.18,562.20 L132.10,560.73 L132.01,559.27 L131.92,557.81 L131.83,556.35 L131.74,554.88 L131.65,553.42 L131.56,551.96 L131.47,550.50 L131.38,549.03 L131.29,547.57 L131.20,546.11 L131.11,544.65 L131.02,543.19 L130.93,541.72 L130.84,540.26 L130.74,538.80 L130.65,537.34 L130.56,535.88 L130.47,534.41 L130.38,532.95 L130.29,531.49 L130.20,530.03 L130.11,528.57 L130.02,527.11 L129.93,525.64 L129.85,524.18 L129.76,522.72 L129.67,521.26 L129.59,519.80 L129.50,518.33 L129.42,516.87 L129.34,515.41 L129.26,513.95 L129.18,512.49 L129.10,511.03 L129.02,509.56 L128.94,508.10 L128.87,506.64 L128.79,505.18 L128.72,503.72 L128.65,502.25 L128.58,500.79 L128.51,499.33 L128.44,497.87 L128.38,496.40 L128.32,494.94 L128.25,493.48 L128.19,492.02 L128.14,490.55 L128.08,489.09 L128.03,487.63 L127.98,486.17 L127.93,484.70 L127.88,483.24 L127.84,481.78 L127.79,480.31 L127.75,478.85 L127.72,477.38 L127.68,475.92 L127.65,474.46 L127.62,472.99 L127.59,471.53 L127.57,470.06 L127.55,468.60 L127.53,467.13 L127.51,465.67 L127.50,464.20 L127.49,462.74 L127.48,461.27 L127.48,459.81 L127.48,458.34 L127.48,456.88 L127.49,455.41 L127.50,453.94 L127.51,452.48 L127.53,451.01 L127.55,449.54 L127.57,448.08 L127.60,446.61 L127.63,445.14 L127.66,443.67 L127.70,442.20 L127.74,440.74 L127.79,439.27 L127.84,437.80 L127.89,436.33 L127.95,434.86 L128.01,433.39 L128.08,431.92 L128.15,430.45 L128.23,428.98 L128.31,427.51 L128.39,426.04 L128.48,424.57 L128.57,423.10 L128.67,421.62 L128.77,420.15 L128.88,418.68 L128.99,417.21 L129.11,415.73 L129.23,414.26 L129.35,412.79 L129.49,411.31 L129.62,409.84 L129.76,408.36 L129.91,406.89 L130.06,405.41 L130.22,403.94 L130.38,402.46 L130.55,400.99 L130.72,399.51 L130.90,398.03 L131.09,396.56 L131.28,395.08 L131.48,393.60 L131.68,392.13 L131.89,390.65 L132.11,389.18 L132.33,387.70 L132.57,386.23 L132.81,384.76 L133.06,383.30 L133.32,381.83 L133.58,380.37 L133.86,378.91 L134.15,377.45 L134.44,376.00 L134.75,374.55 L135.07,373.10 L135.39,371.66 L135.73,370.22 L136.08,368.79 L136.44,367.36 L136.81,365.94 L137.20,364.52 L137.60,363.10 L138.01,361.70 L138.43,360.30 L138.87,358.90 L139.32,357.51 L139.78,356.13 L140.26,354.76 L140.75,353.39 L141.26,352.03 L141.78,350.68 L142.32,349.33 L142.87,348.00 L143.44,346.67 L144.03,345.35 L144.63,344.04 L145.25,342.74 L145.88,341.45 L146.54,340.17 L147.21,338.90 L147.90,337.63 L148.60,336.38 L149.33,335.14 L150.08,333.91 L150.84,332.70 L151.62,331.49 L152.43,330.29 L153.25,329.11 L154.09,327.94 L154.95,326.78 L155.83,325.63 L156.73,324.50 L157.64,323.38 L158.58,322.27 L159.53,321.18 L160.50,320.10 L161.48,319.03 L162.48,317.98 L163.50,316.94 L164.53,315.91 L165.58,314.90 L166.65,313.91 L167.73,312.93 L168.83,311.96 L169.94,311.02 L171.06,310.08 L172.20,309.16 L173.35,308.26 L174.52,307.38 L175.70,306.51 L176.89,305.66 L178.10,304.82 L179.32,304.00 L180.54,303.20 L181.79,302.42 L183.04,301.65 L184.30,300.90 L185.58,300.17 L186.87,299.46 L188.16,298.77 L189.47,298.09 L190.78,297.44 L192.11,296.80 L193.45,296.19 L194.79,295.59 L196.14,295.01 L197.50,294.45 L198.87,293.92 L200.25,293.40 L201.64,292.90 L203.03,292.43 L204.43,291.98 L205.83,291.54 L207.25,291.13 L208.66,290.74 L210.09,290.37 L211.52,290.03 L212.95,289.70 L214.39,289.40 L215.84,289.13 L217.29,288.87 L218.74,288.64 L220.20,288.43 L221.66,288.24 L223.12,288.08 L224.59,287.95 L226.06,287.83 L227.53,287.74 L229.01,287.68 L230.49,287.64 L231.96,287.62 L233.44,287.63 L234.92,287.67 L236.40,287.72 L237.88,287.81 L239.36,287.91 L240.84,288.04 L242.32,288.19 L243.80,288.37 L245.27,288.56 L246.74,288.78 L248.21,289.03 L249.68,289.29 L251.14,289.58 L252.60,289.89 L254.06,290.22 L255.51,290.57 L256.96,290.94 L258.40,291.34 L259.83,291.75 L261.26,292.19 L262.69,292.65 L264.10,293.12 L265.51,293.62 L266.92,294.14 L268.31,294.67 L269.70,295.23 L271.07,295.81 L272.44,296.40 L273.80,297.02 L275.15,297.65 L276.49,298.30 L277.82,298.97 L279.13,299.66 L280.44,300.37 L281.74,301.09 L283.02,301.84 L284.29,302.60 L285.55,303.37 L286.79,304.17 L288.02,304.98 L289.24,305.81 L290.45,306.65 L291.63,307.51 L292.81,308.39 L293.97,309.28 L295.11,310.19 L296.24,311.12 L297.35,312.06 L298.44,313.01 L299.52,313.98 L300.58,314.97 L301.62,315.97 L302.64,316.98 L303.64,318.01 L304.63,319.05 L305.59,320.11 L306.54,321.18 L307.46,322.26 L308.37,323.36 L309.25,324.47 L310.12,325.59 L310.96,326.73 L311.78,327.88 L312.57,329.04 L313.35,330.21 L314.11,331.40 L314.84,332.59 L315.56,333.80 L316.26,335.02 L316.93,336.25 L317.59,337.49 L318.23,338.74 L318.85,340.01 L319.45,341.28 L320.04,342.56 L320.60,343.85 L321.15,345.15 L321.68,346.47 L322.20,347.79 L322.69,349.12 L323.18,350.45 L323.64,351.80 L324.09,353.15 L324.53,354.52 L324.95,355.89 L325.35,357.27 L325.74,358.65 L326.12,360.05 L326.48,361.45 L326.83,362.85 L327.16,364.27 L327.48,365.69 L327.79,367.11 L328.09,368.55 L328.37,369.99 L328.64,371.43 L328.90,372.88 L329.15,374.33 L329.39,375.79 L329.62,377.26 L329.84,378.72 L330.04,380.20 L330.24,381.67 L330.43,383.15 L330.61,384.64 L330.77,386.13 L330.93,387.62 L331.09,389.11 L331.23,390.61 L331.37,392.11 L331.49,393.61 L331.61,395.11 L331.73,396.62 L331.84,398.13 L331.94,399.64 L332.03,401.15 L332.12,402.66 L332.20,404.17 L332.28,405.68 L332.35,407.20 L332.42,408.71 L332.49,410.23 L332.55,411.74 L332.60,413.25 L332.66,414.77 L332.71,416.28 L332.75,417.79 L332.80,419.30 L332.84,420.81 L332.88,422.32 L332.92,423.82 L332.95,425.33 L332.98,426.83 L333.01,428.33 L333.04,429.83 L333.07,431.33 L333.09,432.83 L333.12,434.32 L333.14,435.82 L333.16,437.31 L333.17,438.80 L333.19,440.29 L333.20,441.78 L333.21,443.27 L333.22,444.76 L333.23,446.24 L333.23,447.72 L333.23,449.21 L333.23,450.69 L333.23,452.17 L333.23,453.65 L333.23,455.13 L333.22,456.61 L333.21,458.08 L333.20,459.56 L333.19,461.03 L333.18,462.51 L333.16,463.98 L333.14,465.45 L333.12,466.92 L333.10,468.39 L333.08,469.86 L333.06,471.32 L333.03,472.79 L333.01,474.26 L332.98,475.72 L332.95,477.19 L332.91,478.65 L332.88,480.11 L332.85,481.57 L332.81,483.03 L332.77,484.49 L332.73,485.95 L332.69,487.41 L332.65,488.87 L332.60,490.33 L332.56,491.79 L332.51,493.24 L332.46,494.70 L332.41,496.15 L332.36,497.61 L332.31,499.06 L332.25,500.51 L332.20,501.97 L332.14,503.42 L332.08,504.87 L332.02,506.32 L331.96,507.77 L331.90,509.22 L331.84,510.67 L331.77,512.12 L331.71,513.57 L331.64,515.02 L331.57,516.47 L331.50,517.92 L331.43,519.37 L331.36,520.81 L331.29,522.26 L331.21,523.71 L331.14,525.16 L331.06,526.60 L330.98,528.05 L330.90,529.50 L330.82,530.94 L330.74,532.39 L330.66,533.83 L330.58,535.28 L330.50,536.73 L330.41,538.17 L330.33,539.62 L330.24,541.06 L330.15,542.51 L330.07,543.95 L329.98,545.40 L329.89,546.85 L329.80,548.29 L329.70,549.74 L329.61,551.18 L329.52,552.63 L329.42,554.08 L329.33,555.52 L329.23,556.97 L329.14,558.42 L329.04,559.86 L328.94,561.31 L328.84,562.76 L328.74,564.21 L328.64,565.66 L328.54,567.10 L328.44,568.55 L328.34,570.00 L328.24,571.45 L328.13,572.90 L328.03,574.35 L327.92,575.80 L327.82,577.25 L327.71,578.71 L327.61,580.16 L327.50,581.61 L327.39,583.06 L327.29,584.52 L327.18,585.97 L327.07,587.43 L326.96,588.88 L326.85,590.34 L326.74,591.80 L326.63,593.25 L326.52,594.71 L326.41,596.17 L326.30,597.63 L326.19,599.09 L326.08,600.55 L325.96,602.01 L325.85,603.47 L325.74,604.94 L325.63,606.40 L325.51,607.86 L325.40,609.33 L325.28,610.80 L325.17,612.26 L325.05,613.73 L324.93,615.20 L324.82,616.66 L324.70,618.13 L324.58,619.60 L324.45,621.07 L324.33,622.54 L324.21,624.01 L324.08,625.48 L323.95,626.95 L323.82,628.42 L323.69,629.89 L323.56,631.36 L323.43,632.83 L323.29,634.30 L323.15,635.77 L323.01,637.24 L322.87,638.71 L322.72,640.18 L322.58,641.65 L322.43,643.12 L322.28,644.59 L322.12,646.06 L321.96,647.53 L321.80,649.00 L321.64,650.47 L321.47,651.94 L321.30,653.41 L321.13,654.87 L320.96,656.34 L320.78,657.81 L320.60,659.27 L320.41,660.74 L320.22,662.20 L320.03,663.66 L319.83,665.13 L319.63,666.59 L319.43,668.05 L319.22,669.51 L319.01,670.97 L318.79,672.43 L318.57,673.88 L318.35,675.34 L318.12,676.79 L317.88,678.25 L317.65,679.70 L317.40,681.15 L317.16,682.60 L316.90,684.05 L316.65,685.50 L316.39,686.95 L316.12,688.39 L315.85,689.84 L315.57,691.28 L315.29,692.72 L315.00,694.16 L314.71,695.60 L314.41,697.04 L314.10,698.47 L313.79,699.90 L313.48,701.33 L313.16,702.76 L312.83,704.19 L312.50,705.62 L312.16,707.04 L311.81,708.47 L311.46,709.89 L311.10,711.30 L310.74,712.72 L310.37,714.14 L309.99,715.55 L309.60,716.96 L309.21,718.37 L308.82,719.77 L308.41,721.18 L308.00,722.58 L307.58,723.98 L307.15,725.37 L306.72,726.77 L306.28,728.16 L305.83,729.55 L305.38,730.94 L304.91,732.32 L304.44,733.71 L303.97,735.09 L303.48,736.46 L302.99,737.84 L302.48,739.21 L301.97,740.58 L301.45,741.94 L229.00,760.00 Z" fill="#e04f86"/>
<path d="M147.21,338.90 L147.90,337.63 L148.60,336.38 L149.33,335.14 L150.08,333.91 L150.84,332.70 L151.62,331.49 L152.43,330.29 L153.25,329.11 L154.09,327.94 L154.95,326.78 L155.83,325.63 L156.73,324.50 L157.64,323.38 L158.58,322.27 L159.53,321.18 L160.50,320.10 L161.48,319.03 L162.48,317.98 L163.50,316.94 L164.53,315.91 L165.58,314.90 L166.65,313.91 L167.73,312.93 L168.83,311.96 L169.94,311.02 L171.06,310.08 L172.20,309.16 L173.35,308.26 L174.52,307.38 L175.70,306.51 L176.89,305.66 L178.10,304.82 L179.32,304.00 L180.54,303.20 L181.79,302.42 L183.04,301.65 L184.30,300.90 L185.58,300.17 L186.87,299.46 L188.16,298.77 L189.47,298.09 L190.78,297.44 L192.11,296.80 L193.45,296.19 L194.79,295.59 L196.14,295.01 L197.50,294.45 L198.87,293.92 L200.25,293.40 L201.64,292.90 L203.03,292.43 L204.43,291.98 L205.83,291.54 L207.25,291.13 L208.66,290.74 L210.09,290.37 L211.52,290.03 L212.95,289.70 L214.39,289.40 L215.84,289.13 L217.29,288.87 L218.74,288.64 L220.20,288.43 L221.66,288.24 L223.12,288.08 L224.59,287.95 L226.06,287.83 L227.53,287.74 L229.01,287.68 L230.49,287.64 L231.96,287.62 L233.44,287.63 L234.92,287.67 L236.40,287.72 L237.88,287.81 L239.36,287.91 L240.84,288.04 L242.32,288.19 L243.80,288.37 L245.27,288.56 L246.74,288.78 L248.21,289.03 L249.68,289.29 L251.14,289.58 L252.60,289.89 L254.06,290.22 L255.51,290.57 L256.96,290.94 L258.40,291.34 L259.83,291.75 L261.26,292.19 L262.69,292.65 L264.10,293.12 L265.51,293.62 L266.92,294.14 L268.31,294.67 L269.70,295.23 L271.07,295.81 L272.44,296.40 L273.80,297.02 L275.15,297.65 L276.49,298.30 L277.82,298.97 L279.13,299.66 L280.44,300.37 L281.74,301.09 L283.02,301.84 L284.29,302.60 L285.55,303.37 L286.79,304.17 L288.02,304.98 L289.24,305.81 L290.45,306.65 L291.63,307.51 L292.81,308.39 L293.97,309.28 L295.11,310.19 L296.24,311.12 L297.35,312.06 L298.44,313.01 L299.52,313.98 L300.58,314.97 L301.62,315.97 L302.64,316.98 L303.64,318.01 L304.63,319.05 L305.59,320.11 L306.54,321.18 L307.46,322.26 L308.37,323.36 L309.25,324.47 L310.12,325.59 L310.96,326.73 L311.78,327.88 L312.57,329.04 L313.35,330.21 L314.11,331.40 L314.84,332.59 L315.56,333.80 L316.26,335.02 L316.93,336.25 L317.59,337.49 L316.82,338.87 L315.12,340.24 L313.44,341.64 L311.77,343.06 L310.11,344.49 L308.47,345.94 L306.84,347.41 L305.23,348.90 L303.64,350.41 L302.07,351.93 L300.51,353.48 L298.98,355.04 L297.46,356.62 L295.97,358.21 L294.50,359.82 L293.04,361.45 L291.62,363.10 L290.21,364.76 L288.83,366.45 L287.48,368.14 L286.15,369.86 L284.85,371.59 L283.57,373.33 L282.33,375.09 L281.11,376.87 L279.92,378.67 L278.76,380.48 L277.63,382.30 L276.53,384.14 L275.46,386.00 L274.43,387.87 L273.43,389.75 L272.46,391.65 L271.53,393.57 L270.64,395.50 L269.78,397.44 L268.96,399.40 L268.17,401.37 L267.42,403.35 L266.71,405.35 L266.04,407.37 L265.40,409.39 L264.79,411.42 L264.22,413.47 L263.68,415.53 L263.16,417.60 L262.68,419.68 L262.23,421.76 L261.81,423.86 L261.42,425.97 L261.05,428.08 L260.70,430.20 L260.38,432.33 L260.09,434.46 L259.81,436.60 L259.56,438.75 L259.33,440.90 L259.12,443.05 L258.92,445.21 L258.75,447.37 L258.59,449.54 L258.45,451.71 L258.32,453.88 L258.21,456.05 L258.10,458.22 L258.01,460.40 L257.94,462.57 L257.87,464.74 L257.81,466.92 L257.76,469.09 L257.72,471.26 L257.68,473.43 L257.66,475.59 L257.64,477.76 L257.63,479.93 L257.62,482.09 L257.62,484.26 L257.63,486.42 L257.64,488.58 L257.67,490.75 L257.69,492.91 L257.73,495.07 L257.76,497.23 L257.81,499.39 L257.86,501.55 L257.91,503.71 L257.97,505.87 L258.03,508.03 L258.10,510.19 L258.17,512.35 L258.24,514.51 L258.32,516.67 L258.40,518.83 L258.49,520.99 L258.58,523.15 L258.67,525.31 L258.76,527.47 L258.86,529.63 L258.95,531.80 L259.05,533.96 L259.15,536.12 L259.26,538.29 L259.36,540.45 L259.47,542.62 L259.58,544.78 L259.69,546.95 L259.81,549.11 L259.93,551.28 L260.05,553.45 L260.17,555.61 L260.30,557.78 L260.43,559.95 L260.56,562.12 L260.70,564.28 L260.84,566.45 L260.99,568.62 L261.14,570.78 L261.29,572.95 L261.45,575.12 L261.61,577.28 L261.78,579.45 L261.95,581.61 L262.13,583.77 L262.31,585.94 L262.50,588.10 L262.69,590.26 L262.89,592.42 L263.09,594.59 L263.30,596.74 L263.52,598.90 L263.74,601.06 L263.97,603.22 L264.20,605.37 L264.44,607.53 L264.69,609.68 L264.94,611.83 L265.20,613.99 L265.47,616.13 L265.75,618.28 L266.03,620.43 L266.32,622.57 L266.62,624.72 L266.92,626.86 L267.24,629.00 L267.56,631.14 L267.89,633.28 L268.22,635.41 L268.57,637.54 L268.93,639.67 L269.29,641.80 L269.66,643.93 L270.04,646.05 L270.43,648.18 L270.83,650.30 L271.24,652.42 L271.66,654.53 L272.09,656.65 L272.53,658.76 L272.98,660.86 L273.44,662.97 L273.91,665.07 L274.39,667.17 L274.88,669.27 L275.38,671.37 L275.89,673.46 L276.41,675.55 L276.95,677.64 L277.49,679.72 L278.05,681.80 L278.62,683.88 L279.20,685.95 L279.79,688.02 L280.39,690.09 L281.01,692.16 L281.64,694.22 L282.28,696.28 L282.93,698.33 L283.60,700.38 L284.27,702.43 L284.97,704.47 L285.67,706.51 L286.39,708.55 L287.12,710.58 L287.87,712.61 L288.62,714.64 L289.40,716.66 L290.18,718.67 L290.98,720.69 L291.80,722.69 L292.63,724.70 L293.47,726.70 L294.33,728.70 L295.21,730.69 L296.09,732.67 L297.00,734.66 L297.92,736.64 L298.85,738.61 L299.80,740.58 L300.77,742.54 L300.85,743.32 L300.42,744.66 L300.00,745.99 L299.59,747.33 L299.18,748.67 L298.77,750.01 L298.37,751.35 L297.97,752.69 L297.57,754.03 L297.18,755.37 L296.79,756.71 L296.40,758.05 L296.01,759.40 L295.62,760.74 L295.23,762.08 L294.84,763.42 L294.45,764.76 L294.06,766.10 L293.67,767.44 L293.28,768.78 L292.88,770.12 L292.48,771.46 L292.08,772.80 L291.68,774.13 L291.27,775.46 L290.85,776.79 L290.43,778.12 L290.01,779.45 L289.58,780.78 L289.14,782.10 L288.70,783.42 L288.25,784.74 L287.80,786.05 L287.33,787.37 L286.86,788.68 L286.38,789.99 L285.89,791.29 L285.38,792.59 L284.87,793.89 L284.35,795.18 L283.82,796.47 L283.28,797.76 L282.72,799.04 L282.16,800.32 L281.58,801.60 L280.98,802.87 L280.38,804.13 L279.76,805.39 L279.12,806.65 L278.47,807.90 L277.81,809.15 L277.13,810.39 L276.43,811.63 L275.72,812.86 L274.99,814.08 L274.24,815.30 L273.48,816.52 L272.70,817.73 L271.90,818.93 L271.08,820.12 L270.24,821.31 L269.38,822.49 L268.50,823.66 L267.61,824.82 L266.70,825.97 L265.77,827.11 L264.82,828.23 L263.85,829.33 L262.87,830.42 L261.87,831.49 L260.85,832.54 L259.82,833.58 L258.77,834.59 L257.70,835.57 L256.62,836.54 L255.53,837.48 L254.41,838.39 L253.28,839.28 L252.14,840.13 L250.98,840.96 L249.81,841.76 L248.62,842.52 L247.41,843.26 L246.20,843.96 L244.97,844.62 L243.72,845.24 L242.46,845.83 L241.19,846.38 L239.91,846.89 L238.61,847.36 L237.30,847.79 L235.98,848.17 L234.66,848.52 L233.32,848.82 L231.98,849.09 L230.64,849.31 L229.29,849.49 L227.95,849.62 L226.60,849.72 L225.25,849.77 L223.90,849.78 L222.56,849.75 L221.23,849.68 L219.90,849.56 L218.57,849.41 L217.26,849.21 L215.96,848.96 L214.67,848.67 L213.39,848.34 L212.13,847.97 L210.88,847.56 L209.64,847.10 L208.42,846.60 L207.21,846.07 L206.02,845.50 L204.84,844.89 L203.68,844.24 L202.53,843.56 L201.39,842.84 L200.27,842.09 L199.17,841.30 L198.08,840.49 L197.01,839.64 L195.95,838.76 L194.91,837.86 L193.88,836.92 L192.87,835.96 L191.87,834.97 L190.89,833.96 L189.93,832.92 L188.98,831.85 L188.05,830.77 L187.14,829.66 L186.24,828.53 L185.36,827.38 L184.50,826.21 L183.65,825.02 L182.82,823.82 L182.00,822.59 L181.21,821.36 L180.43,820.10 L179.67,818.84 L178.92,817.55 L178.20,816.26 L177.49,814.96 L176.80,813.64 L176.13,812.32 L175.47,810.99 L174.83,809.65 L174.22,808.30 L173.62,806.94 L173.04,805.59 L172.47,804.22 L171.93,802.86 L171.41,801.49 L170.90,800.12 L170.41,798.75 L169.95,797.38 L169.50,796.01 L169.07,794.64 L168.66,793.28 L168.27,791.91 L167.89,790.55 L167.53,789.19 L167.18,787.84 L166.85,786.48 L166.53,785.13 L166.21,783.77 L165.91,782.42 L165.62,781.07 L165.33,779.72 L165.06,778.37 L164.78,777.03 L164.51,775.68 L164.25,774.34 L163.98,772.99 L163.72,771.65 L163.46,770.31 L163.20,768.97 L162.93,767.62 L162.66,766.28 L162.39,764.94 L162.11,763.60 L161.82,762.26 L161.53,760.92 L161.23,759.58 L160.92,758.24 L160.59,756.90 L160.26,755.56 L159.91,754.22 L159.55,752.88 L159.17,751.53 L158.78,750.19 L158.37,748.85 L157.94,747.50 L157.49,746.16 L157.02,744.81 L156.53,743.46 L156.01,742.11 L156.58,740.18 L157.45,738.16 L158.32,736.14 L159.17,734.12 L160.02,732.10 L160.86,730.07 L161.68,728.04 L162.50,726.02 L163.31,723.99 L164.10,721.96 L164.89,719.93 L165.67,717.89 L166.44,715.86 L167.20,713.82 L167.95,711.78 L168.69,709.75 L169.42,707.71 L170.14,705.67 L170.86,703.62 L171.56,701.58 L172.26,699.53 L172.94,697.49 L173.62,695.44 L174.29,693.39 L174.95,691.34 L175.60,689.29 L176.24,687.24 L176.87,685.18 L177.49,683.13 L178.11,681.07 L178.72,679.01 L179.31,676.95 L179.90,674.89 L180.48,672.83 L181.06,670.76 L181.62,668.70 L182.18,666.63 L182.72,664.56 L183.26,662.49 L183.79,660.42 L184.32,658.35 L184.83,656.27 L185.34,654.20 L185.83,652.12 L186.33,650.04 L186.81,647.97 L187.28,645.88 L187.75,643.80 L188.21,641.72 L188.66,639.63 L189.10,637.55 L189.54,635.46 L189.97,633.37 L190.39,631.28 L190.80,629.19 L191.21,627.10 L191.61,625.00 L192.00,622.91 L192.38,620.81 L192.76,618.71 L193.13,616.61 L193.49,614.51 L193.85,612.40 L194.20,610.30 L194.54,608.19 L194.87,606.09 L195.20,603.98 L195.52,601.87 L195.83,599.75 L196.14,597.64 L196.44,595.53 L196.73,593.41 L197.02,591.29 L197.30,589.17 L197.57,587.05 L197.84,584.93 L198.10,582.81 L198.36,580.68 L198.60,578.56 L198.85,576.43 L199.08,574.30 L199.31,572.17 L199.53,570.04 L199.75,567.91 L199.96,565.77 L200.17,563.63 L200.36,561.50 L200.56,559.36 L200.74,557.22 L200.93,555.07 L201.10,552.93 L201.27,550.78 L201.43,548.64 L201.59,546.49 L201.75,544.34 L201.89,542.19 L202.03,540.04 L202.17,537.88 L202.30,535.73 L202.43,533.57 L202.55,531.41 L202.66,529.25 L202.77,527.09 L202.88,524.93 L202.98,522.76 L203.07,520.59 L203.16,518.43 L203.24,516.26 L203.32,514.09 L203.40,511.91 L203.47,509.74 L203.53,507.57 L203.59,505.39 L203.65,503.21 L203.70,501.03 L203.75,498.85 L203.79,496.67 L203.82,494.48 L203.85,492.30 L203.88,490.11 L203.90,487.93 L203.91,485.74 L203.91,483.55 L203.90,481.37 L203.89,479.18 L203.87,477.00 L203.83,474.82 L203.79,472.63 L203.74,470.45 L203.68,468.27 L203.60,466.10 L203.52,463.92 L203.42,461.75 L203.31,459.58 L203.18,457.42 L203.04,455.25 L202.89,453.09 L202.73,450.94 L202.54,448.78 L202.35,446.64 L202.13,444.49 L201.91,442.35 L201.66,440.22 L201.40,438.09 L201.11,435.97 L200.82,433.85 L200.50,431.74 L200.16,429.63 L199.80,427.53 L199.43,425.44 L199.03,423.36 L198.61,421.28 L198.17,419.21 L197.71,417.14 L197.22,415.09 L196.72,413.04 L196.19,411.00 L195.63,408.97 L195.06,406.95 L194.45,404.93 L193.82,402.93 L193.17,400.94 L192.49,398.95 L191.78,396.98 L191.05,395.01 L190.29,393.06 L189.50,391.12 L188.68,389.19 L187.84,387.26 L186.96,385.36 L186.06,383.46 L185.12,381.58 L184.16,379.71 L183.16,377.85 L182.13,376.01 L181.07,374.19 L179.98,372.38 L178.85,370.59 L177.69,368.82 L176.50,367.06 L175.27,365.33 L174.01,363.61 L172.71,361.91 L171.37,360.24 L170.00,358.58 L168.60,356.95 L167.15,355.34 L165.67,353.75 L164.15,352.18 L162.60,350.64 L161.00,349.13 L159.36,347.64 L157.69,346.17 L155.97,344.74 L154.22,343.33 L152.42,341.94 L150.58,340.59 L148.70,339.26 L146.77,337.97 Z" fill="url(#greyG)"/>

<!-- logo -->
<text x="183.2" y="116" font-style="italic" font-size="20.5" fill="#2b2a20" stroke="#2b2a20" stroke-width="0.3" textLength="12" lengthAdjust="spacingAndGlyphs">E</text>
<text x="210.6" y="116.3" font-style="italic" font-size="20.5" fill="#2b2a20" stroke="#2b2a20" stroke-width="0.3" textLength="75" lengthAdjust="spacingAndGlyphs">PLORER</text>
<path d="M195.6,95.3 C199,101 204,111 210.6,121.6" stroke="#2e2d22" stroke-width="5" stroke-linecap="round" fill="none"/>
<path d="M215.6,96 C207,104 198,113 190.6,121.6" stroke="#2e2d22" stroke-width="3.8" stroke-linecap="round" fill="none"/>

<!-- D-ring pads -->
<g fill="#de5890" stroke="#c9487e" stroke-width="1">
<circle cx="174.6" cy="151" r="13.8"/>
<circle cx="295" cy="154.7" r="13.4"/>
<circle cx="162.4" cy="252.8" r="13.5"/>
<circle cx="307" cy="253" r="13.3"/>
</g>
<g fill="none" stroke="#f2a6c4" stroke-width="1.2" opacity="0.8">
<circle cx="178" cy="154.5" r="3"/>
<circle cx="291.5" cy="156.5" r="3"/>
<circle cx="168" cy="250.5" r="3"/>
<circle cx="303.5" cy="250.5" r="3"/>
</g>
<g stroke="#33292b" stroke-width="1.6" fill="none" stroke-linecap="round">
<path d="M180,153.8 L288.75,155.5 M180,153.8 L301.7,249.6 M288.75,155.5 L170,250.3 M170,250.3 L301.7,249.6"/>
<path d="M240.8,252 L238.9,259 M243.4,252 L245.3,258.8"/>
</g>
<ellipse cx="242" cy="250.3" rx="3" ry="2.3" fill="#2a2626"/>

<!-- handle -->
<rect x="221.6" y="461" width="13.2" height="49.6" rx="4.5" fill="#13132b"/>
<text x="0" y="0" transform="translate(230.6 497) rotate(-90)" font-size="5.5" font-style="italic" font-weight="bold" fill="#e8e8ee" textLength="21" lengthAdjust="spacingAndGlyphs">EXPLORER</text>

<!-- valve, sticker, D-ring -->
<circle cx="225.5" cy="870.5" r="11.5" fill="#eceef0"/>
<circle cx="225.5" cy="870.5" r="9.8" fill="#9a9b9d"/>
<circle cx="227" cy="868" r="4" fill="#aaabad"/>
<rect x="184.2" y="875.6" width="80.2" height="41.7" fill="#eef0f2"/>
<g fill="none" stroke="#d4d6d9" stroke-width="0.6">
<rect x="184.8" y="876.6" width="26" height="16"/>
<rect x="211.5" y="876.6" width="26" height="16"/>
<rect x="238.5" y="876.6" width="25" height="16"/>
</g>
<path d="M191.2,878.6 L196.9,887.8 L185.6,887.8 Z" fill="#e4dc48" stroke="#6a6420" stroke-width="0.5"/>
<path d="M200,886 C200,881 206,880 207,884" stroke="#2a3550" stroke-width="1.4" fill="none"/>
<circle cx="246.6" cy="884" r="4.4" fill="#163a7a"/>
<rect x="246" y="881.5" width="1.2" height="4" fill="#fff"/>
<path d="M253,883 h8 M253,886 h6" stroke="#5a6070" stroke-width="1"/>
<circle cx="191.3" cy="900" r="4.8" fill="#163a7a"/>
<rect x="190.7" y="897" width="1.2" height="4.5" fill="#fff"/>
<rect x="200.5" y="896" width="6.5" height="9.5" fill="#1e2430"/>
<rect x="202" y="899" width="3.5" height="2" fill="#fff"/>
<path d="M215.5,897 v7 M218.5,899 v4" stroke="#222" stroke-width="1.6"/>
<circle cx="231.6" cy="900.3" r="4.3" fill="none" stroke="#d04a5a" stroke-width="0.9"/>
<path d="M228.6,897.3 L234.6,903.3" stroke="#d04a5a" stroke-width="0.9"/>
<path d="M240,906 L240,899 L248.4,905 L248.4,906 Z" fill="#1a2440"/>
<path d="M253,906 L253,899 L262.5,905 L262.5,906 Z" fill="#1a2440"/>
<rect x="184.7" y="908.4" width="64.7" height="8.5" fill="#e6da44"/>
<circle cx="226" cy="939.7" r="16.3" fill="#c44079"/>
<circle cx="226" cy="939.7" r="16.3" fill="none" stroke="#f0c0d4" stroke-width="0.8" opacity="0.7"/>
<path d="M219.5,943 C219.5,955 232.5,955 232.5,943" fill="none" stroke="#f4b8d0" stroke-width="1.3"/>

<!-- arrows -->
<g fill="#2a2924" stroke="#c9c9c9" stroke-width="0.8" stroke-linejoin="round">
<path d="M56.30,139.00 C76.21,134.84 102.09,129.43 121.00,120.80 C120.00,126.52 114.03,133.28 110.45,136.35 L470.2,136.35 L470.2,141.65 L110.45,141.65 C114.03,144.72 120.00,151.48 121.00,157.20 C102.09,148.57 76.21,143.16 56.30,139.00 Z"/>
<path d="M272.00,231.00 C291.23,227.53 316.23,223.01 334.50,215.80 C333.54,220.58 327.77,226.22 324.31,228.35 L470.2,228.35 L470.2,233.65 L324.31,233.65 C327.77,235.78 333.54,241.42 334.50,246.20 C316.23,238.99 291.23,234.47 272.00,231.00 Z"/>
<path d="M260.80,380.00 C280.80,376.05 306.80,370.91 325.80,362.70 C324.80,368.14 318.80,374.56 315.20,377.35 L470.2,377.35 L470.2,382.65 L315.20,382.65 C318.80,385.44 324.80,391.86 325.80,397.30 C306.80,389.09 280.80,383.95 260.80,380.00 Z"/>
<path d="M227.00,459.80 C247.18,455.87 273.42,450.76 292.60,442.60 C291.59,448.01 285.54,454.39 281.90,457.15 L470.2,457.15 L470.2,462.45 L281.90,462.45 C285.54,465.21 291.59,471.59 292.60,477.00 C273.42,468.84 247.18,463.73 227.00,459.80 Z"/>
<path d="M339.90,518.50 C358.98,514.34 383.78,508.93 401.90,500.30 C400.95,506.02 395.22,512.78 391.79,515.85 L470.2,515.85 L470.2,521.15 L391.79,521.15 C395.22,524.22 400.95,530.98 401.90,536.70 C383.78,528.07 358.98,522.66 339.90,518.50 Z"/>
<path d="M259.40,626.20 C279.58,622.27 305.82,617.16 325.00,609.00 C323.99,614.41 317.94,620.79 314.30,623.55 L470.2,623.55 L470.2,628.85 L314.30,628.85 C317.94,631.61 323.99,637.99 325.00,643.40 C305.82,635.24 279.58,630.13 259.40,626.20 Z"/>
<path d="M87.00,776.40 C105.77,772.29 130.17,766.94 148.00,758.40 C147.06,764.06 141.43,770.74 138.05,773.75 L470.2,773.75 L470.2,779.05 L138.05,779.05 C141.43,782.06 147.06,788.74 148.00,794.40 C130.17,785.86 105.77,780.51 87.00,776.40 Z"/>
<path d="M235.90,877.00 C258.24,872.95 287.28,867.69 308.50,859.30 C307.38,864.86 300.68,871.44 296.66,874.35 L470.2,874.35 L470.2,879.65 L296.66,879.65 C300.68,882.56 307.38,889.14 308.50,894.70 C287.28,886.31 258.24,881.05 235.90,877.00 Z"/>
<path d="M223.50,930.00 C247.07,925.89 277.71,920.54 300.10,912.00 C298.92,917.66 291.85,924.34 287.61,927.35 L470.2,927.35 L470.2,932.65 L287.61,932.65 C291.85,935.66 298.92,942.34 300.10,948.00 C277.71,939.46 247.07,934.11 223.50,930.00 Z"/>
</g>

<!-- text -->
<g font-family="Liberation Sans" font-weight="bold" font-size="21.6" fill="#1c1c1c" stroke="#1c1c1c" stroke-width="0.3" stroke-linejoin="round">
<text x="488.5" y="147.9" transform="translate(490 0) scale(1.054 1) translate(-490 0)">Robuste 6“/15cm dicke Konstruktion</text>
<text x="488.5" y="172.9" transform="translate(490 0) scale(1.054 1) translate(-490 0)">mit umlaufender Kantenverstärkung</text>
<text x="488.5" y="238.6" transform="translate(490 0) scale(1.054 1) translate(-490 0)">Gepäcksystem mit robusten D-Ringen</text>
<text x="488.5" y="264.0" transform="translate(490 0) scale(1.054 1) translate(-490 0)">und elastischem Gummiband</text>
<text x="488.5" y="360.2" transform="translate(490 0) scale(1.054 1) translate(-490 0)">Sehr großes (176cm lang,bis 66cm breit),</text>
<text x="488.5" y="386.2" transform="translate(490 0) scale(1.054 1) translate(-490 0)">rutschfestes, diamant-geprägtes EVA-Deck</text>
<text x="488.5" y="412.3" transform="translate(490 0) scale(1.054 1) translate(-490 0)">hitzegeprägt</text>
<text x="488.5" y="456.6" transform="translate(490 0) scale(1.054 1) translate(-490 0)">Neoprenummantelter Tragegriff</text>
<text x="488.5" y="522.1" transform="translate(490 0) scale(1.054 1) translate(-490 0)">76cm breit,</text>
<text x="488.5" y="547.9" transform="translate(490 0) scale(1.054 1) translate(-490 0)">dadurch kippstabil</text>
<text x="488.5" y="629.6" transform="translate(490 0) scale(1.054 1) translate(-490 0)">Klares Design</text>
<text x="488.5" y="762.0" transform="translate(490 0) scale(1.054 1) translate(-490 0)">1 Center Fin(1 slide-in-Zentralfinne)</text>
<text x="488.5" y="787.0" transform="translate(490 0) scale(1.054 1) translate(-490 0)">+ 2 feste Seitenfinnen</text>
<text x="488.5" y="813.1" transform="translate(490 0) scale(1.054 1) translate(-490 0)">für optimale Spurstabilität</text>
<text x="488.5" y="872.3" transform="translate(490 0) scale(1.054 1) translate(-490 0)">Hochdruck-Schraubventil</text>
<text x="488.5" y="898.1" transform="translate(490 0) scale(1.054 1) translate(-490 0)">für schnelles Befüllen und Entleeren</text>
<text x="488.5" y="927.9" transform="translate(490 0) scale(1.054 1) translate(-490 0)">D-Ring hinten</text>
<text x="488.5" y="952.9" transform="translate(490 0) scale(1.054 1) translate(-490 0)">z.B. für Leash oder zum Festmachen</text>
</g>
</svg>
</body></html>
